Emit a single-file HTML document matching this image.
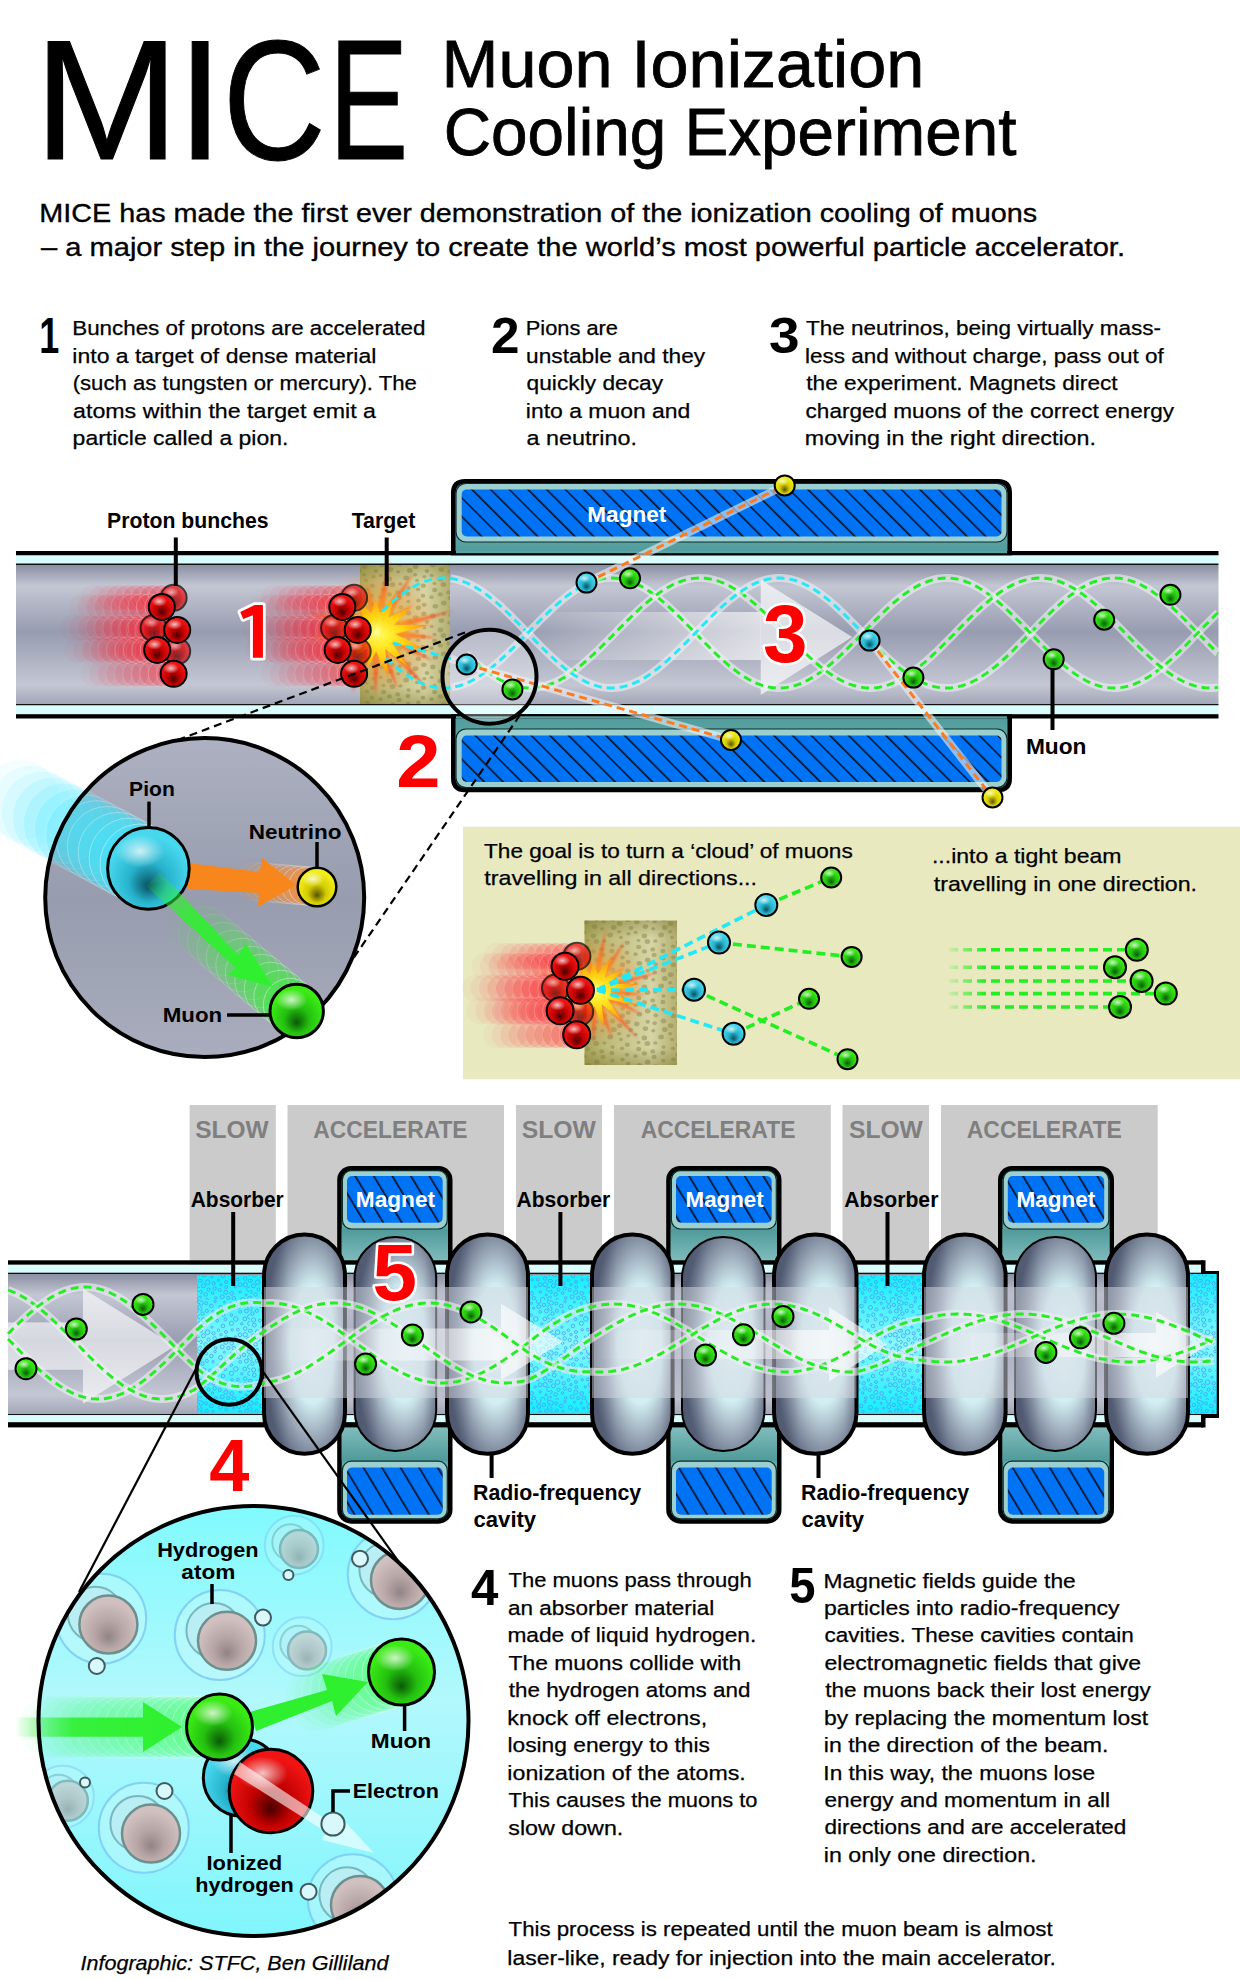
<!DOCTYPE html>
<html><head><meta charset="utf-8"><style>
html,body{margin:0;padding:0;background:#fff;width:1240px;height:1980px;overflow:hidden}
svg{display:block}
text{font-family:"Liberation Sans",sans-serif}
</style></head><body>
<svg width="1240" height="1980" viewBox="0 0 1240 1980">
<defs>
<radialGradient id="gGreen" cx="0.5" cy="0.6" r="0.6" fx="0.5" fy="0.72"><stop offset="0" stop-color="#0a5a06"/><stop offset="0.4" stop-color="#24c010"/><stop offset="0.85" stop-color="#3aec14"/><stop offset="1" stop-color="#3aec14"/></radialGradient>
<radialGradient id="gCyan" cx="0.5" cy="0.6" r="0.6" fx="0.5" fy="0.72"><stop offset="0" stop-color="#0a5060"/><stop offset="0.4" stop-color="#26b2cc"/><stop offset="0.85" stop-color="#48d8ee"/><stop offset="1" stop-color="#48d8ee"/></radialGradient>
<radialGradient id="gYellow" cx="0.5" cy="0.6" r="0.6" fx="0.5" fy="0.72"><stop offset="0" stop-color="#5a5200"/><stop offset="0.4" stop-color="#d4cc00"/><stop offset="0.85" stop-color="#f2ee18"/><stop offset="1" stop-color="#f2ee18"/></radialGradient>
<radialGradient id="gRed" cx="0.5" cy="0.6" r="0.6" fx="0.5" fy="0.72"><stop offset="0" stop-color="#4a0000"/><stop offset="0.4" stop-color="#c00000"/><stop offset="0.85" stop-color="#f01414"/><stop offset="1" stop-color="#f01414"/></radialGradient>
<radialGradient id="gPink" cx="0.5" cy="0.6" r="0.6" fx="0.5" fy="0.72"><stop offset="0" stop-color="#918486"/><stop offset="0.4" stop-color="#b8a6a6"/><stop offset="0.85" stop-color="#d0c0c0"/><stop offset="1" stop-color="#d0c0c0"/></radialGradient>
<radialGradient id="shine" cx="0.5" cy="0.5" r="0.5"><stop offset="0" stop-color="#fff" stop-opacity="0.75"/><stop offset="1" stop-color="#fff" stop-opacity="0"/></radialGradient>
<linearGradient id="tubeG" x1="0" y1="0" x2="0" y2="1"><stop offset="0" stop-color="#8a8fa2"/><stop offset="0.15" stop-color="#c4c7d3"/><stop offset="0.48" stop-color="#979cb0"/><stop offset="0.86" stop-color="#c4c7d3"/><stop offset="1" stop-color="#a2a7b8"/></linearGradient>
<linearGradient id="circ1G" x1="0" y1="0" x2="0" y2="1"><stop offset="0" stop-color="#adb1c1"/><stop offset="0.5" stop-color="#979cae"/><stop offset="1" stop-color="#a9adbd"/></linearGradient>
<linearGradient id="circ2G" x1="0" y1="0" x2="0" y2="1"><stop offset="0" stop-color="#80fafe"/><stop offset="0.45" stop-color="#b2f8fc"/><stop offset="1" stop-color="#80f6fc"/></linearGradient>
<linearGradient id="targetG" x1="0" y1="0" x2="1" y2="0"><stop offset="0" stop-color="#a8a45a"/><stop offset="0.2" stop-color="#bcb875"/><stop offset="0.72" stop-color="#d7d5a6"/><stop offset="1" stop-color="#b3af70"/></linearGradient>
<linearGradient id="tealG" x1="0" y1="0" x2="0" y2="1"><stop offset="0" stop-color="#4f9a9a"/><stop offset="1" stop-color="#8cc4c4"/></linearGradient>
<linearGradient id="tealG2" x1="0" y1="1" x2="0" y2="0"><stop offset="0" stop-color="#4f9a9a"/><stop offset="1" stop-color="#8cc4c4"/></linearGradient>
<radialGradient id="cavG" cx="0.6" cy="0.5" r="0.6"><stop offset="0" stop-color="#e6fbfd"/><stop offset="0.45" stop-color="#d2eef2"/><stop offset="0.72" stop-color="#98a6b6"/><stop offset="1" stop-color="#58627a"/></radialGradient>
<linearGradient id="cavV" x1="0" y1="0" x2="1" y2="0"><stop offset="0" stop-color="#3c4458" stop-opacity="0.35"/><stop offset="0.3" stop-color="#3c4458" stop-opacity="0"/><stop offset="0.85" stop-color="#3c4458" stop-opacity="0"/><stop offset="1" stop-color="#3c4458" stop-opacity="0.25"/></linearGradient>
<linearGradient id="arrowShaft" x1="0" y1="0" x2="1" y2="0"><stop offset="0" stop-color="#fff" stop-opacity="0"/><stop offset="1" stop-color="#fff" stop-opacity="0.65"/></linearGradient>
<linearGradient id="trailR" x1="0" y1="0" x2="1" y2="0"><stop offset="0" stop-color="#ff2020" stop-opacity="0"/><stop offset="1" stop-color="#ff2020" stop-opacity="0.55"/></linearGradient>
<pattern id="hatch" patternUnits="userSpaceOnUse" width="15.9" height="15.9" patternTransform="rotate(-31)"><rect width="15.9" height="15.9" fill="#0073f5"/><rect x="0" y="0" width="1.7" height="15.9" fill="#06122a"/></pattern>
<pattern id="hatchU" patternUnits="userSpaceOnUse" width="13.2" height="13.2" patternTransform="rotate(-45)"><rect width="13.2" height="13.2" fill="#0073f5"/><rect x="0" y="0" width="1.6" height="13.2" fill="#06122a"/></pattern>
<pattern id="bubbles" patternUnits="userSpaceOnUse" width="50" height="50"><g fill="none" stroke="#4898f0" stroke-width="0.75"><circle cx="11.9" cy="27.2" r="1.1"/><circle cx="18.5" cy="30.2" r="1.3"/><circle cx="31.3" cy="3.3" r="1.1"/><circle cx="0.7" cy="41.9" r="1.6"/><circle cx="13.0" cy="11.7" r="1.2"/><circle cx="49.8" cy="23.5" r="2.1"/><circle cx="41.8" cy="23.8" r="1.2"/><circle cx="31.7" cy="43.4" r="1.8"/><circle cx="26.2" cy="37.1" r="1.4"/><circle cx="37.9" cy="29.6" r="1.4"/><circle cx="15.1" cy="1.6" r="1.2"/><circle cx="19.7" cy="40.0" r="1.6"/><circle cx="22.2" cy="46.8" r="2.0"/><circle cx="43.9" cy="4.9" r="1.7"/><circle cx="6.8" cy="10.8" r="1.6"/><circle cx="31.3" cy="15.1" r="1.3"/><circle cx="25.4" cy="19.3" r="1.4"/><circle cx="42.8" cy="49.5" r="2.1"/><circle cx="33.6" cy="8.2" r="1.1"/><circle cx="45.2" cy="28.5" r="1.8"/><circle cx="20.5" cy="7.5" r="2.0"/><circle cx="14.7" cy="38.4" r="1.7"/><circle cx="9.9" cy="20.4" r="1.4"/><circle cx="15.7" cy="47.9" r="1.3"/><circle cx="44.8" cy="18.9" r="1.9"/><circle cx="23.0" cy="26.0" r="1.8"/><circle cx="32.2" cy="29.8" r="1.2"/><circle cx="1.0" cy="30.8" r="1.4"/><circle cx="31.4" cy="23.3" r="2.1"/><circle cx="35.3" cy="36.9" r="1.1"/><circle cx="1.1" cy="3.0" r="2.2"/><circle cx="33.8" cy="48.2" r="1.8"/><circle cx="18.2" cy="15.6" r="1.3"/><circle cx="38.6" cy="1.3" r="2.2"/><circle cx="40.2" cy="11.9" r="1.4"/><circle cx="11.3" cy="6.0" r="1.8"/><circle cx="26.5" cy="9.5" r="1.6"/><circle cx="40.3" cy="41.9" r="1.2"/><circle cx="17.3" cy="20.8" r="1.4"/><circle cx="0.2" cy="47.2" r="1.2"/><circle cx="46.4" cy="11.1" r="1.9"/><circle cx="45.2" cy="34.7" r="2.2"/><circle cx="46.2" cy="44.8" r="1.1"/><circle cx="12.6" cy="43.1" r="1.3"/><circle cx="8.6" cy="39.6" r="1.6"/><circle cx="2.5" cy="13.6" r="1.7"/><circle cx="6.2" cy="3.4" r="1.5"/><circle cx="4.3" cy="25.1" r="1.9"/><circle cx="35.8" cy="19.0" r="2.3"/><circle cx="21.0" cy="34.7" r="1.2"/><circle cx="7.2" cy="49.6" r="1.2"/><circle cx="13.7" cy="33.3" r="1.6"/><circle cx="5.6" cy="44.4" r="1.8"/><circle cx="3.4" cy="35.8" r="2.0"/><circle cx="28.3" cy="48.0" r="1.6"/><circle cx="3.6" cy="20.0" r="2.1"/><circle cx="7.6" cy="32.2" r="2.3"/><circle cx="49.8" cy="16.8" r="2.2"/><circle cx="26.0" cy="32.0" r="1.5"/><circle cx="49.0" cy="39.3" r="2.3"/><circle cx="49.0" cy="1.8" r="1.7"/><circle cx="25.8" cy="42.3" r="2.0"/><circle cx="0.0" cy="8.9" r="2.1"/><circle cx="24.4" cy="2.2" r="1.0"/><circle cx="49.9" cy="7.1" r="2.3"/><circle cx="49.6" cy="48.6" r="2.0"/><circle cx="38.8" cy="6.6" r="1.9"/><circle cx="40.1" cy="34.8" r="1.9"/><circle cx="49.7" cy="30.8" r="1.5"/><circle cx="23.3" cy="14.6" r="1.7"/></g></pattern>
<linearGradient id="absG" x1="0" y1="0" x2="0" y2="1"><stop offset="0" stop-color="#14eefe"/><stop offset="0.5" stop-color="#86f8fe"/><stop offset="1" stop-color="#14eefe"/></linearGradient>
<pattern id="dots" patternUnits="userSpaceOnUse" width="51" height="51"><g fill="#8a864a" fill-opacity="0.5"><ellipse cx="0.5" cy="1.0" rx="2.8" ry="2.4"/><ellipse cx="0.5" cy="52.0" rx="2.8" ry="2.4"/><ellipse cx="51.5" cy="1.0" rx="2.8" ry="2.4"/><ellipse cx="51.5" cy="52.0" rx="2.8" ry="2.4"/><ellipse cx="1.8" cy="9.5" rx="2.9" ry="2.5"/><ellipse cx="52.8" cy="9.5" rx="2.9" ry="2.5"/><ellipse cx="-1.9" cy="16.9" rx="2.9" ry="2.5"/><ellipse cx="49.1" cy="16.9" rx="2.9" ry="2.5"/><ellipse cx="0.6" cy="27.1" rx="2.1" ry="1.8"/><ellipse cx="51.6" cy="27.1" rx="2.1" ry="1.8"/><ellipse cx="-0.1" cy="33.0" rx="2.5" ry="2.2"/><ellipse cx="50.9" cy="33.0" rx="2.5" ry="2.2"/><ellipse cx="0.3" cy="40.6" rx="2.2" ry="1.9"/><ellipse cx="51.3" cy="40.6" rx="2.2" ry="1.9"/><ellipse cx="7.6" cy="5.7" rx="2.8" ry="2.4"/><ellipse cx="7.1" cy="13.7" rx="2.1" ry="1.8"/><ellipse cx="9.0" cy="19.5" rx="2.0" ry="1.7"/><ellipse cx="10.0" cy="28.3" rx="2.2" ry="1.9"/><ellipse cx="10.4" cy="39.5" rx="2.3" ry="1.9"/><ellipse cx="10.3" cy="46.7" rx="2.7" ry="2.3"/><ellipse cx="15.8" cy="1.8" rx="2.7" ry="2.3"/><ellipse cx="15.8" cy="52.8" rx="2.7" ry="2.3"/><ellipse cx="18.9" cy="10.1" rx="2.3" ry="2.0"/><ellipse cx="16.4" cy="15.7" rx="2.1" ry="1.8"/><ellipse cx="15.3" cy="24.7" rx="2.6" ry="2.2"/><ellipse cx="15.0" cy="34.7" rx="2.3" ry="2.0"/><ellipse cx="16.2" cy="43.8" rx="2.5" ry="2.1"/><ellipse cx="24.8" cy="3.9" rx="2.7" ry="2.3"/><ellipse cx="24.8" cy="54.9" rx="2.7" ry="2.3"/><ellipse cx="23.7" cy="14.4" rx="2.0" ry="1.7"/><ellipse cx="26.5" cy="22.4" rx="2.0" ry="1.7"/><ellipse cx="26.7" cy="29.0" rx="2.6" ry="2.2"/><ellipse cx="23.5" cy="36.2" rx="2.2" ry="1.9"/><ellipse cx="27.3" cy="45.3" rx="2.8" ry="2.3"/><ellipse cx="35.7" cy="1.8" rx="2.3" ry="2.0"/><ellipse cx="35.7" cy="52.8" rx="2.3" ry="2.0"/><ellipse cx="33.4" cy="8.6" rx="2.8" ry="2.4"/><ellipse cx="32.4" cy="18.0" rx="2.8" ry="2.4"/><ellipse cx="35.4" cy="23.6" rx="2.9" ry="2.5"/><ellipse cx="32.4" cy="33.4" rx="2.6" ry="2.2"/><ellipse cx="35.7" cy="41.9" rx="2.9" ry="2.5"/><ellipse cx="42.7" cy="3.2" rx="2.3" ry="2.0"/><ellipse cx="42.7" cy="54.2" rx="2.3" ry="2.0"/><ellipse cx="41.2" cy="10.8" rx="2.1" ry="1.8"/><ellipse cx="43.3" cy="23.0" rx="2.2" ry="1.8"/><ellipse cx="40.7" cy="31.4" rx="2.5" ry="2.2"/><ellipse cx="42.1" cy="36.9" rx="2.6" ry="2.2"/><ellipse cx="43.8" cy="46.3" rx="2.4" ry="2.1"/></g></pattern>
<linearGradient id="targetV" x1="0" y1="0" x2="0" y2="1"><stop offset="0" stop-color="#6a6620" stop-opacity="0.35"/><stop offset="0.12" stop-color="#6a6620" stop-opacity="0"/><stop offset="0.88" stop-color="#6a6620" stop-opacity="0"/><stop offset="1" stop-color="#6a6620" stop-opacity="0.35"/></linearGradient>
<radialGradient id="glowG"><stop offset="0" stop-color="#fff8a0" stop-opacity="0.9"/><stop offset="0.5" stop-color="#ffb040" stop-opacity="0.45"/><stop offset="1" stop-color="#ff8040" stop-opacity="0"/></radialGradient>
<radialGradient id="expG" cx="0.5" cy="0.5" r="0.5"><stop offset="0" stop-color="#ffc000"/><stop offset="0.4" stop-color="#ff7a18"/><stop offset="1" stop-color="#ff3a2a"/></radialGradient>
<radialGradient id="expG2" cx="0.5" cy="0.5" r="0.5"><stop offset="0" stop-color="#ffff40"/><stop offset="0.5" stop-color="#ffd010"/><stop offset="1" stop-color="#ff8a10"/></radialGradient>
<radialGradient id="expC" cx="0.5" cy="0.5" r="0.5"><stop offset="0" stop-color="#ffffa0"/><stop offset="1" stop-color="#ffe020" stop-opacity="0"/></radialGradient>
<linearGradient id="beamG" gradientUnits="userSpaceOnUse" x1="945" y1="0" x2="985" y2="0"><stop offset="0" stop-color="#22ee22" stop-opacity="0"/><stop offset="1" stop-color="#22ee22"/></linearGradient>
<filter id="blur2" x="-50%" y="-50%" width="200%" height="200%"><feGaussianBlur stdDeviation="2"/></filter>
<filter id="blur1" x="-50%" y="-50%" width="200%" height="200%"><feGaussianBlur stdDeviation="1"/></filter>
</defs>
<text x="33.81" y="159.00" font-size="171" font-weight="normal" fill="#000" textLength="145.71" lengthAdjust="spacingAndGlyphs" stroke="#000" stroke-width="1">M</text>
<text x="176.40" y="159.00" font-size="171" font-weight="normal" fill="#000" textLength="47.23" lengthAdjust="spacingAndGlyphs" stroke="#000" stroke-width="1">I</text>
<text x="222.87" y="159.00" font-size="171" font-weight="normal" fill="#000" textLength="102.94" lengthAdjust="spacingAndGlyphs" stroke="#000" stroke-width="1">C</text>
<text x="328.89" y="159.00" font-size="171" font-weight="normal" fill="#000" textLength="79.32" lengthAdjust="spacingAndGlyphs" stroke="#000" stroke-width="1">E</text>
<text x="441.53" y="86.60" font-size="66" font-weight="normal" fill="#000" textLength="482.83" lengthAdjust="spacingAndGlyphs" stroke="#000" stroke-width="0.8">Muon Ionization</text>
<text x="443.72" y="154.80" font-size="66" font-weight="normal" fill="#000" textLength="572.68" lengthAdjust="spacingAndGlyphs" stroke="#000" stroke-width="0.8">Cooling Experiment</text>
<text x="39.30" y="222.00" font-size="26.5" font-weight="normal" fill="#000" textLength="997.92" lengthAdjust="spacingAndGlyphs" stroke="#000" stroke-width="0.35">MICE has made the first ever demonstration of the ionization cooling of muons</text>
<text x="41.00" y="255.80" font-size="26.5" font-weight="normal" fill="#000" textLength="1083.98" lengthAdjust="spacingAndGlyphs" stroke="#000" stroke-width="0.35">– a major step in the journey to create the world’s most powerful particle accelerator.</text>
<text x="39.34" y="352.60" font-size="50" font-weight="bold" fill="#000" textLength="20.00" lengthAdjust="spacingAndGlyphs" >1</text>
<text x="72.21" y="335.40" font-size="20.5" font-weight="normal" fill="#000" textLength="353.28" lengthAdjust="spacingAndGlyphs" stroke="#000" stroke-width="0.25">Bunches of protons are accelerated</text>
<text x="72.39" y="362.80" font-size="20.5" font-weight="normal" fill="#000" textLength="303.96" lengthAdjust="spacingAndGlyphs" stroke="#000" stroke-width="0.25">into a target of dense material</text>
<text x="72.67" y="390.20" font-size="20.5" font-weight="normal" fill="#000" textLength="344.26" lengthAdjust="spacingAndGlyphs" stroke="#000" stroke-width="0.25">(such as tungsten or mercury). The</text>
<text x="73.07" y="417.60" font-size="20.5" font-weight="normal" fill="#000" textLength="302.94" lengthAdjust="spacingAndGlyphs" stroke="#000" stroke-width="0.25">atoms within the target emit a</text>
<text x="72.62" y="445.00" font-size="20.5" font-weight="normal" fill="#000" textLength="215.81" lengthAdjust="spacingAndGlyphs" stroke="#000" stroke-width="0.25">particle called a pion.</text>
<text x="491.06" y="353.00" font-size="50" font-weight="bold" fill="#000" textLength="28.49" lengthAdjust="spacingAndGlyphs" >2</text>
<text x="525.75" y="335.40" font-size="20.5" font-weight="normal" fill="#000" textLength="92.22" lengthAdjust="spacingAndGlyphs" stroke="#000" stroke-width="0.25">Pions are</text>
<text x="526.14" y="362.80" font-size="20.5" font-weight="normal" fill="#000" textLength="178.96" lengthAdjust="spacingAndGlyphs" stroke="#000" stroke-width="0.25">unstable and they</text>
<text x="526.59" y="390.20" font-size="20.5" font-weight="normal" fill="#000" textLength="136.47" lengthAdjust="spacingAndGlyphs" stroke="#000" stroke-width="0.25">quickly decay</text>
<text x="525.89" y="417.60" font-size="20.5" font-weight="normal" fill="#000" textLength="164.51" lengthAdjust="spacingAndGlyphs" stroke="#000" stroke-width="0.25">into a muon and</text>
<text x="526.57" y="445.00" font-size="20.5" font-weight="normal" fill="#000" textLength="110.42" lengthAdjust="spacingAndGlyphs" stroke="#000" stroke-width="0.25">a neutrino.</text>
<text x="768.90" y="352.60" font-size="50" font-weight="bold" fill="#000" textLength="30.59" lengthAdjust="spacingAndGlyphs" >3</text>
<text x="806.05" y="335.40" font-size="20.5" font-weight="normal" fill="#000" textLength="354.93" lengthAdjust="spacingAndGlyphs" stroke="#000" stroke-width="0.25">The neutrinos, being virtually mass-</text>
<text x="804.93" y="362.80" font-size="20.5" font-weight="normal" fill="#000" textLength="358.92" lengthAdjust="spacingAndGlyphs" stroke="#000" stroke-width="0.25">less and without charge, pass out of</text>
<text x="806.27" y="390.20" font-size="20.5" font-weight="normal" fill="#000" textLength="311.41" lengthAdjust="spacingAndGlyphs" stroke="#000" stroke-width="0.25">the experiment. Magnets direct</text>
<text x="805.60" y="417.60" font-size="20.5" font-weight="normal" fill="#000" textLength="368.42" lengthAdjust="spacingAndGlyphs" stroke="#000" stroke-width="0.25">charged muons of the correct energy</text>
<text x="804.87" y="445.00" font-size="20.5" font-weight="normal" fill="#000" textLength="291.12" lengthAdjust="spacingAndGlyphs" stroke="#000" stroke-width="0.25">moving in the right direction.</text>
<path d="M451,556 V493 Q451,479 465,479 H998 Q1012,479 1012,493 V556 Z" fill="#000"/>
<path d="M455.5,554.5 V493.5 Q455.5,483.5 465.5,483.5 H997.5 Q1007.5,483.5 1007.5,493.5 V554.5 Z" fill="url(#tealG2)"/>
<path d="M451,714 V778.3 Q451,792.3 465,792.3 H998 Q1012,792.3 1012,778.3 V714 Z" fill="#000"/>
<path d="M455.5,715.5 V777.8 Q455.5,787.8 465.5,787.8 H997.5 Q1007.5,787.8 1007.5,777.8 V715.5 Z" fill="url(#tealG)"/>
<rect x="456" y="483.5" width="551" height="58.5" rx="10" fill="#9ccfcf" stroke="#0d2a2a" stroke-width="1.2"/>
<rect x="461.7" y="489.4" width="539.8" height="47.1" rx="5" fill="url(#hatchU)"/>
<rect x="456" y="729" width="551" height="58.7" rx="10" fill="#9ccfcf" stroke="#0d2a2a" stroke-width="1.2"/>
<rect x="461.7" y="735.5" width="539.8" height="46.5" rx="5" fill="url(#hatchU)"/>
<rect x="16.00" y="551.00" width="1202.50" height="4.50" fill="#000" />
<rect x="451.00" y="551.00" width="561.00" height="4.50" fill="#000" />
<rect x="456.00" y="551.00" width="551.00" height="2.20" fill="#5aa3a3" />
<rect x="16.00" y="555.50" width="1202.50" height="8.00" fill="#d9fcfc" />
<rect x="16.00" y="563.50" width="1202.50" height="1.50" fill="#111" />
<rect x="16.00" y="565.00" width="1202.50" height="139.00" fill="url(#tubeG)" />
<rect x="16.00" y="704.00" width="1202.50" height="1.50" fill="#111" />
<rect x="16.00" y="705.50" width="1202.50" height="8.70" fill="#d9fcfc" />
<rect x="16.00" y="714.20" width="1202.50" height="4.30" fill="#000" />
<rect x="456.00" y="716.30" width="551.00" height="2.20" fill="#5aa3a3" />
<rect x="360.00" y="565.00" width="90.00" height="139.00" fill="url(#targetG)" />
<rect x="360.00" y="565.00" width="90.00" height="139.00" fill="url(#dots)" />
<rect x="360.00" y="565.00" width="90.00" height="139.00" fill="url(#targetV)" />
<circle cx="93.6" cy="597.8" r="13.0" fill="#ff2030" fill-opacity="0.030" stroke="#fff" stroke-opacity="0.00" stroke-width="0.9"/>
<circle cx="102.0" cy="597.8" r="13.0" fill="#ff2030" fill-opacity="0.056" stroke="#fff" stroke-opacity="0.03" stroke-width="0.9"/>
<circle cx="110.5" cy="597.8" r="13.0" fill="#ff2030" fill-opacity="0.081" stroke="#fff" stroke-opacity="0.07" stroke-width="0.9"/>
<circle cx="118.9" cy="597.8" r="13.0" fill="#ff2030" fill-opacity="0.107" stroke="#fff" stroke-opacity="0.10" stroke-width="0.9"/>
<circle cx="127.4" cy="597.8" r="13.0" fill="#ff2030" fill-opacity="0.132" stroke="#fff" stroke-opacity="0.13" stroke-width="0.9"/>
<circle cx="135.8" cy="597.8" r="13.0" fill="#ff2030" fill-opacity="0.158" stroke="#fff" stroke-opacity="0.17" stroke-width="0.9"/>
<circle cx="144.3" cy="597.8" r="13.0" fill="#ff2030" fill-opacity="0.183" stroke="#fff" stroke-opacity="0.20" stroke-width="0.9"/>
<circle cx="152.7" cy="597.8" r="13.0" fill="#ff2030" fill-opacity="0.209" stroke="#fff" stroke-opacity="0.23" stroke-width="0.9"/>
<circle cx="161.2" cy="597.8" r="13.0" fill="#ff2030" fill-opacity="0.234" stroke="#fff" stroke-opacity="0.27" stroke-width="0.9"/>
<circle cx="169.6" cy="597.8" r="13.0" fill="#ff2030" fill-opacity="0.260" stroke="#fff" stroke-opacity="0.30" stroke-width="0.9"/>
<circle cx="73.6" cy="628.0" r="13.0" fill="#ff2030" fill-opacity="0.030" stroke="#fff" stroke-opacity="0.00" stroke-width="0.9"/>
<circle cx="82.0" cy="628.0" r="13.0" fill="#ff2030" fill-opacity="0.056" stroke="#fff" stroke-opacity="0.03" stroke-width="0.9"/>
<circle cx="90.5" cy="628.0" r="13.0" fill="#ff2030" fill-opacity="0.081" stroke="#fff" stroke-opacity="0.07" stroke-width="0.9"/>
<circle cx="98.9" cy="628.0" r="13.0" fill="#ff2030" fill-opacity="0.107" stroke="#fff" stroke-opacity="0.10" stroke-width="0.9"/>
<circle cx="107.4" cy="628.0" r="13.0" fill="#ff2030" fill-opacity="0.132" stroke="#fff" stroke-opacity="0.13" stroke-width="0.9"/>
<circle cx="115.8" cy="628.0" r="13.0" fill="#ff2030" fill-opacity="0.158" stroke="#fff" stroke-opacity="0.17" stroke-width="0.9"/>
<circle cx="124.3" cy="628.0" r="13.0" fill="#ff2030" fill-opacity="0.183" stroke="#fff" stroke-opacity="0.20" stroke-width="0.9"/>
<circle cx="132.7" cy="628.0" r="13.0" fill="#ff2030" fill-opacity="0.209" stroke="#fff" stroke-opacity="0.23" stroke-width="0.9"/>
<circle cx="141.2" cy="628.0" r="13.0" fill="#ff2030" fill-opacity="0.234" stroke="#fff" stroke-opacity="0.27" stroke-width="0.9"/>
<circle cx="149.6" cy="628.0" r="13.0" fill="#ff2030" fill-opacity="0.260" stroke="#fff" stroke-opacity="0.30" stroke-width="0.9"/>
<circle cx="97.2" cy="651.3" r="13.0" fill="#ff2030" fill-opacity="0.030" stroke="#fff" stroke-opacity="0.00" stroke-width="0.9"/>
<circle cx="105.6" cy="651.3" r="13.0" fill="#ff2030" fill-opacity="0.056" stroke="#fff" stroke-opacity="0.03" stroke-width="0.9"/>
<circle cx="114.1" cy="651.3" r="13.0" fill="#ff2030" fill-opacity="0.081" stroke="#fff" stroke-opacity="0.07" stroke-width="0.9"/>
<circle cx="122.5" cy="651.3" r="13.0" fill="#ff2030" fill-opacity="0.107" stroke="#fff" stroke-opacity="0.10" stroke-width="0.9"/>
<circle cx="131.0" cy="651.3" r="13.0" fill="#ff2030" fill-opacity="0.132" stroke="#fff" stroke-opacity="0.13" stroke-width="0.9"/>
<circle cx="139.4" cy="651.3" r="13.0" fill="#ff2030" fill-opacity="0.158" stroke="#fff" stroke-opacity="0.17" stroke-width="0.9"/>
<circle cx="147.9" cy="651.3" r="13.0" fill="#ff2030" fill-opacity="0.183" stroke="#fff" stroke-opacity="0.20" stroke-width="0.9"/>
<circle cx="156.3" cy="651.3" r="13.0" fill="#ff2030" fill-opacity="0.209" stroke="#fff" stroke-opacity="0.23" stroke-width="0.9"/>
<circle cx="164.8" cy="651.3" r="13.0" fill="#ff2030" fill-opacity="0.234" stroke="#fff" stroke-opacity="0.27" stroke-width="0.9"/>
<circle cx="173.2" cy="651.3" r="13.0" fill="#ff2030" fill-opacity="0.260" stroke="#fff" stroke-opacity="0.30" stroke-width="0.9"/>
<circle cx="81.8" cy="606.9" r="13.0" fill="#ff2030" fill-opacity="0.030" stroke="#fff" stroke-opacity="0.00" stroke-width="0.9"/>
<circle cx="90.2" cy="606.9" r="13.0" fill="#ff2030" fill-opacity="0.056" stroke="#fff" stroke-opacity="0.03" stroke-width="0.9"/>
<circle cx="98.7" cy="606.9" r="13.0" fill="#ff2030" fill-opacity="0.081" stroke="#fff" stroke-opacity="0.07" stroke-width="0.9"/>
<circle cx="107.1" cy="606.9" r="13.0" fill="#ff2030" fill-opacity="0.107" stroke="#fff" stroke-opacity="0.10" stroke-width="0.9"/>
<circle cx="115.6" cy="606.9" r="13.0" fill="#ff2030" fill-opacity="0.132" stroke="#fff" stroke-opacity="0.13" stroke-width="0.9"/>
<circle cx="124.0" cy="606.9" r="13.0" fill="#ff2030" fill-opacity="0.158" stroke="#fff" stroke-opacity="0.17" stroke-width="0.9"/>
<circle cx="132.5" cy="606.9" r="13.0" fill="#ff2030" fill-opacity="0.183" stroke="#fff" stroke-opacity="0.20" stroke-width="0.9"/>
<circle cx="140.9" cy="606.9" r="13.0" fill="#ff2030" fill-opacity="0.209" stroke="#fff" stroke-opacity="0.23" stroke-width="0.9"/>
<circle cx="149.4" cy="606.9" r="13.0" fill="#ff2030" fill-opacity="0.234" stroke="#fff" stroke-opacity="0.27" stroke-width="0.9"/>
<circle cx="157.8" cy="606.9" r="13.0" fill="#ff2030" fill-opacity="0.260" stroke="#fff" stroke-opacity="0.30" stroke-width="0.9"/>
<circle cx="97.2" cy="629.9" r="13.0" fill="#ff2030" fill-opacity="0.030" stroke="#fff" stroke-opacity="0.00" stroke-width="0.9"/>
<circle cx="105.6" cy="629.9" r="13.0" fill="#ff2030" fill-opacity="0.056" stroke="#fff" stroke-opacity="0.03" stroke-width="0.9"/>
<circle cx="114.1" cy="629.9" r="13.0" fill="#ff2030" fill-opacity="0.081" stroke="#fff" stroke-opacity="0.07" stroke-width="0.9"/>
<circle cx="122.5" cy="629.9" r="13.0" fill="#ff2030" fill-opacity="0.107" stroke="#fff" stroke-opacity="0.10" stroke-width="0.9"/>
<circle cx="131.0" cy="629.9" r="13.0" fill="#ff2030" fill-opacity="0.132" stroke="#fff" stroke-opacity="0.13" stroke-width="0.9"/>
<circle cx="139.4" cy="629.9" r="13.0" fill="#ff2030" fill-opacity="0.158" stroke="#fff" stroke-opacity="0.17" stroke-width="0.9"/>
<circle cx="147.9" cy="629.9" r="13.0" fill="#ff2030" fill-opacity="0.183" stroke="#fff" stroke-opacity="0.20" stroke-width="0.9"/>
<circle cx="156.3" cy="629.9" r="13.0" fill="#ff2030" fill-opacity="0.209" stroke="#fff" stroke-opacity="0.23" stroke-width="0.9"/>
<circle cx="164.8" cy="629.9" r="13.0" fill="#ff2030" fill-opacity="0.234" stroke="#fff" stroke-opacity="0.27" stroke-width="0.9"/>
<circle cx="173.2" cy="629.9" r="13.0" fill="#ff2030" fill-opacity="0.260" stroke="#fff" stroke-opacity="0.30" stroke-width="0.9"/>
<circle cx="77.2" cy="649.9" r="13.0" fill="#ff2030" fill-opacity="0.030" stroke="#fff" stroke-opacity="0.00" stroke-width="0.9"/>
<circle cx="85.6" cy="649.9" r="13.0" fill="#ff2030" fill-opacity="0.056" stroke="#fff" stroke-opacity="0.03" stroke-width="0.9"/>
<circle cx="94.1" cy="649.9" r="13.0" fill="#ff2030" fill-opacity="0.081" stroke="#fff" stroke-opacity="0.07" stroke-width="0.9"/>
<circle cx="102.5" cy="649.9" r="13.0" fill="#ff2030" fill-opacity="0.107" stroke="#fff" stroke-opacity="0.10" stroke-width="0.9"/>
<circle cx="111.0" cy="649.9" r="13.0" fill="#ff2030" fill-opacity="0.132" stroke="#fff" stroke-opacity="0.13" stroke-width="0.9"/>
<circle cx="119.4" cy="649.9" r="13.0" fill="#ff2030" fill-opacity="0.158" stroke="#fff" stroke-opacity="0.17" stroke-width="0.9"/>
<circle cx="127.9" cy="649.9" r="13.0" fill="#ff2030" fill-opacity="0.183" stroke="#fff" stroke-opacity="0.20" stroke-width="0.9"/>
<circle cx="136.3" cy="649.9" r="13.0" fill="#ff2030" fill-opacity="0.209" stroke="#fff" stroke-opacity="0.23" stroke-width="0.9"/>
<circle cx="144.8" cy="649.9" r="13.0" fill="#ff2030" fill-opacity="0.234" stroke="#fff" stroke-opacity="0.27" stroke-width="0.9"/>
<circle cx="153.2" cy="649.9" r="13.0" fill="#ff2030" fill-opacity="0.260" stroke="#fff" stroke-opacity="0.30" stroke-width="0.9"/>
<circle cx="93.6" cy="673.8" r="13.0" fill="#ff2030" fill-opacity="0.030" stroke="#fff" stroke-opacity="0.00" stroke-width="0.9"/>
<circle cx="102.0" cy="673.8" r="13.0" fill="#ff2030" fill-opacity="0.056" stroke="#fff" stroke-opacity="0.03" stroke-width="0.9"/>
<circle cx="110.5" cy="673.8" r="13.0" fill="#ff2030" fill-opacity="0.081" stroke="#fff" stroke-opacity="0.07" stroke-width="0.9"/>
<circle cx="118.9" cy="673.8" r="13.0" fill="#ff2030" fill-opacity="0.107" stroke="#fff" stroke-opacity="0.10" stroke-width="0.9"/>
<circle cx="127.4" cy="673.8" r="13.0" fill="#ff2030" fill-opacity="0.132" stroke="#fff" stroke-opacity="0.13" stroke-width="0.9"/>
<circle cx="135.8" cy="673.8" r="13.0" fill="#ff2030" fill-opacity="0.158" stroke="#fff" stroke-opacity="0.17" stroke-width="0.9"/>
<circle cx="144.3" cy="673.8" r="13.0" fill="#ff2030" fill-opacity="0.183" stroke="#fff" stroke-opacity="0.20" stroke-width="0.9"/>
<circle cx="152.7" cy="673.8" r="13.0" fill="#ff2030" fill-opacity="0.209" stroke="#fff" stroke-opacity="0.23" stroke-width="0.9"/>
<circle cx="161.2" cy="673.8" r="13.0" fill="#ff2030" fill-opacity="0.234" stroke="#fff" stroke-opacity="0.27" stroke-width="0.9"/>
<circle cx="169.6" cy="673.8" r="13.0" fill="#ff2030" fill-opacity="0.260" stroke="#fff" stroke-opacity="0.30" stroke-width="0.9"/>
<g opacity="0.7"><circle cx="173.6" cy="597.8" r="13.0" fill="url(#gRed)"/><ellipse cx="171.0" cy="592.3" rx="7.8" ry="5.2" fill="url(#shine)"/><circle cx="173.6" cy="597.8" r="13.0" fill="none" stroke="#000" stroke-width="2"/></g>
<g opacity="0.7"><circle cx="153.6" cy="628.0" r="13.0" fill="url(#gRed)"/><ellipse cx="151.0" cy="622.5" rx="7.8" ry="5.2" fill="url(#shine)"/><circle cx="153.6" cy="628.0" r="13.0" fill="none" stroke="#000" stroke-width="2"/></g>
<g opacity="0.7"><circle cx="177.2" cy="651.3" r="13.0" fill="url(#gRed)"/><ellipse cx="174.6" cy="645.8" rx="7.8" ry="5.2" fill="url(#shine)"/><circle cx="177.2" cy="651.3" r="13.0" fill="none" stroke="#000" stroke-width="2"/></g>
<g><circle cx="161.8" cy="606.9" r="13.0" fill="url(#gRed)"/><ellipse cx="159.2" cy="601.4" rx="7.8" ry="5.2" fill="url(#shine)"/><circle cx="161.8" cy="606.9" r="13.0" fill="none" stroke="#000" stroke-width="2"/></g>
<g><circle cx="177.2" cy="629.9" r="13.0" fill="url(#gRed)"/><ellipse cx="174.6" cy="624.4" rx="7.8" ry="5.2" fill="url(#shine)"/><circle cx="177.2" cy="629.9" r="13.0" fill="none" stroke="#000" stroke-width="2"/></g>
<g><circle cx="157.2" cy="649.9" r="13.0" fill="url(#gRed)"/><ellipse cx="154.6" cy="644.4" rx="7.8" ry="5.2" fill="url(#shine)"/><circle cx="157.2" cy="649.9" r="13.0" fill="none" stroke="#000" stroke-width="2"/></g>
<g><circle cx="173.6" cy="673.8" r="13.0" fill="url(#gRed)"/><ellipse cx="171.0" cy="668.3" rx="7.8" ry="5.2" fill="url(#shine)"/><circle cx="173.6" cy="673.8" r="13.0" fill="none" stroke="#000" stroke-width="2"/></g>
<circle cx="274.1" cy="597.8" r="13.0" fill="#ff2030" fill-opacity="0.030" stroke="#fff" stroke-opacity="0.00" stroke-width="0.9"/>
<circle cx="282.5" cy="597.8" r="13.0" fill="#ff2030" fill-opacity="0.056" stroke="#fff" stroke-opacity="0.03" stroke-width="0.9"/>
<circle cx="291.0" cy="597.8" r="13.0" fill="#ff2030" fill-opacity="0.081" stroke="#fff" stroke-opacity="0.07" stroke-width="0.9"/>
<circle cx="299.4" cy="597.8" r="13.0" fill="#ff2030" fill-opacity="0.107" stroke="#fff" stroke-opacity="0.10" stroke-width="0.9"/>
<circle cx="307.9" cy="597.8" r="13.0" fill="#ff2030" fill-opacity="0.132" stroke="#fff" stroke-opacity="0.13" stroke-width="0.9"/>
<circle cx="316.3" cy="597.8" r="13.0" fill="#ff2030" fill-opacity="0.158" stroke="#fff" stroke-opacity="0.17" stroke-width="0.9"/>
<circle cx="324.8" cy="597.8" r="13.0" fill="#ff2030" fill-opacity="0.183" stroke="#fff" stroke-opacity="0.20" stroke-width="0.9"/>
<circle cx="333.2" cy="597.8" r="13.0" fill="#ff2030" fill-opacity="0.209" stroke="#fff" stroke-opacity="0.23" stroke-width="0.9"/>
<circle cx="341.7" cy="597.8" r="13.0" fill="#ff2030" fill-opacity="0.234" stroke="#fff" stroke-opacity="0.27" stroke-width="0.9"/>
<circle cx="350.1" cy="597.8" r="13.0" fill="#ff2030" fill-opacity="0.260" stroke="#fff" stroke-opacity="0.30" stroke-width="0.9"/>
<circle cx="254.1" cy="628.0" r="13.0" fill="#ff2030" fill-opacity="0.030" stroke="#fff" stroke-opacity="0.00" stroke-width="0.9"/>
<circle cx="262.5" cy="628.0" r="13.0" fill="#ff2030" fill-opacity="0.056" stroke="#fff" stroke-opacity="0.03" stroke-width="0.9"/>
<circle cx="271.0" cy="628.0" r="13.0" fill="#ff2030" fill-opacity="0.081" stroke="#fff" stroke-opacity="0.07" stroke-width="0.9"/>
<circle cx="279.4" cy="628.0" r="13.0" fill="#ff2030" fill-opacity="0.107" stroke="#fff" stroke-opacity="0.10" stroke-width="0.9"/>
<circle cx="287.9" cy="628.0" r="13.0" fill="#ff2030" fill-opacity="0.132" stroke="#fff" stroke-opacity="0.13" stroke-width="0.9"/>
<circle cx="296.3" cy="628.0" r="13.0" fill="#ff2030" fill-opacity="0.158" stroke="#fff" stroke-opacity="0.17" stroke-width="0.9"/>
<circle cx="304.8" cy="628.0" r="13.0" fill="#ff2030" fill-opacity="0.183" stroke="#fff" stroke-opacity="0.20" stroke-width="0.9"/>
<circle cx="313.2" cy="628.0" r="13.0" fill="#ff2030" fill-opacity="0.209" stroke="#fff" stroke-opacity="0.23" stroke-width="0.9"/>
<circle cx="321.7" cy="628.0" r="13.0" fill="#ff2030" fill-opacity="0.234" stroke="#fff" stroke-opacity="0.27" stroke-width="0.9"/>
<circle cx="330.1" cy="628.0" r="13.0" fill="#ff2030" fill-opacity="0.260" stroke="#fff" stroke-opacity="0.30" stroke-width="0.9"/>
<circle cx="277.7" cy="651.3" r="13.0" fill="#ff2030" fill-opacity="0.030" stroke="#fff" stroke-opacity="0.00" stroke-width="0.9"/>
<circle cx="286.1" cy="651.3" r="13.0" fill="#ff2030" fill-opacity="0.056" stroke="#fff" stroke-opacity="0.03" stroke-width="0.9"/>
<circle cx="294.6" cy="651.3" r="13.0" fill="#ff2030" fill-opacity="0.081" stroke="#fff" stroke-opacity="0.07" stroke-width="0.9"/>
<circle cx="303.0" cy="651.3" r="13.0" fill="#ff2030" fill-opacity="0.107" stroke="#fff" stroke-opacity="0.10" stroke-width="0.9"/>
<circle cx="311.5" cy="651.3" r="13.0" fill="#ff2030" fill-opacity="0.132" stroke="#fff" stroke-opacity="0.13" stroke-width="0.9"/>
<circle cx="319.9" cy="651.3" r="13.0" fill="#ff2030" fill-opacity="0.158" stroke="#fff" stroke-opacity="0.17" stroke-width="0.9"/>
<circle cx="328.4" cy="651.3" r="13.0" fill="#ff2030" fill-opacity="0.183" stroke="#fff" stroke-opacity="0.20" stroke-width="0.9"/>
<circle cx="336.8" cy="651.3" r="13.0" fill="#ff2030" fill-opacity="0.209" stroke="#fff" stroke-opacity="0.23" stroke-width="0.9"/>
<circle cx="345.3" cy="651.3" r="13.0" fill="#ff2030" fill-opacity="0.234" stroke="#fff" stroke-opacity="0.27" stroke-width="0.9"/>
<circle cx="353.7" cy="651.3" r="13.0" fill="#ff2030" fill-opacity="0.260" stroke="#fff" stroke-opacity="0.30" stroke-width="0.9"/>
<circle cx="262.3" cy="606.9" r="13.0" fill="#ff2030" fill-opacity="0.030" stroke="#fff" stroke-opacity="0.00" stroke-width="0.9"/>
<circle cx="270.7" cy="606.9" r="13.0" fill="#ff2030" fill-opacity="0.056" stroke="#fff" stroke-opacity="0.03" stroke-width="0.9"/>
<circle cx="279.2" cy="606.9" r="13.0" fill="#ff2030" fill-opacity="0.081" stroke="#fff" stroke-opacity="0.07" stroke-width="0.9"/>
<circle cx="287.6" cy="606.9" r="13.0" fill="#ff2030" fill-opacity="0.107" stroke="#fff" stroke-opacity="0.10" stroke-width="0.9"/>
<circle cx="296.1" cy="606.9" r="13.0" fill="#ff2030" fill-opacity="0.132" stroke="#fff" stroke-opacity="0.13" stroke-width="0.9"/>
<circle cx="304.5" cy="606.9" r="13.0" fill="#ff2030" fill-opacity="0.158" stroke="#fff" stroke-opacity="0.17" stroke-width="0.9"/>
<circle cx="313.0" cy="606.9" r="13.0" fill="#ff2030" fill-opacity="0.183" stroke="#fff" stroke-opacity="0.20" stroke-width="0.9"/>
<circle cx="321.4" cy="606.9" r="13.0" fill="#ff2030" fill-opacity="0.209" stroke="#fff" stroke-opacity="0.23" stroke-width="0.9"/>
<circle cx="329.9" cy="606.9" r="13.0" fill="#ff2030" fill-opacity="0.234" stroke="#fff" stroke-opacity="0.27" stroke-width="0.9"/>
<circle cx="338.3" cy="606.9" r="13.0" fill="#ff2030" fill-opacity="0.260" stroke="#fff" stroke-opacity="0.30" stroke-width="0.9"/>
<circle cx="277.7" cy="629.9" r="13.0" fill="#ff2030" fill-opacity="0.030" stroke="#fff" stroke-opacity="0.00" stroke-width="0.9"/>
<circle cx="286.1" cy="629.9" r="13.0" fill="#ff2030" fill-opacity="0.056" stroke="#fff" stroke-opacity="0.03" stroke-width="0.9"/>
<circle cx="294.6" cy="629.9" r="13.0" fill="#ff2030" fill-opacity="0.081" stroke="#fff" stroke-opacity="0.07" stroke-width="0.9"/>
<circle cx="303.0" cy="629.9" r="13.0" fill="#ff2030" fill-opacity="0.107" stroke="#fff" stroke-opacity="0.10" stroke-width="0.9"/>
<circle cx="311.5" cy="629.9" r="13.0" fill="#ff2030" fill-opacity="0.132" stroke="#fff" stroke-opacity="0.13" stroke-width="0.9"/>
<circle cx="319.9" cy="629.9" r="13.0" fill="#ff2030" fill-opacity="0.158" stroke="#fff" stroke-opacity="0.17" stroke-width="0.9"/>
<circle cx="328.4" cy="629.9" r="13.0" fill="#ff2030" fill-opacity="0.183" stroke="#fff" stroke-opacity="0.20" stroke-width="0.9"/>
<circle cx="336.8" cy="629.9" r="13.0" fill="#ff2030" fill-opacity="0.209" stroke="#fff" stroke-opacity="0.23" stroke-width="0.9"/>
<circle cx="345.3" cy="629.9" r="13.0" fill="#ff2030" fill-opacity="0.234" stroke="#fff" stroke-opacity="0.27" stroke-width="0.9"/>
<circle cx="353.7" cy="629.9" r="13.0" fill="#ff2030" fill-opacity="0.260" stroke="#fff" stroke-opacity="0.30" stroke-width="0.9"/>
<circle cx="257.7" cy="649.9" r="13.0" fill="#ff2030" fill-opacity="0.030" stroke="#fff" stroke-opacity="0.00" stroke-width="0.9"/>
<circle cx="266.1" cy="649.9" r="13.0" fill="#ff2030" fill-opacity="0.056" stroke="#fff" stroke-opacity="0.03" stroke-width="0.9"/>
<circle cx="274.6" cy="649.9" r="13.0" fill="#ff2030" fill-opacity="0.081" stroke="#fff" stroke-opacity="0.07" stroke-width="0.9"/>
<circle cx="283.0" cy="649.9" r="13.0" fill="#ff2030" fill-opacity="0.107" stroke="#fff" stroke-opacity="0.10" stroke-width="0.9"/>
<circle cx="291.5" cy="649.9" r="13.0" fill="#ff2030" fill-opacity="0.132" stroke="#fff" stroke-opacity="0.13" stroke-width="0.9"/>
<circle cx="299.9" cy="649.9" r="13.0" fill="#ff2030" fill-opacity="0.158" stroke="#fff" stroke-opacity="0.17" stroke-width="0.9"/>
<circle cx="308.4" cy="649.9" r="13.0" fill="#ff2030" fill-opacity="0.183" stroke="#fff" stroke-opacity="0.20" stroke-width="0.9"/>
<circle cx="316.8" cy="649.9" r="13.0" fill="#ff2030" fill-opacity="0.209" stroke="#fff" stroke-opacity="0.23" stroke-width="0.9"/>
<circle cx="325.3" cy="649.9" r="13.0" fill="#ff2030" fill-opacity="0.234" stroke="#fff" stroke-opacity="0.27" stroke-width="0.9"/>
<circle cx="333.7" cy="649.9" r="13.0" fill="#ff2030" fill-opacity="0.260" stroke="#fff" stroke-opacity="0.30" stroke-width="0.9"/>
<circle cx="274.1" cy="673.8" r="13.0" fill="#ff2030" fill-opacity="0.030" stroke="#fff" stroke-opacity="0.00" stroke-width="0.9"/>
<circle cx="282.5" cy="673.8" r="13.0" fill="#ff2030" fill-opacity="0.056" stroke="#fff" stroke-opacity="0.03" stroke-width="0.9"/>
<circle cx="291.0" cy="673.8" r="13.0" fill="#ff2030" fill-opacity="0.081" stroke="#fff" stroke-opacity="0.07" stroke-width="0.9"/>
<circle cx="299.4" cy="673.8" r="13.0" fill="#ff2030" fill-opacity="0.107" stroke="#fff" stroke-opacity="0.10" stroke-width="0.9"/>
<circle cx="307.9" cy="673.8" r="13.0" fill="#ff2030" fill-opacity="0.132" stroke="#fff" stroke-opacity="0.13" stroke-width="0.9"/>
<circle cx="316.3" cy="673.8" r="13.0" fill="#ff2030" fill-opacity="0.158" stroke="#fff" stroke-opacity="0.17" stroke-width="0.9"/>
<circle cx="324.8" cy="673.8" r="13.0" fill="#ff2030" fill-opacity="0.183" stroke="#fff" stroke-opacity="0.20" stroke-width="0.9"/>
<circle cx="333.2" cy="673.8" r="13.0" fill="#ff2030" fill-opacity="0.209" stroke="#fff" stroke-opacity="0.23" stroke-width="0.9"/>
<circle cx="341.7" cy="673.8" r="13.0" fill="#ff2030" fill-opacity="0.234" stroke="#fff" stroke-opacity="0.27" stroke-width="0.9"/>
<circle cx="350.1" cy="673.8" r="13.0" fill="#ff2030" fill-opacity="0.260" stroke="#fff" stroke-opacity="0.30" stroke-width="0.9"/>
<circle cx="376" cy="632" r="62.9" fill="url(#glowG)"/>
<polygon points="436.8,638.1 397.3,638.2 434.1,661.5 393.6,645.5 428.5,690.5 387.5,651.0 397.8,689.6 379.9,653.9 375.5,695.2 371.8,653.8 351.6,693.5 364.2,650.8 341.2,669.6 358.2,645.2 319.1,659.8 354.6,637.9 308.5,637.7 353.9,629.8 305.2,611.3 356.2,622.0 338.0,602.9 361.2,615.5 347.1,584.5 368.1,611.2 367.6,585.0 376.2,609.8 390.2,559.0 384.2,611.4 413.3,572.7 391.1,615.7 412.9,604.6 395.9,622.3 453.8,610.5 398.1,630.1" fill="url(#expG)" fill-opacity="0.75" filter="url(#blur1)"/>
<polygon points="430.2,651.8 392.0,642.7 409.2,668.6 385.2,648.9 388.2,678.8 376.2,651.2 367.8,667.2 367.3,649.1 354.8,656.5 360.3,643.1 333.2,648.9 356.9,634.6 342.6,628.4 357.9,625.4 345.3,611.3 363.1,617.8 357.7,598.2 371.2,613.4 375.6,599.2 380.4,613.3 396.1,592.5 388.6,617.4 411.7,606.7 393.9,625.0 429.9,624.8 395.1,634.1" fill="url(#expG2)"/>
<circle cx="376" cy="632" r="16.3" fill="url(#expC)"/>
<g opacity="0.7"><circle cx="354.1" cy="597.8" r="13.0" fill="url(#gRed)"/><ellipse cx="351.5" cy="592.3" rx="7.8" ry="5.2" fill="url(#shine)"/><circle cx="354.1" cy="597.8" r="13.0" fill="none" stroke="#000" stroke-width="2"/></g>
<g opacity="0.7"><circle cx="334.1" cy="628.0" r="13.0" fill="url(#gRed)"/><ellipse cx="331.5" cy="622.5" rx="7.8" ry="5.2" fill="url(#shine)"/><circle cx="334.1" cy="628.0" r="13.0" fill="none" stroke="#000" stroke-width="2"/></g>
<g opacity="0.7"><circle cx="357.7" cy="651.3" r="13.0" fill="url(#gRed)"/><ellipse cx="355.1" cy="645.8" rx="7.8" ry="5.2" fill="url(#shine)"/><circle cx="357.7" cy="651.3" r="13.0" fill="none" stroke="#000" stroke-width="2"/></g>
<g><circle cx="342.3" cy="606.9" r="13.0" fill="url(#gRed)"/><ellipse cx="339.7" cy="601.4" rx="7.8" ry="5.2" fill="url(#shine)"/><circle cx="342.3" cy="606.9" r="13.0" fill="none" stroke="#000" stroke-width="2"/></g>
<g><circle cx="357.7" cy="629.9" r="13.0" fill="url(#gRed)"/><ellipse cx="355.1" cy="624.4" rx="7.8" ry="5.2" fill="url(#shine)"/><circle cx="357.7" cy="629.9" r="13.0" fill="none" stroke="#000" stroke-width="2"/></g>
<g><circle cx="337.7" cy="649.9" r="13.0" fill="url(#gRed)"/><ellipse cx="335.1" cy="644.4" rx="7.8" ry="5.2" fill="url(#shine)"/><circle cx="337.7" cy="649.9" r="13.0" fill="none" stroke="#000" stroke-width="2"/></g>
<g><circle cx="354.1" cy="673.8" r="13.0" fill="url(#gRed)"/><ellipse cx="351.5" cy="668.3" rx="7.8" ry="5.2" fill="url(#shine)"/><circle cx="354.1" cy="673.8" r="13.0" fill="none" stroke="#000" stroke-width="2"/></g>
<rect x="521" y="612" width="240" height="48" fill="url(#arrowShaft)"/>
<polygon points="760.7,579.6 852.2,637 760.7,695" fill="#fff" fill-opacity="0.65"/>
<circle cx="489.5" cy="676.7" r="47" fill="#fff" fill-opacity="0.3"/>
<path d="M870.0,640.5 L873.0,643.5 L875.9,646.5 L878.9,649.4 L881.9,652.3 L884.9,655.2 L887.8,657.9 L890.8,660.6 L893.8,663.2 L896.8,665.8 L899.7,668.2 L902.7,670.5 L905.7,672.7 L908.7,674.7 L911.6,676.7 L914.6,678.5 L917.6,680.1 L920.6,681.6 L923.5,683.0 L926.5,684.2 L929.5,685.2 L932.5,686.1 L935.4,686.8 L938.4,687.4 L941.4,687.7 L944.4,688.0 L947.3,688.0 L950.3,687.9 L953.3,687.6 L956.3,687.1 L959.2,686.4 L962.2,685.6 L965.2,684.7 L968.2,683.5 L971.1,682.2 L974.1,680.8 L977.1,679.2 L980.1,677.5 L983.0,675.6 L986.0,673.6 L989.0,671.5 L991.9,669.2 L994.9,666.8 L997.9,664.4 L1000.9,661.8 L1003.8,659.1 L1006.8,656.4 L1009.8,653.6 L1012.8,650.7 L1015.7,647.8 L1018.7,644.8 L1021.7,641.8 L1024.7,638.7 L1027.6,635.7 L1030.6,632.6 L1033.6,629.6 L1036.6,626.5 L1039.5,623.5 L1042.5,620.5 L1045.5,617.5 L1048.5,614.6 L1051.4,611.7 L1054.4,608.9 L1057.4,606.2 L1060.4,603.6 L1063.3,601.0 L1066.3,598.6 L1069.3,596.2 L1072.3,594.0 L1075.2,591.9 L1078.2,589.9 L1081.2,588.1 L1084.2,586.4 L1087.1,584.8 L1090.1,583.4 L1093.1,582.2 L1096.1,581.1 L1099.0,580.2 L1102.0,579.4 L1105.0,578.8 L1107.9,578.4 L1110.9,578.1 L1113.9,578.0 L1116.9,578.1 L1119.8,578.3 L1122.8,578.8 L1125.8,579.3 L1128.8,580.1 L1131.7,581.0 L1134.7,582.1 L1137.7,583.3 L1140.7,584.7 L1143.6,586.3 L1146.6,588.0 L1149.6,589.8 L1152.6,591.8 L1155.5,593.9 L1158.5,596.1 L1161.5,598.4 L1164.5,600.8 L1167.4,603.4 L1170.4,606.0 L1173.4,608.7 L1176.4,611.5 L1179.3,614.4 L1182.3,617.3 L1185.3,620.3 L1188.3,623.3 L1191.2,626.3 L1194.2,629.3 L1197.2,632.4 L1200.2,635.5 L1203.1,638.5 L1206.1,641.6 L1209.1,644.6 L1212.1,647.6 L1215.0,650.5 L1218.0,653.4" fill="none" stroke="#eef0f4" stroke-opacity="0.6" stroke-width="7.9"/>
<path d="M870.0,640.5 L873.0,643.5 L875.9,646.5 L878.9,649.4 L881.9,652.3 L884.9,655.2 L887.8,657.9 L890.8,660.6 L893.8,663.2 L896.8,665.8 L899.7,668.2 L902.7,670.5 L905.7,672.7 L908.7,674.7 L911.6,676.7 L914.6,678.5 L917.6,680.1 L920.6,681.6 L923.5,683.0 L926.5,684.2 L929.5,685.2 L932.5,686.1 L935.4,686.8 L938.4,687.4 L941.4,687.7 L944.4,688.0 L947.3,688.0 L950.3,687.9 L953.3,687.6 L956.3,687.1 L959.2,686.4 L962.2,685.6 L965.2,684.7 L968.2,683.5 L971.1,682.2 L974.1,680.8 L977.1,679.2 L980.1,677.5 L983.0,675.6 L986.0,673.6 L989.0,671.5 L991.9,669.2 L994.9,666.8 L997.9,664.4 L1000.9,661.8 L1003.8,659.1 L1006.8,656.4 L1009.8,653.6 L1012.8,650.7 L1015.7,647.8 L1018.7,644.8 L1021.7,641.8 L1024.7,638.7 L1027.6,635.7 L1030.6,632.6 L1033.6,629.6 L1036.6,626.5 L1039.5,623.5 L1042.5,620.5 L1045.5,617.5 L1048.5,614.6 L1051.4,611.7 L1054.4,608.9 L1057.4,606.2 L1060.4,603.6 L1063.3,601.0 L1066.3,598.6 L1069.3,596.2 L1072.3,594.0 L1075.2,591.9 L1078.2,589.9 L1081.2,588.1 L1084.2,586.4 L1087.1,584.8 L1090.1,583.4 L1093.1,582.2 L1096.1,581.1 L1099.0,580.2 L1102.0,579.4 L1105.0,578.8 L1107.9,578.4 L1110.9,578.1 L1113.9,578.0 L1116.9,578.1 L1119.8,578.3 L1122.8,578.8 L1125.8,579.3 L1128.8,580.1 L1131.7,581.0 L1134.7,582.1 L1137.7,583.3 L1140.7,584.7 L1143.6,586.3 L1146.6,588.0 L1149.6,589.8 L1152.6,591.8 L1155.5,593.9 L1158.5,596.1 L1161.5,598.4 L1164.5,600.8 L1167.4,603.4 L1170.4,606.0 L1173.4,608.7 L1176.4,611.5 L1179.3,614.4 L1182.3,617.3 L1185.3,620.3 L1188.3,623.3 L1191.2,626.3 L1194.2,629.3 L1197.2,632.4 L1200.2,635.5 L1203.1,638.5 L1206.1,641.6 L1209.1,644.6 L1212.1,647.6 L1215.0,650.5 L1218.0,653.4" fill="none" stroke="#22ee22" stroke-width="2.9" stroke-dasharray="8 5"/>
<path d="M586.0,584.2 L589.0,582.8 L592.0,581.6 L595.0,580.6 L598.0,579.8 L601.0,579.1 L604.0,578.5 L607.0,578.2 L610.0,578.0 L613.0,578.0 L616.0,578.2 L618.9,578.5 L621.9,579.1 L624.9,579.7 L627.9,580.6 L630.9,581.6 L633.9,582.8 L636.9,584.1 L639.9,585.6 L642.9,587.3 L645.9,589.1 L648.9,591.0 L651.9,593.0 L654.9,595.2 L657.9,597.5 L660.9,600.0 L663.9,602.5 L666.9,605.1 L669.9,607.8 L672.9,610.6 L675.9,613.4 L678.9,616.4 L681.8,619.3 L684.8,622.3 L687.8,625.4 L690.8,628.4 L693.8,631.5 L696.8,634.6 L699.8,637.7 L702.8,640.8 L705.8,643.8 L708.8,646.8 L711.8,649.8 L714.8,652.7 L717.8,655.6 L720.8,658.3 L723.8,661.0 L726.8,663.7 L729.8,666.2 L732.8,668.6 L735.8,670.9 L738.8,673.1 L741.8,675.1 L744.7,677.0 L747.7,678.8 L750.7,680.5 L753.7,681.9 L756.7,683.3 L759.7,684.4 L762.7,685.5 L765.7,686.3 L768.7,687.0 L771.7,687.5 L774.7,687.8 L777.7,688.0 L780.7,688.0 L783.7,687.8 L786.7,687.4 L789.7,686.9 L792.7,686.2 L795.7,685.3 L798.7,684.3 L801.7,683.1 L804.7,681.8 L807.6,680.2 L810.6,678.6 L813.6,676.8 L816.6,674.9 L819.6,672.8 L822.6,670.6 L825.6,668.3 L828.6,665.9 L831.6,663.3 L834.6,660.7 L837.6,658.0 L840.6,655.2 L843.6,652.3 L846.6,649.4 L849.6,646.4 L852.6,643.4 L855.6,640.4 L858.6,637.3 L861.6,634.2 L864.6,631.1 L867.6,628.1 L870.5,625.0 L873.5,621.9 L876.5,618.9 L879.5,616.0 L882.5,613.1 L885.5,610.2 L888.5,607.4 L891.5,604.7 L894.5,602.1 L897.5,599.6 L900.5,597.2 L903.5,594.9 L906.5,592.8 L909.5,590.7 L912.5,588.8 L915.5,587.0 L918.5,585.4 L921.5,584.0 L924.5,582.6 L927.5,581.5 L930.5,580.5 L933.5,579.6 L936.4,579.0 L939.4,578.5 L942.4,578.2 L945.4,578.0 L948.4,578.0 L951.4,578.2 L954.4,578.6 L957.4,579.1 L960.4,579.9 L963.4,580.7 L966.4,581.8 L969.4,583.0 L972.4,584.4 L975.4,585.9 L978.4,587.5 L981.4,589.4 L984.4,591.3 L987.4,593.4 L990.4,595.6 L993.4,597.9 L996.4,600.3 L999.3,602.9 L1002.3,605.5 L1005.3,608.2 L1008.3,611.0 L1011.3,613.9 L1014.3,616.8 L1017.3,619.8 L1020.3,622.8 L1023.3,625.9 L1026.3,628.9 L1029.3,632.0 L1032.3,635.1 L1035.3,638.2 L1038.3,641.3 L1041.3,644.3 L1044.3,647.3 L1047.3,650.3 L1050.3,653.2 L1053.3,656.0 L1056.3,658.8 L1059.3,661.5 L1062.2,664.1 L1065.2,666.6 L1068.2,669.0 L1071.2,671.2 L1074.2,673.4 L1077.2,675.4 L1080.2,677.3 L1083.2,679.1 L1086.2,680.7 L1089.2,682.2 L1092.2,683.5 L1095.2,684.6 L1098.2,685.6 L1101.2,686.4 L1104.2,687.1 L1107.2,687.6 L1110.2,687.9 L1113.2,688.0 L1116.2,688.0 L1119.2,687.7 L1122.2,687.4 L1125.1,686.8 L1128.1,686.1 L1131.1,685.2 L1134.1,684.1 L1137.1,682.9 L1140.1,681.5 L1143.1,680.0 L1146.1,678.3 L1149.1,676.5 L1152.1,674.5 L1155.1,672.5 L1158.1,670.2 L1161.1,667.9 L1164.1,665.5 L1167.1,662.9 L1170.1,660.3 L1173.1,657.6 L1176.1,654.8 L1179.1,651.9 L1182.1,649.0 L1185.1,646.0 L1188.0,643.0 L1191.0,639.9 L1194.0,636.8 L1197.0,633.7 L1200.0,630.7 L1203.0,627.6 L1206.0,624.5 L1209.0,621.5 L1212.0,618.5 L1215.0,615.5 L1218.0,612.6" fill="none" stroke="#eef0f4" stroke-opacity="0.6" stroke-width="7.9"/>
<path d="M586.0,584.2 L589.0,582.8 L592.0,581.6 L595.0,580.6 L598.0,579.8 L601.0,579.1 L604.0,578.5 L607.0,578.2 L610.0,578.0 L613.0,578.0 L616.0,578.2 L618.9,578.5 L621.9,579.1 L624.9,579.7 L627.9,580.6 L630.9,581.6 L633.9,582.8 L636.9,584.1 L639.9,585.6 L642.9,587.3 L645.9,589.1 L648.9,591.0 L651.9,593.0 L654.9,595.2 L657.9,597.5 L660.9,600.0 L663.9,602.5 L666.9,605.1 L669.9,607.8 L672.9,610.6 L675.9,613.4 L678.9,616.4 L681.8,619.3 L684.8,622.3 L687.8,625.4 L690.8,628.4 L693.8,631.5 L696.8,634.6 L699.8,637.7 L702.8,640.8 L705.8,643.8 L708.8,646.8 L711.8,649.8 L714.8,652.7 L717.8,655.6 L720.8,658.3 L723.8,661.0 L726.8,663.7 L729.8,666.2 L732.8,668.6 L735.8,670.9 L738.8,673.1 L741.8,675.1 L744.7,677.0 L747.7,678.8 L750.7,680.5 L753.7,681.9 L756.7,683.3 L759.7,684.4 L762.7,685.5 L765.7,686.3 L768.7,687.0 L771.7,687.5 L774.7,687.8 L777.7,688.0 L780.7,688.0 L783.7,687.8 L786.7,687.4 L789.7,686.9 L792.7,686.2 L795.7,685.3 L798.7,684.3 L801.7,683.1 L804.7,681.8 L807.6,680.2 L810.6,678.6 L813.6,676.8 L816.6,674.9 L819.6,672.8 L822.6,670.6 L825.6,668.3 L828.6,665.9 L831.6,663.3 L834.6,660.7 L837.6,658.0 L840.6,655.2 L843.6,652.3 L846.6,649.4 L849.6,646.4 L852.6,643.4 L855.6,640.4 L858.6,637.3 L861.6,634.2 L864.6,631.1 L867.6,628.1 L870.5,625.0 L873.5,621.9 L876.5,618.9 L879.5,616.0 L882.5,613.1 L885.5,610.2 L888.5,607.4 L891.5,604.7 L894.5,602.1 L897.5,599.6 L900.5,597.2 L903.5,594.9 L906.5,592.8 L909.5,590.7 L912.5,588.8 L915.5,587.0 L918.5,585.4 L921.5,584.0 L924.5,582.6 L927.5,581.5 L930.5,580.5 L933.5,579.6 L936.4,579.0 L939.4,578.5 L942.4,578.2 L945.4,578.0 L948.4,578.0 L951.4,578.2 L954.4,578.6 L957.4,579.1 L960.4,579.9 L963.4,580.7 L966.4,581.8 L969.4,583.0 L972.4,584.4 L975.4,585.9 L978.4,587.5 L981.4,589.4 L984.4,591.3 L987.4,593.4 L990.4,595.6 L993.4,597.9 L996.4,600.3 L999.3,602.9 L1002.3,605.5 L1005.3,608.2 L1008.3,611.0 L1011.3,613.9 L1014.3,616.8 L1017.3,619.8 L1020.3,622.8 L1023.3,625.9 L1026.3,628.9 L1029.3,632.0 L1032.3,635.1 L1035.3,638.2 L1038.3,641.3 L1041.3,644.3 L1044.3,647.3 L1047.3,650.3 L1050.3,653.2 L1053.3,656.0 L1056.3,658.8 L1059.3,661.5 L1062.2,664.1 L1065.2,666.6 L1068.2,669.0 L1071.2,671.2 L1074.2,673.4 L1077.2,675.4 L1080.2,677.3 L1083.2,679.1 L1086.2,680.7 L1089.2,682.2 L1092.2,683.5 L1095.2,684.6 L1098.2,685.6 L1101.2,686.4 L1104.2,687.1 L1107.2,687.6 L1110.2,687.9 L1113.2,688.0 L1116.2,688.0 L1119.2,687.7 L1122.2,687.4 L1125.1,686.8 L1128.1,686.1 L1131.1,685.2 L1134.1,684.1 L1137.1,682.9 L1140.1,681.5 L1143.1,680.0 L1146.1,678.3 L1149.1,676.5 L1152.1,674.5 L1155.1,672.5 L1158.1,670.2 L1161.1,667.9 L1164.1,665.5 L1167.1,662.9 L1170.1,660.3 L1173.1,657.6 L1176.1,654.8 L1179.1,651.9 L1182.1,649.0 L1185.1,646.0 L1188.0,643.0 L1191.0,639.9 L1194.0,636.8 L1197.0,633.7 L1200.0,630.7 L1203.0,627.6 L1206.0,624.5 L1209.0,621.5 L1212.0,618.5 L1215.0,615.5 L1218.0,612.6" fill="none" stroke="#22ee22" stroke-width="2.9" stroke-dasharray="8 5"/>
<path d="M466.0,653.8 L469.0,656.6 L472.0,659.3 L475.0,661.9 L478.0,664.5 L481.0,666.9 L484.0,669.3 L487.0,671.5 L490.0,673.6 L493.0,675.6 L496.0,677.5 L499.0,679.2 L502.0,680.8 L504.9,682.2 L507.9,683.5 L510.9,684.6 L513.9,685.6 L516.9,686.4 L519.9,687.1 L522.9,687.5 L525.9,687.8 L528.9,688.0 L531.9,688.0 L534.9,687.8 L537.9,687.4 L540.9,686.9 L543.9,686.2 L546.9,685.3 L549.9,684.3 L552.9,683.2 L555.9,681.8 L558.9,680.4 L561.9,678.7 L564.9,677.0 L567.9,675.1 L570.9,673.1 L573.9,670.9 L576.9,668.6 L579.8,666.3 L582.8,663.8 L585.8,661.2 L588.8,658.6 L591.8,655.8 L594.8,653.0 L597.8,650.2 L600.8,647.2 L603.8,644.3 L606.8,641.3 L609.8,638.3 L612.8,635.2 L615.8,632.2 L618.8,629.1 L621.8,626.1 L624.8,623.1 L627.8,620.1 L630.8,617.2 L633.8,614.3 L636.8,611.5 L639.8,608.7 L642.8,606.0 L645.8,603.4 L648.8,600.9 L651.8,598.5 L654.7,596.1 L657.7,593.9 L660.7,591.9 L663.7,589.9 L666.7,588.1 L669.7,586.4 L672.7,584.8 L675.7,583.4 L678.7,582.2 L681.7,581.1 L684.7,580.2 L687.7,579.4 L690.7,578.8 L693.7,578.4 L696.7,578.1 L699.7,578.0 L702.7,578.1 L705.7,578.3 L708.7,578.7 L711.7,579.3 L714.7,580.0 L717.7,580.9 L720.7,582.0 L723.7,583.2 L726.7,584.5 L729.6,586.1 L732.6,587.7 L735.6,589.5 L738.6,591.4 L741.6,593.5 L744.6,595.7 L747.6,598.0 L750.6,600.4 L753.6,602.9 L756.6,605.5 L759.6,608.1 L762.6,610.9 L765.6,613.7 L768.6,616.6 L771.6,619.5 L774.6,622.5 L777.6,625.5 L780.6,628.5 L783.6,631.6 L786.6,634.6 L789.6,637.6 L792.6,640.7 L795.6,643.7 L798.6,646.6 L801.6,649.6 L804.5,652.4 L807.5,655.3 L810.5,658.0 L813.5,660.7 L816.5,663.3 L819.5,665.8 L822.5,668.2 L825.5,670.4 L828.5,672.6 L831.5,674.7 L834.5,676.6 L837.5,678.4 L840.5,680.0 L843.5,681.5 L846.5,682.9 L849.5,684.1 L852.5,685.1 L855.5,686.0 L858.5,686.8 L861.5,687.3 L864.5,687.7 L867.5,687.9 L870.5,688.0 L873.5,687.9 L876.5,687.6 L879.5,687.2 L882.4,686.6 L885.4,685.8 L888.4,684.8 L891.4,683.7 L894.4,682.5 L897.4,681.1 L900.4,679.5 L903.4,677.8 L906.4,676.0 L909.4,674.0 L912.4,672.0 L915.4,669.7 L918.4,667.4 L921.4,665.0 L924.4,662.5 L927.4,659.9 L930.4,657.2 L933.4,654.4 L936.4,651.6 L939.4,648.7 L942.4,645.7 L945.4,642.7 L948.4,639.7 L951.4,636.7 L954.4,633.7 L957.3,630.6 L960.3,627.6 L963.3,624.6 L966.3,621.6 L969.3,618.6 L972.3,615.7 L975.3,612.8 L978.3,610.0 L981.3,607.3 L984.3,604.6 L987.3,602.1 L990.3,599.6 L993.3,597.2 L996.3,595.0 L999.3,592.8 L1002.3,590.8 L1005.3,588.9 L1008.3,587.2 L1011.3,585.6 L1014.3,584.1 L1017.3,582.8 L1020.3,581.6 L1023.3,580.6 L1026.3,579.8 L1029.3,579.1 L1032.2,578.6 L1035.2,578.2 L1038.2,578.0 L1041.2,578.0 L1044.2,578.2 L1047.2,578.5 L1050.2,579.0 L1053.2,579.6 L1056.2,580.5 L1059.2,581.4 L1062.2,582.6 L1065.2,583.9 L1068.2,585.3 L1071.2,586.9 L1074.2,588.6 L1077.2,590.5 L1080.2,592.5 L1083.2,594.6 L1086.2,596.8 L1089.2,599.2 L1092.2,601.6 L1095.2,604.2 L1098.2,606.8 L1101.2,609.5 L1104.2,612.3 L1107.1,615.2 L1110.1,618.1 L1113.1,621.0 L1116.1,624.0 L1119.1,627.0 L1122.1,630.1 L1125.1,633.1 L1128.1,636.2 L1131.1,639.2 L1134.1,642.2 L1137.1,645.2 L1140.1,648.2 L1143.1,651.1 L1146.1,653.9 L1149.1,656.7 L1152.1,659.4 L1155.1,662.0 L1158.1,664.6 L1161.1,667.0 L1164.1,669.4 L1167.1,671.6 L1170.1,673.7 L1173.1,675.7 L1176.1,677.5 L1179.1,679.2 L1182.0,680.8 L1185.0,682.3 L1188.0,683.5 L1191.0,684.7 L1194.0,685.6 L1197.0,686.4 L1200.0,687.1 L1203.0,687.5 L1206.0,687.9 L1209.0,688.0 L1212.0,688.0 L1215.0,687.8 L1218.0,687.4" fill="none" stroke="#eef0f4" stroke-opacity="0.6" stroke-width="7.9"/>
<path d="M466.0,653.8 L469.0,656.6 L472.0,659.3 L475.0,661.9 L478.0,664.5 L481.0,666.9 L484.0,669.3 L487.0,671.5 L490.0,673.6 L493.0,675.6 L496.0,677.5 L499.0,679.2 L502.0,680.8 L504.9,682.2 L507.9,683.5 L510.9,684.6 L513.9,685.6 L516.9,686.4 L519.9,687.1 L522.9,687.5 L525.9,687.8 L528.9,688.0 L531.9,688.0 L534.9,687.8 L537.9,687.4 L540.9,686.9 L543.9,686.2 L546.9,685.3 L549.9,684.3 L552.9,683.2 L555.9,681.8 L558.9,680.4 L561.9,678.7 L564.9,677.0 L567.9,675.1 L570.9,673.1 L573.9,670.9 L576.9,668.6 L579.8,666.3 L582.8,663.8 L585.8,661.2 L588.8,658.6 L591.8,655.8 L594.8,653.0 L597.8,650.2 L600.8,647.2 L603.8,644.3 L606.8,641.3 L609.8,638.3 L612.8,635.2 L615.8,632.2 L618.8,629.1 L621.8,626.1 L624.8,623.1 L627.8,620.1 L630.8,617.2 L633.8,614.3 L636.8,611.5 L639.8,608.7 L642.8,606.0 L645.8,603.4 L648.8,600.9 L651.8,598.5 L654.7,596.1 L657.7,593.9 L660.7,591.9 L663.7,589.9 L666.7,588.1 L669.7,586.4 L672.7,584.8 L675.7,583.4 L678.7,582.2 L681.7,581.1 L684.7,580.2 L687.7,579.4 L690.7,578.8 L693.7,578.4 L696.7,578.1 L699.7,578.0 L702.7,578.1 L705.7,578.3 L708.7,578.7 L711.7,579.3 L714.7,580.0 L717.7,580.9 L720.7,582.0 L723.7,583.2 L726.7,584.5 L729.6,586.1 L732.6,587.7 L735.6,589.5 L738.6,591.4 L741.6,593.5 L744.6,595.7 L747.6,598.0 L750.6,600.4 L753.6,602.9 L756.6,605.5 L759.6,608.1 L762.6,610.9 L765.6,613.7 L768.6,616.6 L771.6,619.5 L774.6,622.5 L777.6,625.5 L780.6,628.5 L783.6,631.6 L786.6,634.6 L789.6,637.6 L792.6,640.7 L795.6,643.7 L798.6,646.6 L801.6,649.6 L804.5,652.4 L807.5,655.3 L810.5,658.0 L813.5,660.7 L816.5,663.3 L819.5,665.8 L822.5,668.2 L825.5,670.4 L828.5,672.6 L831.5,674.7 L834.5,676.6 L837.5,678.4 L840.5,680.0 L843.5,681.5 L846.5,682.9 L849.5,684.1 L852.5,685.1 L855.5,686.0 L858.5,686.8 L861.5,687.3 L864.5,687.7 L867.5,687.9 L870.5,688.0 L873.5,687.9 L876.5,687.6 L879.5,687.2 L882.4,686.6 L885.4,685.8 L888.4,684.8 L891.4,683.7 L894.4,682.5 L897.4,681.1 L900.4,679.5 L903.4,677.8 L906.4,676.0 L909.4,674.0 L912.4,672.0 L915.4,669.7 L918.4,667.4 L921.4,665.0 L924.4,662.5 L927.4,659.9 L930.4,657.2 L933.4,654.4 L936.4,651.6 L939.4,648.7 L942.4,645.7 L945.4,642.7 L948.4,639.7 L951.4,636.7 L954.4,633.7 L957.3,630.6 L960.3,627.6 L963.3,624.6 L966.3,621.6 L969.3,618.6 L972.3,615.7 L975.3,612.8 L978.3,610.0 L981.3,607.3 L984.3,604.6 L987.3,602.1 L990.3,599.6 L993.3,597.2 L996.3,595.0 L999.3,592.8 L1002.3,590.8 L1005.3,588.9 L1008.3,587.2 L1011.3,585.6 L1014.3,584.1 L1017.3,582.8 L1020.3,581.6 L1023.3,580.6 L1026.3,579.8 L1029.3,579.1 L1032.2,578.6 L1035.2,578.2 L1038.2,578.0 L1041.2,578.0 L1044.2,578.2 L1047.2,578.5 L1050.2,579.0 L1053.2,579.6 L1056.2,580.5 L1059.2,581.4 L1062.2,582.6 L1065.2,583.9 L1068.2,585.3 L1071.2,586.9 L1074.2,588.6 L1077.2,590.5 L1080.2,592.5 L1083.2,594.6 L1086.2,596.8 L1089.2,599.2 L1092.2,601.6 L1095.2,604.2 L1098.2,606.8 L1101.2,609.5 L1104.2,612.3 L1107.1,615.2 L1110.1,618.1 L1113.1,621.0 L1116.1,624.0 L1119.1,627.0 L1122.1,630.1 L1125.1,633.1 L1128.1,636.2 L1131.1,639.2 L1134.1,642.2 L1137.1,645.2 L1140.1,648.2 L1143.1,651.1 L1146.1,653.9 L1149.1,656.7 L1152.1,659.4 L1155.1,662.0 L1158.1,664.6 L1161.1,667.0 L1164.1,669.4 L1167.1,671.6 L1170.1,673.7 L1173.1,675.7 L1176.1,677.5 L1179.1,679.2 L1182.0,680.8 L1185.0,682.3 L1188.0,683.5 L1191.0,684.7 L1194.0,685.6 L1197.0,686.4 L1200.0,687.1 L1203.0,687.5 L1206.0,687.9 L1209.0,688.0 L1212.0,688.0 L1215.0,687.8 L1218.0,687.4" fill="none" stroke="#22ee22" stroke-width="2.9" stroke-dasharray="8 5"/>
<path d="M450.9,578.5 L453.9,578.9 L456.8,579.6 L459.8,580.4 L462.8,581.4 L465.8,582.5 L468.8,583.9 L471.8,585.3 L474.8,586.9 L477.8,588.7 L480.8,590.6 L483.8,592.6 L486.8,594.8 L489.8,597.1 L492.8,599.5 L495.8,602.0 L498.8,604.5 L501.8,607.2 L504.7,610.0 L507.7,612.8 L510.7,615.7 L513.7,618.7 L516.7,621.7 L519.7,624.7 L522.7,627.8 L525.7,630.9 L528.7,634.0 L531.7,637.1 L534.7,640.1 L537.7,643.2 L540.7,646.2 L543.7,649.2 L546.7,652.1 L549.7,655.0 L552.7,657.8 L555.6,660.5 L558.6,663.1 L561.6,665.6 L564.6,668.1 L567.6,670.4 L570.6,672.6 L573.6,674.7 L576.6,676.6 L579.6,678.4 L582.6,680.1 L585.6,681.6 L588.6,683.0 L591.6,684.2 L594.6,685.2 L597.6,686.1 L600.6,686.8 L603.5,687.4 L606.5,687.8 L609.5,688.0 L612.5,688.0 L615.5,687.8 L618.5,687.5 L621.5,687.0 L624.5,686.4 L627.5,685.5 L630.5,684.5 L633.5,683.4 L636.5,682.1 L639.5,680.6 L642.5,679.0 L645.5,677.2 L648.5,675.3 L651.4,673.3 L654.4,671.1 L657.4,668.8 L660.4,666.4 L663.4,663.9 L666.4,661.3 L669.4,658.6 L672.4,655.9 L675.4,653.0 L678.4,650.1 L681.4,647.1 L684.4,644.1 L687.4,641.1 L690.4,638.0 L693.4,634.9 L696.4,631.9 L699.3,628.8 L702.3,625.7 L705.3,622.7 L708.3,619.6 L711.3,616.7 L714.3,613.7 L717.3,610.9 L720.3,608.1 L723.3,605.4 L726.3,602.8 L729.3,600.2 L732.3,597.8 L735.3,595.5 L738.3,593.3 L741.3,591.2 L744.3,589.3 L747.3,587.5 L750.2,585.8 L753.2,584.3 L756.2,582.9 L759.2,581.7 L762.2,580.7 L765.2,579.8 L768.2,579.1 L771.2,578.6 L774.2,578.2 L777.2,578.0 L780.2,578.0 L783.2,578.2 L786.2,578.5 L789.2,579.0 L792.2,579.7 L795.2,580.5 L798.1,581.5 L801.1,582.7 L804.1,584.0 L807.1,585.5 L810.1,587.1 L813.1,588.9 L816.1,590.8 L819.1,592.8 L822.1,595.0 L825.1,597.3 L828.1,599.7 L831.1,602.2 L834.1,604.8 L837.1,607.5 L840.1,610.3 L843.1,613.1 L846.0,616.1 L849.0,619.0 L852.0,622.0 L855.0,625.1 L858.0,628.1 L861.0,631.2 L864.0,634.3 L867.0,637.4 L870.0,640.5" fill="none" stroke="#eef0f4" stroke-opacity="0.6" stroke-width="7.9"/>
<path d="M382.0,611.2 L385.0,608.4 L388.0,605.7 L391.0,603.0 L394.0,600.5 L397.0,598.0 L400.0,595.7 L403.0,593.5 L406.0,591.4 L408.9,589.5 L411.9,587.6 L414.9,586.0 L417.9,584.4 L420.9,583.1 L423.9,581.9 L426.9,580.8 L429.9,579.9 L432.9,579.2 L435.9,578.6 L438.9,578.3 L441.9,578.0 L444.9,578.0 L447.9,578.1 L450.9,578.5 L453.9,578.9 L456.8,579.6 L459.8,580.4 L462.8,581.4 L465.8,582.5 L468.8,583.9 L471.8,585.3 L474.8,586.9 L477.8,588.7 L480.8,590.6 L483.8,592.6 L486.8,594.8 L489.8,597.1 L492.8,599.5 L495.8,602.0 L498.8,604.5 L501.8,607.2 L504.7,610.0 L507.7,612.8 L510.7,615.7 L513.7,618.7 L516.7,621.7 L519.7,624.7 L522.7,627.8 L525.7,630.9 L528.7,634.0 L531.7,637.1 L534.7,640.1 L537.7,643.2 L540.7,646.2 L543.7,649.2 L546.7,652.1 L549.7,655.0 L552.7,657.8 L555.6,660.5 L558.6,663.1 L561.6,665.6 L564.6,668.1 L567.6,670.4 L570.6,672.6 L573.6,674.7 L576.6,676.6 L579.6,678.4 L582.6,680.1 L585.6,681.6 L588.6,683.0 L591.6,684.2 L594.6,685.2 L597.6,686.1 L600.6,686.8 L603.5,687.4 L606.5,687.8 L609.5,688.0 L612.5,688.0 L615.5,687.8 L618.5,687.5 L621.5,687.0 L624.5,686.4 L627.5,685.5 L630.5,684.5 L633.5,683.4 L636.5,682.1 L639.5,680.6 L642.5,679.0 L645.5,677.2 L648.5,675.3 L651.4,673.3 L654.4,671.1 L657.4,668.8 L660.4,666.4 L663.4,663.9 L666.4,661.3 L669.4,658.6 L672.4,655.9 L675.4,653.0 L678.4,650.1 L681.4,647.1 L684.4,644.1 L687.4,641.1 L690.4,638.0 L693.4,634.9 L696.4,631.9 L699.3,628.8 L702.3,625.7 L705.3,622.7 L708.3,619.6 L711.3,616.7 L714.3,613.7 L717.3,610.9 L720.3,608.1 L723.3,605.4 L726.3,602.8 L729.3,600.2 L732.3,597.8 L735.3,595.5 L738.3,593.3 L741.3,591.2 L744.3,589.3 L747.3,587.5 L750.2,585.8 L753.2,584.3 L756.2,582.9 L759.2,581.7 L762.2,580.7 L765.2,579.8 L768.2,579.1 L771.2,578.6 L774.2,578.2 L777.2,578.0 L780.2,578.0 L783.2,578.2 L786.2,578.5 L789.2,579.0 L792.2,579.7 L795.2,580.5 L798.1,581.5 L801.1,582.7 L804.1,584.0 L807.1,585.5 L810.1,587.1 L813.1,588.9 L816.1,590.8 L819.1,592.8 L822.1,595.0 L825.1,597.3 L828.1,599.7 L831.1,602.2 L834.1,604.8 L837.1,607.5 L840.1,610.3 L843.1,613.1 L846.0,616.1 L849.0,619.0 L852.0,622.0 L855.0,625.1 L858.0,628.1 L861.0,631.2 L864.0,634.3 L867.0,637.4 L870.0,640.5" fill="none" stroke="#22e8f8" stroke-width="2.9" stroke-dasharray="8 5"/>
<path d="M451.7,687.4 L454.7,686.9 L457.6,686.2 L460.6,685.3 L463.6,684.3 L466.6,683.1 L469.6,681.8 L472.6,680.3 L475.6,678.6 L478.5,676.9 L481.5,674.9 L484.5,672.9 L487.5,670.7 L490.5,668.4 L493.5,666.0 L496.4,663.5 L499.4,660.9 L502.4,658.2 L505.4,655.4 L508.4,652.5 L511.4,649.6 L514.4,646.7 L517.3,643.7 L520.3,640.6 L523.3,637.6 L526.3,634.5 L529.3,631.4 L532.3,628.3 L535.3,625.3 L538.2,622.2 L541.2,619.2 L544.2,616.3 L547.2,613.4 L550.2,610.5 L553.2,607.8 L556.1,605.1 L559.1,602.5 L562.1,600.0 L565.1,597.5 L568.1,595.2 L571.1,593.1 L574.1,591.0 L577.0,589.1 L580.0,587.3 L583.0,585.7 L586.0,584.2" fill="none" stroke="#eef0f4" stroke-opacity="0.6" stroke-width="7.9"/>
<path d="M386.0,658.5 L389.0,661.2 L392.0,663.8 L395.0,666.3 L397.9,668.7 L400.9,671.0 L403.9,673.2 L406.9,675.2 L409.9,677.1 L412.9,678.9 L415.9,680.5 L418.8,682.0 L421.8,683.3 L424.8,684.5 L427.8,685.5 L430.8,686.3 L433.8,687.0 L436.7,687.5 L439.7,687.8 L442.7,688.0 L445.7,688.0 L448.7,687.8 L451.7,687.4 L454.7,686.9 L457.6,686.2 L460.6,685.3 L463.6,684.3 L466.6,683.1 L469.6,681.8 L472.6,680.3 L475.6,678.6 L478.5,676.9 L481.5,674.9 L484.5,672.9 L487.5,670.7 L490.5,668.4 L493.5,666.0 L496.4,663.5 L499.4,660.9 L502.4,658.2 L505.4,655.4 L508.4,652.5 L511.4,649.6 L514.4,646.7 L517.3,643.7 L520.3,640.6 L523.3,637.6 L526.3,634.5 L529.3,631.4 L532.3,628.3 L535.3,625.3 L538.2,622.2 L541.2,619.2 L544.2,616.3 L547.2,613.4 L550.2,610.5 L553.2,607.8 L556.1,605.1 L559.1,602.5 L562.1,600.0 L565.1,597.5 L568.1,595.2 L571.1,593.1 L574.1,591.0 L577.0,589.1 L580.0,587.3 L583.0,585.7 L586.0,584.2" fill="none" stroke="#22e8f8" stroke-width="2.9" stroke-dasharray="8 5"/>
<path d="M450.0,658.5 L466.7,664.5" fill="none" stroke="#eef0f4" stroke-opacity="0.6" stroke-width="7.9"/>
<path d="M393.0,643.0 L420.0,650.0 L445.0,657.0 L450.0,658.5 L466.7,664.5" fill="none" stroke="#22e8f8" stroke-width="2.9" stroke-dasharray="8 5"/>
<path d="M586.5,582.6 L784.7,485.4" fill="none" stroke="#eef0f4" stroke-opacity="0.6" stroke-width="7.9"/>
<path d="M586.5,582.6 L784.7,485.4" fill="none" stroke="#ff7a1a" stroke-width="2.9" stroke-dasharray="8 5"/>
<path d="M466.7,664.5 L731.0,740.0" fill="none" stroke="#eef0f4" stroke-opacity="0.6" stroke-width="7.9"/>
<path d="M466.7,664.5 L731.0,740.0" fill="none" stroke="#ff7a1a" stroke-width="2.9" stroke-dasharray="8 5"/>
<path d="M869.6,640.6 L992.5,797.5" fill="none" stroke="#eef0f4" stroke-opacity="0.6" stroke-width="7.9"/>
<path d="M869.6,640.6 L992.5,797.5" fill="none" stroke="#ff7a1a" stroke-width="2.9" stroke-dasharray="8 5"/>
<g><circle cx="586.5" cy="582.6" r="10.0" fill="url(#gCyan)"/><ellipse cx="584.5" cy="578.4" rx="6.0" ry="4.0" fill="url(#shine)"/><circle cx="586.5" cy="582.6" r="10.0" fill="none" stroke="#000" stroke-width="2"/></g>
<g><circle cx="630.0" cy="578.3" r="10.0" fill="url(#gGreen)"/><ellipse cx="628.0" cy="574.1" rx="6.0" ry="4.0" fill="url(#shine)"/><circle cx="630.0" cy="578.3" r="10.0" fill="none" stroke="#000" stroke-width="2"/></g>
<g><circle cx="466.7" cy="664.5" r="10.0" fill="url(#gCyan)"/><ellipse cx="464.7" cy="660.3" rx="6.0" ry="4.0" fill="url(#shine)"/><circle cx="466.7" cy="664.5" r="10.0" fill="none" stroke="#000" stroke-width="2"/></g>
<g><circle cx="512.4" cy="689.4" r="10.0" fill="url(#gGreen)"/><ellipse cx="510.4" cy="685.2" rx="6.0" ry="4.0" fill="url(#shine)"/><circle cx="512.4" cy="689.4" r="10.0" fill="none" stroke="#000" stroke-width="2"/></g>
<g><circle cx="869.6" cy="640.6" r="10.0" fill="url(#gCyan)"/><ellipse cx="867.6" cy="636.4" rx="6.0" ry="4.0" fill="url(#shine)"/><circle cx="869.6" cy="640.6" r="10.0" fill="none" stroke="#000" stroke-width="2"/></g>
<g><circle cx="913.4" cy="677.6" r="10.0" fill="url(#gGreen)"/><ellipse cx="911.4" cy="673.4" rx="6.0" ry="4.0" fill="url(#shine)"/><circle cx="913.4" cy="677.6" r="10.0" fill="none" stroke="#000" stroke-width="2"/></g>
<g><circle cx="1053.7" cy="659.3" r="10.0" fill="url(#gGreen)"/><ellipse cx="1051.7" cy="655.1" rx="6.0" ry="4.0" fill="url(#shine)"/><circle cx="1053.7" cy="659.3" r="10.0" fill="none" stroke="#000" stroke-width="2"/></g>
<g><circle cx="1104.2" cy="619.7" r="10.0" fill="url(#gGreen)"/><ellipse cx="1102.2" cy="615.5" rx="6.0" ry="4.0" fill="url(#shine)"/><circle cx="1104.2" cy="619.7" r="10.0" fill="none" stroke="#000" stroke-width="2"/></g>
<g><circle cx="1170.4" cy="594.8" r="10.0" fill="url(#gGreen)"/><ellipse cx="1168.4" cy="590.6" rx="6.0" ry="4.0" fill="url(#shine)"/><circle cx="1170.4" cy="594.8" r="10.0" fill="none" stroke="#000" stroke-width="2"/></g>
<g><circle cx="784.7" cy="485.4" r="10.0" fill="url(#gYellow)"/><ellipse cx="782.7" cy="481.2" rx="6.0" ry="4.0" fill="url(#shine)"/><circle cx="784.7" cy="485.4" r="10.0" fill="none" stroke="#000" stroke-width="2"/></g>
<g><circle cx="731.0" cy="740.0" r="10.0" fill="url(#gYellow)"/><ellipse cx="729.0" cy="735.8" rx="6.0" ry="4.0" fill="url(#shine)"/><circle cx="731.0" cy="740.0" r="10.0" fill="none" stroke="#000" stroke-width="2"/></g>
<g><circle cx="992.5" cy="797.5" r="10.0" fill="url(#gYellow)"/><ellipse cx="990.5" cy="793.3" rx="6.0" ry="4.0" fill="url(#shine)"/><circle cx="992.5" cy="797.5" r="10.0" fill="none" stroke="#000" stroke-width="2"/></g>
<circle cx="489.5" cy="676.7" r="47" fill="none" stroke="#000" stroke-width="4"/>
<text x="107.12" y="528.00" font-size="22" font-weight="bold" fill="#000" textLength="161.45" lengthAdjust="spacingAndGlyphs" >Proton bunches</text>
<text x="351.69" y="528.00" font-size="22" font-weight="bold" fill="#000" textLength="63.56" lengthAdjust="spacingAndGlyphs" >Target</text>
<line x1="175.8" y1="537.5" x2="175.8" y2="586.0" stroke="#000" stroke-width="4" />
<line x1="386.7" y1="537.5" x2="386.7" y2="586.0" stroke="#000" stroke-width="4" />
<text x="587.32" y="521.50" font-size="22" font-weight="bold" fill="#fff" textLength="78.90" lengthAdjust="spacingAndGlyphs" >Magnet</text>
<text x="1025.91" y="754.00" font-size="22" font-weight="bold" fill="#000" textLength="60.58" lengthAdjust="spacingAndGlyphs" >Muon</text>
<line x1="1052.5" y1="668.0" x2="1052.5" y2="730.0" stroke="#000" stroke-width="4" />
<polygon points="240.3,612 254.7,605 262.9,605 262.9,657.7 252.9,657.7 252.9,615.2 243.2,618.9" fill="#ff0000" stroke="#fff" stroke-width="5.5" stroke-linejoin="round" paint-order="stroke"/>
<text x="396.31" y="786.80" font-size="75" font-weight="bold" fill="#ff0000" textLength="44.26" lengthAdjust="spacingAndGlyphs" stroke="#fff" stroke-width="5" paint-order="stroke" stroke-linejoin="round">2</text>
<text x="762.90" y="662.40" font-size="81" font-weight="bold" fill="#ff0000" textLength="44.49" lengthAdjust="spacingAndGlyphs" stroke="#fff" stroke-width="5" paint-order="stroke" stroke-linejoin="round">3</text>
<line x1="465.0" y1="632.5" x2="177.5" y2="740.0" stroke="#000" stroke-width="2.2" stroke-dasharray="8 5"/>
<line x1="520.0" y1="715.0" x2="354.0" y2="957.4" stroke="#000" stroke-width="2.2" stroke-dasharray="8 5"/>
<circle cx="204.7" cy="897.6" r="159.5" fill="url(#circ1G)"/>
<circle cx="20.0" cy="800.0" r="40.0" fill="#40e8ff" fill-opacity="0.050" stroke="#fff" stroke-opacity="0.00" stroke-width="0.9"/>
<circle cx="30.9" cy="805.8" r="40.0" fill="#40e8ff" fill-opacity="0.076" stroke="#fff" stroke-opacity="0.04" stroke-width="0.9"/>
<circle cx="41.8" cy="811.6" r="40.0" fill="#40e8ff" fill-opacity="0.103" stroke="#fff" stroke-opacity="0.08" stroke-width="0.9"/>
<circle cx="52.7" cy="817.5" r="40.0" fill="#40e8ff" fill-opacity="0.129" stroke="#fff" stroke-opacity="0.12" stroke-width="0.9"/>
<circle cx="63.6" cy="823.3" r="40.0" fill="#40e8ff" fill-opacity="0.155" stroke="#fff" stroke-opacity="0.16" stroke-width="0.9"/>
<circle cx="74.5" cy="829.1" r="40.0" fill="#40e8ff" fill-opacity="0.182" stroke="#fff" stroke-opacity="0.20" stroke-width="0.9"/>
<circle cx="85.5" cy="834.9" r="40.0" fill="#40e8ff" fill-opacity="0.208" stroke="#fff" stroke-opacity="0.25" stroke-width="0.9"/>
<circle cx="96.4" cy="840.7" r="40.0" fill="#40e8ff" fill-opacity="0.235" stroke="#fff" stroke-opacity="0.29" stroke-width="0.9"/>
<circle cx="107.3" cy="846.5" r="40.0" fill="#40e8ff" fill-opacity="0.261" stroke="#fff" stroke-opacity="0.33" stroke-width="0.9"/>
<circle cx="118.2" cy="852.4" r="40.0" fill="#40e8ff" fill-opacity="0.287" stroke="#fff" stroke-opacity="0.37" stroke-width="0.9"/>
<circle cx="129.1" cy="858.2" r="40.0" fill="#40e8ff" fill-opacity="0.314" stroke="#fff" stroke-opacity="0.41" stroke-width="0.9"/>
<circle cx="140.0" cy="864.0" r="40.0" fill="#40e8ff" fill-opacity="0.340" stroke="#fff" stroke-opacity="0.45" stroke-width="0.9"/>
<circle cx="248.0" cy="881.0" r="19.3" fill="#ff9030" fill-opacity="0.040" stroke="#fff" stroke-opacity="0.00" stroke-width="0.9"/>
<circle cx="255.5" cy="881.6" r="19.3" fill="#ff9030" fill-opacity="0.075" stroke="#fff" stroke-opacity="0.06" stroke-width="0.9"/>
<circle cx="263.0" cy="882.2" r="19.3" fill="#ff9030" fill-opacity="0.110" stroke="#fff" stroke-opacity="0.11" stroke-width="0.9"/>
<circle cx="270.5" cy="882.9" r="19.3" fill="#ff9030" fill-opacity="0.145" stroke="#fff" stroke-opacity="0.17" stroke-width="0.9"/>
<circle cx="278.0" cy="883.5" r="19.3" fill="#ff9030" fill-opacity="0.180" stroke="#fff" stroke-opacity="0.23" stroke-width="0.9"/>
<circle cx="285.5" cy="884.1" r="19.3" fill="#ff9030" fill-opacity="0.215" stroke="#fff" stroke-opacity="0.28" stroke-width="0.9"/>
<circle cx="293.0" cy="884.8" r="19.3" fill="#ff9030" fill-opacity="0.250" stroke="#fff" stroke-opacity="0.34" stroke-width="0.9"/>
<circle cx="300.5" cy="885.4" r="19.3" fill="#ff9030" fill-opacity="0.285" stroke="#fff" stroke-opacity="0.39" stroke-width="0.9"/>
<circle cx="308.0" cy="886.0" r="19.3" fill="#ff9030" fill-opacity="0.320" stroke="#fff" stroke-opacity="0.45" stroke-width="0.9"/>
<circle cx="195.0" cy="925.0" r="26.7" fill="#40ee40" fill-opacity="0.040" stroke="#fff" stroke-opacity="0.00" stroke-width="0.9"/>
<circle cx="204.5" cy="933.0" r="26.7" fill="#40ee40" fill-opacity="0.072" stroke="#fff" stroke-opacity="0.05" stroke-width="0.9"/>
<circle cx="214.0" cy="941.0" r="26.7" fill="#40ee40" fill-opacity="0.104" stroke="#fff" stroke-opacity="0.09" stroke-width="0.9"/>
<circle cx="223.5" cy="949.0" r="26.7" fill="#40ee40" fill-opacity="0.136" stroke="#fff" stroke-opacity="0.14" stroke-width="0.9"/>
<circle cx="233.0" cy="957.0" r="26.7" fill="#40ee40" fill-opacity="0.168" stroke="#fff" stroke-opacity="0.18" stroke-width="0.9"/>
<circle cx="242.5" cy="965.0" r="26.7" fill="#40ee40" fill-opacity="0.200" stroke="#fff" stroke-opacity="0.23" stroke-width="0.9"/>
<circle cx="252.0" cy="973.0" r="26.7" fill="#40ee40" fill-opacity="0.232" stroke="#fff" stroke-opacity="0.27" stroke-width="0.9"/>
<circle cx="261.5" cy="981.0" r="26.7" fill="#40ee40" fill-opacity="0.264" stroke="#fff" stroke-opacity="0.32" stroke-width="0.9"/>
<circle cx="271.0" cy="989.0" r="26.7" fill="#40ee40" fill-opacity="0.296" stroke="#fff" stroke-opacity="0.36" stroke-width="0.9"/>
<circle cx="280.5" cy="997.0" r="26.7" fill="#40ee40" fill-opacity="0.328" stroke="#fff" stroke-opacity="0.41" stroke-width="0.9"/>
<circle cx="290.0" cy="1005.0" r="26.7" fill="#40ee40" fill-opacity="0.360" stroke="#fff" stroke-opacity="0.45" stroke-width="0.9"/>
<polygon points="188,863 260,872 262,858 296,885 258,907 259,893 187,889" fill="#f7861c"/>
<g><circle cx="148.4" cy="868.4" r="40.8" fill="url(#gCyan)"/><ellipse cx="140.2" cy="851.3" rx="24.5" ry="16.3" fill="url(#shine)"/><circle cx="148.4" cy="868.4" r="40.8" fill="none" stroke="#000" stroke-width="3"/></g>
<defs><linearGradient id="gArr1" gradientUnits="userSpaceOnUse" x1="150" y1="870" x2="272" y2="985"><stop offset="0" stop-color="#2ef02e" stop-opacity="0"/><stop offset="0.35" stop-color="#2ef02e" stop-opacity="0.85"/><stop offset="1" stop-color="#2ef02e"/></linearGradient></defs>
<polygon points="160,872 238,955 246,944 273,987 228,975 236,968 146,886" fill="url(#gArr1)"/>
<g><circle cx="317.0" cy="887.0" r="19.3" fill="url(#gYellow)"/><ellipse cx="313.1" cy="878.9" rx="11.6" ry="7.7" fill="url(#shine)"/><circle cx="317.0" cy="887.0" r="19.3" fill="none" stroke="#000" stroke-width="2.5"/></g>
<circle cx="204.7" cy="897.6" r="159.5" fill="none" stroke="#000" stroke-width="4"/>
<g><circle cx="296.7" cy="1011.0" r="26.7" fill="url(#gGreen)"/><ellipse cx="291.4" cy="999.8" rx="16.0" ry="10.7" fill="url(#shine)"/><circle cx="296.7" cy="1011.0" r="26.7" fill="none" stroke="#000" stroke-width="3"/></g>
<text x="129.12" y="796.00" font-size="21" font-weight="bold" fill="#000" textLength="45.66" lengthAdjust="spacingAndGlyphs" >Pion</text>
<line x1="149.0" y1="801.6" x2="149.0" y2="828.0" stroke="#000" stroke-width="3.5" />
<text x="248.82" y="838.70" font-size="21" font-weight="bold" fill="#000" textLength="92.59" lengthAdjust="spacingAndGlyphs" >Neutrino</text>
<line x1="317.0" y1="842.0" x2="317.0" y2="868.5" stroke="#000" stroke-width="3.5" />
<text x="162.74" y="1022.30" font-size="21" font-weight="bold" fill="#000" textLength="59.42" lengthAdjust="spacingAndGlyphs" >Muon</text>
<line x1="227.0" y1="1015.0" x2="271.0" y2="1015.0" stroke="#000" stroke-width="3.5" />
<rect x="463.00" y="826.70" width="777.00" height="252.60" fill="#e8e9bf" />
<text x="484.05" y="858.20" font-size="21" font-weight="normal" fill="#000" textLength="368.65" lengthAdjust="spacingAndGlyphs" stroke="#000" stroke-width="0.25">The goal is to turn a ‘cloud’ of muons</text>
<text x="484.27" y="884.60" font-size="21" font-weight="normal" fill="#000" textLength="272.75" lengthAdjust="spacingAndGlyphs" stroke="#000" stroke-width="0.25">travelling in all directions...</text>
<text x="931.93" y="863.40" font-size="21" font-weight="normal" fill="#000" textLength="189.60" lengthAdjust="spacingAndGlyphs" stroke="#000" stroke-width="0.25">...into a tight beam</text>
<text x="933.77" y="890.50" font-size="21" font-weight="normal" fill="#000" textLength="263.30" lengthAdjust="spacingAndGlyphs" stroke="#000" stroke-width="0.25">travelling in one direction.</text>
<rect x="584.50" y="920.60" width="92.50" height="144.40" fill="url(#targetG)" />
<rect x="584.50" y="920.60" width="92.50" height="144.40" fill="url(#dots)" />
<rect x="584.50" y="920.60" width="92.50" height="144.40" fill="url(#targetV)" />
<circle cx="496.9" cy="956.3" r="13.5" fill="#ff2030" fill-opacity="0.030" stroke="#fff" stroke-opacity="0.00" stroke-width="0.9"/>
<circle cx="505.3" cy="956.3" r="13.5" fill="#ff2030" fill-opacity="0.056" stroke="#fff" stroke-opacity="0.03" stroke-width="0.9"/>
<circle cx="513.8" cy="956.3" r="13.5" fill="#ff2030" fill-opacity="0.081" stroke="#fff" stroke-opacity="0.07" stroke-width="0.9"/>
<circle cx="522.2" cy="956.3" r="13.5" fill="#ff2030" fill-opacity="0.107" stroke="#fff" stroke-opacity="0.10" stroke-width="0.9"/>
<circle cx="530.7" cy="956.3" r="13.5" fill="#ff2030" fill-opacity="0.132" stroke="#fff" stroke-opacity="0.13" stroke-width="0.9"/>
<circle cx="539.1" cy="956.3" r="13.5" fill="#ff2030" fill-opacity="0.158" stroke="#fff" stroke-opacity="0.17" stroke-width="0.9"/>
<circle cx="547.6" cy="956.3" r="13.5" fill="#ff2030" fill-opacity="0.183" stroke="#fff" stroke-opacity="0.20" stroke-width="0.9"/>
<circle cx="556.0" cy="956.3" r="13.5" fill="#ff2030" fill-opacity="0.209" stroke="#fff" stroke-opacity="0.23" stroke-width="0.9"/>
<circle cx="564.5" cy="956.3" r="13.5" fill="#ff2030" fill-opacity="0.234" stroke="#fff" stroke-opacity="0.27" stroke-width="0.9"/>
<circle cx="572.9" cy="956.3" r="13.5" fill="#ff2030" fill-opacity="0.260" stroke="#fff" stroke-opacity="0.30" stroke-width="0.9"/>
<circle cx="475.5" cy="988.1" r="13.5" fill="#ff2030" fill-opacity="0.030" stroke="#fff" stroke-opacity="0.00" stroke-width="0.9"/>
<circle cx="483.9" cy="988.1" r="13.5" fill="#ff2030" fill-opacity="0.056" stroke="#fff" stroke-opacity="0.03" stroke-width="0.9"/>
<circle cx="492.4" cy="988.1" r="13.5" fill="#ff2030" fill-opacity="0.081" stroke="#fff" stroke-opacity="0.07" stroke-width="0.9"/>
<circle cx="500.8" cy="988.1" r="13.5" fill="#ff2030" fill-opacity="0.107" stroke="#fff" stroke-opacity="0.10" stroke-width="0.9"/>
<circle cx="509.3" cy="988.1" r="13.5" fill="#ff2030" fill-opacity="0.132" stroke="#fff" stroke-opacity="0.13" stroke-width="0.9"/>
<circle cx="517.7" cy="988.1" r="13.5" fill="#ff2030" fill-opacity="0.158" stroke="#fff" stroke-opacity="0.17" stroke-width="0.9"/>
<circle cx="526.2" cy="988.1" r="13.5" fill="#ff2030" fill-opacity="0.183" stroke="#fff" stroke-opacity="0.20" stroke-width="0.9"/>
<circle cx="534.6" cy="988.1" r="13.5" fill="#ff2030" fill-opacity="0.209" stroke="#fff" stroke-opacity="0.23" stroke-width="0.9"/>
<circle cx="543.1" cy="988.1" r="13.5" fill="#ff2030" fill-opacity="0.234" stroke="#fff" stroke-opacity="0.27" stroke-width="0.9"/>
<circle cx="551.5" cy="988.1" r="13.5" fill="#ff2030" fill-opacity="0.260" stroke="#fff" stroke-opacity="0.30" stroke-width="0.9"/>
<circle cx="499.7" cy="1011.8" r="13.5" fill="#ff2030" fill-opacity="0.030" stroke="#fff" stroke-opacity="0.00" stroke-width="0.9"/>
<circle cx="508.1" cy="1011.8" r="13.5" fill="#ff2030" fill-opacity="0.056" stroke="#fff" stroke-opacity="0.03" stroke-width="0.9"/>
<circle cx="516.6" cy="1011.8" r="13.5" fill="#ff2030" fill-opacity="0.081" stroke="#fff" stroke-opacity="0.07" stroke-width="0.9"/>
<circle cx="525.0" cy="1011.8" r="13.5" fill="#ff2030" fill-opacity="0.107" stroke="#fff" stroke-opacity="0.10" stroke-width="0.9"/>
<circle cx="533.5" cy="1011.8" r="13.5" fill="#ff2030" fill-opacity="0.132" stroke="#fff" stroke-opacity="0.13" stroke-width="0.9"/>
<circle cx="541.9" cy="1011.8" r="13.5" fill="#ff2030" fill-opacity="0.158" stroke="#fff" stroke-opacity="0.17" stroke-width="0.9"/>
<circle cx="550.4" cy="1011.8" r="13.5" fill="#ff2030" fill-opacity="0.183" stroke="#fff" stroke-opacity="0.20" stroke-width="0.9"/>
<circle cx="558.8" cy="1011.8" r="13.5" fill="#ff2030" fill-opacity="0.209" stroke="#fff" stroke-opacity="0.23" stroke-width="0.9"/>
<circle cx="567.3" cy="1011.8" r="13.5" fill="#ff2030" fill-opacity="0.234" stroke="#fff" stroke-opacity="0.27" stroke-width="0.9"/>
<circle cx="575.7" cy="1011.8" r="13.5" fill="#ff2030" fill-opacity="0.260" stroke="#fff" stroke-opacity="0.30" stroke-width="0.9"/>
<circle cx="485.0" cy="966.3" r="13.5" fill="#ff2030" fill-opacity="0.030" stroke="#fff" stroke-opacity="0.00" stroke-width="0.9"/>
<circle cx="493.4" cy="966.3" r="13.5" fill="#ff2030" fill-opacity="0.056" stroke="#fff" stroke-opacity="0.03" stroke-width="0.9"/>
<circle cx="501.9" cy="966.3" r="13.5" fill="#ff2030" fill-opacity="0.081" stroke="#fff" stroke-opacity="0.07" stroke-width="0.9"/>
<circle cx="510.3" cy="966.3" r="13.5" fill="#ff2030" fill-opacity="0.107" stroke="#fff" stroke-opacity="0.10" stroke-width="0.9"/>
<circle cx="518.8" cy="966.3" r="13.5" fill="#ff2030" fill-opacity="0.132" stroke="#fff" stroke-opacity="0.13" stroke-width="0.9"/>
<circle cx="527.2" cy="966.3" r="13.5" fill="#ff2030" fill-opacity="0.158" stroke="#fff" stroke-opacity="0.17" stroke-width="0.9"/>
<circle cx="535.7" cy="966.3" r="13.5" fill="#ff2030" fill-opacity="0.183" stroke="#fff" stroke-opacity="0.20" stroke-width="0.9"/>
<circle cx="544.1" cy="966.3" r="13.5" fill="#ff2030" fill-opacity="0.209" stroke="#fff" stroke-opacity="0.23" stroke-width="0.9"/>
<circle cx="552.6" cy="966.3" r="13.5" fill="#ff2030" fill-opacity="0.234" stroke="#fff" stroke-opacity="0.27" stroke-width="0.9"/>
<circle cx="561.0" cy="966.3" r="13.5" fill="#ff2030" fill-opacity="0.260" stroke="#fff" stroke-opacity="0.30" stroke-width="0.9"/>
<circle cx="500.5" cy="990.3" r="13.5" fill="#ff2030" fill-opacity="0.030" stroke="#fff" stroke-opacity="0.00" stroke-width="0.9"/>
<circle cx="508.9" cy="990.3" r="13.5" fill="#ff2030" fill-opacity="0.056" stroke="#fff" stroke-opacity="0.03" stroke-width="0.9"/>
<circle cx="517.4" cy="990.3" r="13.5" fill="#ff2030" fill-opacity="0.081" stroke="#fff" stroke-opacity="0.07" stroke-width="0.9"/>
<circle cx="525.8" cy="990.3" r="13.5" fill="#ff2030" fill-opacity="0.107" stroke="#fff" stroke-opacity="0.10" stroke-width="0.9"/>
<circle cx="534.3" cy="990.3" r="13.5" fill="#ff2030" fill-opacity="0.132" stroke="#fff" stroke-opacity="0.13" stroke-width="0.9"/>
<circle cx="542.7" cy="990.3" r="13.5" fill="#ff2030" fill-opacity="0.158" stroke="#fff" stroke-opacity="0.17" stroke-width="0.9"/>
<circle cx="551.2" cy="990.3" r="13.5" fill="#ff2030" fill-opacity="0.183" stroke="#fff" stroke-opacity="0.20" stroke-width="0.9"/>
<circle cx="559.6" cy="990.3" r="13.5" fill="#ff2030" fill-opacity="0.209" stroke="#fff" stroke-opacity="0.23" stroke-width="0.9"/>
<circle cx="568.1" cy="990.3" r="13.5" fill="#ff2030" fill-opacity="0.234" stroke="#fff" stroke-opacity="0.27" stroke-width="0.9"/>
<circle cx="576.5" cy="990.3" r="13.5" fill="#ff2030" fill-opacity="0.260" stroke="#fff" stroke-opacity="0.30" stroke-width="0.9"/>
<circle cx="480.1" cy="1010.8" r="13.5" fill="#ff2030" fill-opacity="0.030" stroke="#fff" stroke-opacity="0.00" stroke-width="0.9"/>
<circle cx="488.5" cy="1010.8" r="13.5" fill="#ff2030" fill-opacity="0.056" stroke="#fff" stroke-opacity="0.03" stroke-width="0.9"/>
<circle cx="497.0" cy="1010.8" r="13.5" fill="#ff2030" fill-opacity="0.081" stroke="#fff" stroke-opacity="0.07" stroke-width="0.9"/>
<circle cx="505.4" cy="1010.8" r="13.5" fill="#ff2030" fill-opacity="0.107" stroke="#fff" stroke-opacity="0.10" stroke-width="0.9"/>
<circle cx="513.9" cy="1010.8" r="13.5" fill="#ff2030" fill-opacity="0.132" stroke="#fff" stroke-opacity="0.13" stroke-width="0.9"/>
<circle cx="522.3" cy="1010.8" r="13.5" fill="#ff2030" fill-opacity="0.158" stroke="#fff" stroke-opacity="0.17" stroke-width="0.9"/>
<circle cx="530.8" cy="1010.8" r="13.5" fill="#ff2030" fill-opacity="0.183" stroke="#fff" stroke-opacity="0.20" stroke-width="0.9"/>
<circle cx="539.2" cy="1010.8" r="13.5" fill="#ff2030" fill-opacity="0.209" stroke="#fff" stroke-opacity="0.23" stroke-width="0.9"/>
<circle cx="547.7" cy="1010.8" r="13.5" fill="#ff2030" fill-opacity="0.234" stroke="#fff" stroke-opacity="0.27" stroke-width="0.9"/>
<circle cx="556.1" cy="1010.8" r="13.5" fill="#ff2030" fill-opacity="0.260" stroke="#fff" stroke-opacity="0.30" stroke-width="0.9"/>
<circle cx="496.7" cy="1034.8" r="13.5" fill="#ff2030" fill-opacity="0.030" stroke="#fff" stroke-opacity="0.00" stroke-width="0.9"/>
<circle cx="505.1" cy="1034.8" r="13.5" fill="#ff2030" fill-opacity="0.056" stroke="#fff" stroke-opacity="0.03" stroke-width="0.9"/>
<circle cx="513.6" cy="1034.8" r="13.5" fill="#ff2030" fill-opacity="0.081" stroke="#fff" stroke-opacity="0.07" stroke-width="0.9"/>
<circle cx="522.0" cy="1034.8" r="13.5" fill="#ff2030" fill-opacity="0.107" stroke="#fff" stroke-opacity="0.10" stroke-width="0.9"/>
<circle cx="530.5" cy="1034.8" r="13.5" fill="#ff2030" fill-opacity="0.132" stroke="#fff" stroke-opacity="0.13" stroke-width="0.9"/>
<circle cx="538.9" cy="1034.8" r="13.5" fill="#ff2030" fill-opacity="0.158" stroke="#fff" stroke-opacity="0.17" stroke-width="0.9"/>
<circle cx="547.4" cy="1034.8" r="13.5" fill="#ff2030" fill-opacity="0.183" stroke="#fff" stroke-opacity="0.20" stroke-width="0.9"/>
<circle cx="555.8" cy="1034.8" r="13.5" fill="#ff2030" fill-opacity="0.209" stroke="#fff" stroke-opacity="0.23" stroke-width="0.9"/>
<circle cx="564.3" cy="1034.8" r="13.5" fill="#ff2030" fill-opacity="0.234" stroke="#fff" stroke-opacity="0.27" stroke-width="0.9"/>
<circle cx="572.7" cy="1034.8" r="13.5" fill="#ff2030" fill-opacity="0.260" stroke="#fff" stroke-opacity="0.30" stroke-width="0.9"/>
<circle cx="594" cy="990" r="52.7" fill="url(#glowG)"/>
<polygon points="645.0,995.1 611.9,995.2 642.6,1014.7 608.8,1001.3 638.0,1039.0 603.7,1005.9 612.3,1038.3 597.3,1008.3 593.6,1042.9 590.4,1008.3 573.6,1041.5 584.1,1005.7 564.8,1021.5 579.1,1001.1 546.3,1013.3 576.1,995.0 537.5,994.8 575.5,988.1 534.7,972.6 577.4,981.6 562.2,965.6 581.6,976.2 569.8,950.2 587.4,972.6 586.9,950.6 594.1,971.4 605.9,928.9 600.9,972.7 625.3,940.3 606.6,976.4 624.9,967.0 610.7,981.8 659.2,972.0 612.5,988.4" fill="url(#expG)" fill-opacity="0.75" filter="url(#blur1)"/>
<polygon points="639.4,1006.6 607.4,999.0 621.8,1020.6 601.7,1004.2 604.2,1029.2 594.2,1006.1 587.1,1019.5 586.7,1004.4 576.3,1010.5 580.8,999.3 558.1,1004.1 578.0,992.1 566.1,987.0 578.9,984.5 568.2,972.7 583.2,978.1 578.7,961.7 589.9,974.4 593.7,962.5 597.7,974.3 610.8,956.9 604.5,977.8 623.9,968.8 609.0,984.1 639.2,983.9 610.0,991.7" fill="url(#expG2)"/>
<circle cx="594" cy="990" r="13.6" fill="url(#expC)"/>
<g opacity="0.7"><circle cx="576.9" cy="956.3" r="13.5" fill="url(#gRed)"/><ellipse cx="574.2" cy="950.6" rx="8.1" ry="5.4" fill="url(#shine)"/><circle cx="576.9" cy="956.3" r="13.5" fill="none" stroke="#000" stroke-width="2"/></g>
<g opacity="0.7"><circle cx="555.5" cy="988.1" r="13.5" fill="url(#gRed)"/><ellipse cx="552.8" cy="982.4" rx="8.1" ry="5.4" fill="url(#shine)"/><circle cx="555.5" cy="988.1" r="13.5" fill="none" stroke="#000" stroke-width="2"/></g>
<g opacity="0.7"><circle cx="579.7" cy="1011.8" r="13.5" fill="url(#gRed)"/><ellipse cx="577.0" cy="1006.1" rx="8.1" ry="5.4" fill="url(#shine)"/><circle cx="579.7" cy="1011.8" r="13.5" fill="none" stroke="#000" stroke-width="2"/></g>
<g><circle cx="565.0" cy="966.3" r="13.5" fill="url(#gRed)"/><ellipse cx="562.3" cy="960.6" rx="8.1" ry="5.4" fill="url(#shine)"/><circle cx="565.0" cy="966.3" r="13.5" fill="none" stroke="#000" stroke-width="2"/></g>
<g><circle cx="580.5" cy="990.3" r="13.5" fill="url(#gRed)"/><ellipse cx="577.8" cy="984.6" rx="8.1" ry="5.4" fill="url(#shine)"/><circle cx="580.5" cy="990.3" r="13.5" fill="none" stroke="#000" stroke-width="2"/></g>
<g><circle cx="560.1" cy="1010.8" r="13.5" fill="url(#gRed)"/><ellipse cx="557.4" cy="1005.1" rx="8.1" ry="5.4" fill="url(#shine)"/><circle cx="560.1" cy="1010.8" r="13.5" fill="none" stroke="#000" stroke-width="2"/></g>
<g><circle cx="576.7" cy="1034.8" r="13.5" fill="url(#gRed)"/><ellipse cx="574.0" cy="1029.1" rx="8.1" ry="5.4" fill="url(#shine)"/><circle cx="576.7" cy="1034.8" r="13.5" fill="none" stroke="#000" stroke-width="2"/></g>
<path d="M597.0,990.0 L766.3,904.9" fill="none" stroke="#22e8f8" stroke-width="3.6" stroke-dasharray="9 5"/>
<path d="M597.0,990.0 L719.0,942.6" fill="none" stroke="#22e8f8" stroke-width="3.6" stroke-dasharray="9 5"/>
<path d="M597.0,990.0 L694.0,989.8" fill="none" stroke="#22e8f8" stroke-width="3.6" stroke-dasharray="9 5"/>
<path d="M597.0,990.0 L733.6,1033.8" fill="none" stroke="#22e8f8" stroke-width="3.6" stroke-dasharray="9 5"/>
<path d="M766.3,904.9 L831.2,877.5" fill="none" stroke="#22ee22" stroke-width="3.6" stroke-dasharray="9 5"/>
<path d="M719.0,942.6 L851.6,956.9" fill="none" stroke="#22ee22" stroke-width="3.6" stroke-dasharray="9 5"/>
<path d="M694.0,989.8 L847.5,1059.2" fill="none" stroke="#22ee22" stroke-width="3.6" stroke-dasharray="9 5"/>
<path d="M733.6,1033.8 L809.0,998.8" fill="none" stroke="#22ee22" stroke-width="3.6" stroke-dasharray="9 5"/>
<g><circle cx="766.3" cy="904.9" r="11.0" fill="url(#gCyan)"/><ellipse cx="764.1" cy="900.3" rx="6.6" ry="4.4" fill="url(#shine)"/><circle cx="766.3" cy="904.9" r="11.0" fill="none" stroke="#000" stroke-width="2"/></g>
<g><circle cx="719.0" cy="942.6" r="11.0" fill="url(#gCyan)"/><ellipse cx="716.8" cy="938.0" rx="6.6" ry="4.4" fill="url(#shine)"/><circle cx="719.0" cy="942.6" r="11.0" fill="none" stroke="#000" stroke-width="2"/></g>
<g><circle cx="694.0" cy="989.8" r="11.0" fill="url(#gCyan)"/><ellipse cx="691.8" cy="985.2" rx="6.6" ry="4.4" fill="url(#shine)"/><circle cx="694.0" cy="989.8" r="11.0" fill="none" stroke="#000" stroke-width="2"/></g>
<g><circle cx="733.6" cy="1033.8" r="11.0" fill="url(#gCyan)"/><ellipse cx="731.4" cy="1029.2" rx="6.6" ry="4.4" fill="url(#shine)"/><circle cx="733.6" cy="1033.8" r="11.0" fill="none" stroke="#000" stroke-width="2"/></g>
<g><circle cx="831.2" cy="877.5" r="10.0" fill="url(#gGreen)"/><ellipse cx="829.2" cy="873.3" rx="6.0" ry="4.0" fill="url(#shine)"/><circle cx="831.2" cy="877.5" r="10.0" fill="none" stroke="#000" stroke-width="2"/></g>
<g><circle cx="851.6" cy="956.9" r="10.0" fill="url(#gGreen)"/><ellipse cx="849.6" cy="952.7" rx="6.0" ry="4.0" fill="url(#shine)"/><circle cx="851.6" cy="956.9" r="10.0" fill="none" stroke="#000" stroke-width="2"/></g>
<g><circle cx="847.5" cy="1059.2" r="10.0" fill="url(#gGreen)"/><ellipse cx="845.5" cy="1055.0" rx="6.0" ry="4.0" fill="url(#shine)"/><circle cx="847.5" cy="1059.2" r="10.0" fill="none" stroke="#000" stroke-width="2"/></g>
<g><circle cx="809.0" cy="998.8" r="10.0" fill="url(#gGreen)"/><ellipse cx="807.0" cy="994.6" rx="6.0" ry="4.0" fill="url(#shine)"/><circle cx="809.0" cy="998.8" r="10.0" fill="none" stroke="#000" stroke-width="2"/></g>
<line x1="949" y1="949.8" x2="1136.8" y2="949.8" stroke="url(#beamG)" stroke-width="3.6" stroke-dasharray="9 5"/>
<line x1="949" y1="967.2" x2="1115" y2="967.2" stroke="url(#beamG)" stroke-width="3.6" stroke-dasharray="9 5"/>
<line x1="949" y1="981" x2="1141.6" y2="981" stroke="url(#beamG)" stroke-width="3.6" stroke-dasharray="9 5"/>
<line x1="949" y1="993.6" x2="1165.8" y2="993.6" stroke="url(#beamG)" stroke-width="3.6" stroke-dasharray="9 5"/>
<line x1="949" y1="1007" x2="1120" y2="1007" stroke="url(#beamG)" stroke-width="3.6" stroke-dasharray="9 5"/>
<g><circle cx="1136.8" cy="949.8" r="11.0" fill="url(#gGreen)"/><ellipse cx="1134.6" cy="945.2" rx="6.6" ry="4.4" fill="url(#shine)"/><circle cx="1136.8" cy="949.8" r="11.0" fill="none" stroke="#000" stroke-width="2"/></g>
<g><circle cx="1115.0" cy="967.2" r="11.0" fill="url(#gGreen)"/><ellipse cx="1112.8" cy="962.6" rx="6.6" ry="4.4" fill="url(#shine)"/><circle cx="1115.0" cy="967.2" r="11.0" fill="none" stroke="#000" stroke-width="2"/></g>
<g><circle cx="1141.6" cy="981.0" r="11.0" fill="url(#gGreen)"/><ellipse cx="1139.4" cy="976.4" rx="6.6" ry="4.4" fill="url(#shine)"/><circle cx="1141.6" cy="981.0" r="11.0" fill="none" stroke="#000" stroke-width="2"/></g>
<g><circle cx="1165.8" cy="993.6" r="11.0" fill="url(#gGreen)"/><ellipse cx="1163.6" cy="989.0" rx="6.6" ry="4.4" fill="url(#shine)"/><circle cx="1165.8" cy="993.6" r="11.0" fill="none" stroke="#000" stroke-width="2"/></g>
<g><circle cx="1120.0" cy="1007.0" r="11.0" fill="url(#gGreen)"/><ellipse cx="1117.8" cy="1002.4" rx="6.6" ry="4.4" fill="url(#shine)"/><circle cx="1120.0" cy="1007.0" r="11.0" fill="none" stroke="#000" stroke-width="2"/></g>
<rect x="189.60" y="1105.00" width="86.20" height="160.00" fill="#cbcbcb" />
<rect x="287.50" y="1105.00" width="216.50" height="160.00" fill="#cbcbcb" />
<rect x="516.00" y="1105.00" width="86.00" height="160.00" fill="#cbcbcb" />
<rect x="614.00" y="1105.00" width="216.80" height="160.00" fill="#cbcbcb" />
<rect x="842.50" y="1105.00" width="86.50" height="160.00" fill="#cbcbcb" />
<rect x="941.00" y="1105.00" width="216.70" height="160.00" fill="#cbcbcb" />
<text x="195.27" y="1138.30" font-size="24.5" font-weight="bold" fill="#7f7f7f" textLength="73.42" lengthAdjust="spacingAndGlyphs" >SLOW</text>
<text x="521.66" y="1138.30" font-size="24.5" font-weight="bold" fill="#7f7f7f" textLength="74.23" lengthAdjust="spacingAndGlyphs" >SLOW</text>
<text x="848.96" y="1138.30" font-size="24.5" font-weight="bold" fill="#7f7f7f" textLength="73.93" lengthAdjust="spacingAndGlyphs" >SLOW</text>
<text x="313.32" y="1138.30" font-size="24.5" font-weight="bold" fill="#7f7f7f" textLength="154.28" lengthAdjust="spacingAndGlyphs" >ACCELERATE</text>
<text x="640.81" y="1138.30" font-size="24.5" font-weight="bold" fill="#7f7f7f" textLength="154.59" lengthAdjust="spacingAndGlyphs" >ACCELERATE</text>
<text x="966.81" y="1138.30" font-size="24.5" font-weight="bold" fill="#7f7f7f" textLength="155.09" lengthAdjust="spacingAndGlyphs" >ACCELERATE</text>
<rect x="337.2" y="1166" width="115.30000000000001" height="357.70000000000005" rx="14" fill="#000"/>
<rect x="341.7" y="1170.5" width="106.30000000000001" height="348.70000000000005" rx="10" fill="#5ea6a6"/>
<rect x="341.7" y="1229" width="106.30000000000001" height="40" fill="url(#tealG)"/>
<rect x="341.7" y="1420" width="106.30000000000001" height="41" fill="url(#tealG2)"/>
<rect x="342.4" y="1170.6" width="104.9" height="58.4" rx="9" fill="#9ccfcf" stroke="#0d2a2a" stroke-width="1.2"/>
<rect x="347.0" y="1176" width="95.70000000000002" height="46.7" rx="5" fill="url(#hatch)"/>
<rect x="342.4" y="1461.2" width="104.9" height="57.6" rx="9" fill="#9ccfcf" stroke="#0d2a2a" stroke-width="1.2"/>
<rect x="347.0" y="1467.5" width="95.70000000000002" height="47.2" rx="5" fill="url(#hatch)"/>
<rect x="666.2" y="1166" width="115.29999999999995" height="357.70000000000005" rx="14" fill="#000"/>
<rect x="670.7" y="1170.5" width="106.29999999999995" height="348.70000000000005" rx="10" fill="#5ea6a6"/>
<rect x="670.7" y="1229" width="106.29999999999995" height="40" fill="url(#tealG)"/>
<rect x="670.7" y="1420" width="106.29999999999995" height="41" fill="url(#tealG2)"/>
<rect x="671.4000000000001" y="1170.6" width="104.89999999999995" height="58.4" rx="9" fill="#9ccfcf" stroke="#0d2a2a" stroke-width="1.2"/>
<rect x="676.0" y="1176" width="95.69999999999996" height="46.7" rx="5" fill="url(#hatch)"/>
<rect x="671.4000000000001" y="1461.2" width="104.89999999999995" height="57.6" rx="9" fill="#9ccfcf" stroke="#0d2a2a" stroke-width="1.2"/>
<rect x="676.0" y="1467.5" width="95.69999999999996" height="47.2" rx="5" fill="url(#hatch)"/>
<rect x="998" y="1166" width="116" height="357.70000000000005" rx="14" fill="#000"/>
<rect x="1002.5" y="1170.5" width="107" height="348.70000000000005" rx="10" fill="#5ea6a6"/>
<rect x="1002.5" y="1229" width="107" height="40" fill="url(#tealG)"/>
<rect x="1002.5" y="1420" width="107" height="41" fill="url(#tealG2)"/>
<rect x="1003.2" y="1170.6" width="105.6" height="58.4" rx="9" fill="#9ccfcf" stroke="#0d2a2a" stroke-width="1.2"/>
<rect x="1007.8" y="1176" width="96.4" height="46.7" rx="5" fill="url(#hatch)"/>
<rect x="1003.2" y="1461.2" width="105.6" height="57.6" rx="9" fill="#9ccfcf" stroke="#0d2a2a" stroke-width="1.2"/>
<rect x="1007.8" y="1467.5" width="96.4" height="47.2" rx="5" fill="url(#hatch)"/>
<rect x="8.00" y="1260.30" width="1195.00" height="4.50" fill="#000" />
<rect x="8.00" y="1264.80" width="1195.00" height="8.00" fill="#d9fcfc" />
<rect x="8.00" y="1272.70" width="1195.00" height="1.40" fill="#111" />
<rect x="8.00" y="1274.00" width="1195.00" height="140.00" fill="url(#tubeG)" />
<rect x="8.00" y="1414.00" width="1195.00" height="1.20" fill="#111" />
<rect x="8.00" y="1415.20" width="1195.00" height="7.00" fill="#d9fcfc" />
<rect x="8.00" y="1422.20" width="1195.00" height="5.20" fill="#000" />
<path d="M1201,1260.3 H1205.5 V1271 H1219 V1418 H1205.5 V1427.4 H1201 Z" fill="#000"/>
<rect x="1188.00" y="1274.00" width="28.70" height="140.00" fill="url(#absG)" />
<rect x="1188.00" y="1274.00" width="28.70" height="140.00" fill="url(#bubbles)" />
<rect x="197.00" y="1275.00" width="67.00" height="137.70" fill="url(#absG)" />
<rect x="197.00" y="1275.00" width="67.00" height="137.70" fill="url(#bubbles)" />
<rect x="528.00" y="1275.00" width="64.00" height="137.70" fill="url(#absG)" />
<rect x="528.00" y="1275.00" width="64.00" height="137.70" fill="url(#bubbles)" />
<rect x="856.50" y="1275.00" width="67.50" height="137.70" fill="url(#absG)" />
<rect x="856.50" y="1275.00" width="67.50" height="137.70" fill="url(#bubbles)" />
<path d="M264,1275.0 A40.5,40.5 0 0 1 345,1275.0 V1413.3 A40.5,40.5 0 0 1 264,1413.3 Z" fill="url(#cavG)"/>
<path d="M264,1275.0 A40.5,40.5 0 0 1 345,1275.0 V1413.3 A40.5,40.5 0 0 1 264,1413.3 Z" fill="url(#cavV)"/>
<path d="M264,1275.0 A40.5,40.5 0 0 1 345,1275.0 V1413.3 A40.5,40.5 0 0 1 264,1413.3 Z" fill="none" stroke="#000" stroke-width="4"/>
<path d="M447,1275.0 A40.5,40.5 0 0 1 528,1275.0 V1413.3 A40.5,40.5 0 0 1 447,1413.3 Z" fill="url(#cavG)"/>
<path d="M447,1275.0 A40.5,40.5 0 0 1 528,1275.0 V1413.3 A40.5,40.5 0 0 1 447,1413.3 Z" fill="url(#cavV)"/>
<path d="M447,1275.0 A40.5,40.5 0 0 1 528,1275.0 V1413.3 A40.5,40.5 0 0 1 447,1413.3 Z" fill="none" stroke="#000" stroke-width="4"/>
<path d="M354.6,1277.8 A40.79999999999998,40.79999999999998 0 0 1 436.2,1277.8 V1410.2 A40.79999999999998,40.79999999999998 0 0 1 354.6,1410.2 Z" fill="url(#cavG)"/>
<path d="M354.6,1277.8 A40.79999999999998,40.79999999999998 0 0 1 436.2,1277.8 V1410.2 A40.79999999999998,40.79999999999998 0 0 1 354.6,1410.2 Z" fill="url(#cavV)"/>
<path d="M354.6,1277.8 A40.79999999999998,40.79999999999998 0 0 1 436.2,1277.8 V1410.2 A40.79999999999998,40.79999999999998 0 0 1 354.6,1410.2 Z" fill="none" stroke="#000" stroke-width="2"/>
<rect x="264.00" y="1287.00" width="264.00" height="111.00" fill="#d4d8e2" fill-opacity="0.5"/>
<rect x="346.00" y="1287.00" width="8.60" height="111.00" fill="#8a8fa8" fill-opacity="0.25"/>
<rect x="437.20" y="1287.00" width="9.80" height="111.00" fill="#8a8fa8" fill-opacity="0.25"/>
<path d="M592,1274.8 A40.30000000000001,40.30000000000001 0 0 1 672.6,1274.8 V1413.5 A40.30000000000001,40.30000000000001 0 0 1 592,1413.5 Z" fill="url(#cavG)"/>
<path d="M592,1274.8 A40.30000000000001,40.30000000000001 0 0 1 672.6,1274.8 V1413.5 A40.30000000000001,40.30000000000001 0 0 1 592,1413.5 Z" fill="url(#cavV)"/>
<path d="M592,1274.8 A40.30000000000001,40.30000000000001 0 0 1 672.6,1274.8 V1413.5 A40.30000000000001,40.30000000000001 0 0 1 592,1413.5 Z" fill="none" stroke="#000" stroke-width="4"/>
<path d="M774,1275.75 A41.25,41.25 0 0 1 856.5,1275.75 V1412.55 A41.25,41.25 0 0 1 774,1412.55 Z" fill="url(#cavG)"/>
<path d="M774,1275.75 A41.25,41.25 0 0 1 856.5,1275.75 V1412.55 A41.25,41.25 0 0 1 774,1412.55 Z" fill="url(#cavV)"/>
<path d="M774,1275.75 A41.25,41.25 0 0 1 856.5,1275.75 V1412.55 A41.25,41.25 0 0 1 774,1412.55 Z" fill="none" stroke="#000" stroke-width="4"/>
<path d="M682,1278.25 A41.25,41.25 0 0 1 764.5,1278.25 V1409.75 A41.25,41.25 0 0 1 682,1409.75 Z" fill="url(#cavG)"/>
<path d="M682,1278.25 A41.25,41.25 0 0 1 764.5,1278.25 V1409.75 A41.25,41.25 0 0 1 682,1409.75 Z" fill="url(#cavV)"/>
<path d="M682,1278.25 A41.25,41.25 0 0 1 764.5,1278.25 V1409.75 A41.25,41.25 0 0 1 682,1409.75 Z" fill="none" stroke="#000" stroke-width="2"/>
<rect x="592.00" y="1287.00" width="264.50" height="111.00" fill="#d4d8e2" fill-opacity="0.5"/>
<rect x="673.60" y="1287.00" width="8.40" height="111.00" fill="#8a8fa8" fill-opacity="0.25"/>
<rect x="765.50" y="1287.00" width="8.50" height="111.00" fill="#8a8fa8" fill-opacity="0.25"/>
<path d="M924,1275.3 A40.80000000000001,40.80000000000001 0 0 1 1005.6,1275.3 V1413.0 A40.80000000000001,40.80000000000001 0 0 1 924,1413.0 Z" fill="url(#cavG)"/>
<path d="M924,1275.3 A40.80000000000001,40.80000000000001 0 0 1 1005.6,1275.3 V1413.0 A40.80000000000001,40.80000000000001 0 0 1 924,1413.0 Z" fill="url(#cavV)"/>
<path d="M924,1275.3 A40.80000000000001,40.80000000000001 0 0 1 1005.6,1275.3 V1413.0 A40.80000000000001,40.80000000000001 0 0 1 924,1413.0 Z" fill="none" stroke="#000" stroke-width="4"/>
<path d="M1106,1275.5 A41.0,41.0 0 0 1 1188,1275.5 V1412.8 A41.0,41.0 0 0 1 1106,1412.8 Z" fill="url(#cavG)"/>
<path d="M1106,1275.5 A41.0,41.0 0 0 1 1188,1275.5 V1412.8 A41.0,41.0 0 0 1 1106,1412.8 Z" fill="url(#cavV)"/>
<path d="M1106,1275.5 A41.0,41.0 0 0 1 1188,1275.5 V1412.8 A41.0,41.0 0 0 1 1106,1412.8 Z" fill="none" stroke="#000" stroke-width="4"/>
<path d="M1015,1277.5 A40.5,40.5 0 0 1 1096,1277.5 V1410.5 A40.5,40.5 0 0 1 1015,1410.5 Z" fill="url(#cavG)"/>
<path d="M1015,1277.5 A40.5,40.5 0 0 1 1096,1277.5 V1410.5 A40.5,40.5 0 0 1 1015,1410.5 Z" fill="url(#cavV)"/>
<path d="M1015,1277.5 A40.5,40.5 0 0 1 1096,1277.5 V1410.5 A40.5,40.5 0 0 1 1015,1410.5 Z" fill="none" stroke="#000" stroke-width="2"/>
<rect x="924.00" y="1287.00" width="264.00" height="111.00" fill="#d4d8e2" fill-opacity="0.5"/>
<rect x="1006.60" y="1287.00" width="8.40" height="111.00" fill="#8a8fa8" fill-opacity="0.25"/>
<rect x="1097.00" y="1287.00" width="9.00" height="111.00" fill="#8a8fa8" fill-opacity="0.25"/>
<rect x="8" y="1322.4" width="75" height="47.399999999999864" fill="#fff" fill-opacity="0.6"/>
<polygon points="83,1288.5 175,1346.1 83,1403.7" fill="#fff" fill-opacity="0.62"/>
<rect x="264" y="1328.5" width="237" height="32.0" fill="url(#arrowShaft)"/>
<polygon points="501,1303.7 563,1341.85 501,1380" fill="#fff" fill-opacity="0.62"/>
<rect x="592" y="1330" width="237" height="29" fill="url(#arrowShaft)"/>
<polygon points="829,1307 887,1344.3 829,1381.6" fill="#fff" fill-opacity="0.62"/>
<rect x="924" y="1333" width="232" height="24" fill="url(#arrowShaft)"/>
<polygon points="1156,1311.8 1208.5,1344.6999999999998 1156,1377.6" fill="#fff" fill-opacity="0.62"/>
<path d="M8.0,1338.9 L11.0,1342.0 L14.0,1345.0 L17.0,1348.1 L20.0,1351.2 L23.0,1354.2 L26.0,1357.2 L29.0,1360.1 L32.0,1363.0 L35.0,1365.8 L38.0,1368.6 L41.0,1371.3 L44.0,1373.9 L47.0,1376.4 L50.0,1378.8 L53.0,1381.1 L56.0,1383.3 L59.0,1385.4 L62.0,1387.3 L65.0,1389.1 L68.0,1390.8 L71.0,1392.3 L74.0,1393.7 L77.0,1394.9 L80.0,1396.0 L83.0,1396.9 L86.0,1397.7 L89.0,1398.2 L92.0,1398.7 L95.0,1398.9 L98.0,1399.0 L101.0,1398.9 L104.0,1398.7 L107.0,1398.2 L110.0,1397.7 L113.0,1396.9 L116.0,1396.0 L119.0,1394.9 L122.0,1393.7 L125.0,1392.3 L128.0,1390.8 L131.0,1389.1 L134.0,1387.3 L137.0,1385.4 L140.0,1383.3 L143.0,1381.1 L146.0,1378.8 L149.0,1376.4 L152.0,1373.9 L155.0,1371.3 L158.0,1368.6 L161.0,1365.8 L164.0,1363.0 L167.0,1360.1 L170.0,1357.2 L173.0,1354.2 L176.0,1351.2 L179.0,1348.1 L182.0,1345.0 L185.0,1342.0 L188.0,1338.9 L191.0,1335.9 L194.0,1332.8 L197.0,1329.8 L200.0,1327.1 L203.0,1324.4 L206.0,1321.9 L209.0,1319.6 L212.0,1317.3 L215.0,1315.3 L218.0,1313.3 L221.0,1311.6 L224.0,1309.9 L227.0,1308.5 L230.0,1307.2 L233.0,1306.0 L236.0,1305.0 L239.0,1304.2 L242.0,1303.5 L245.0,1303.0 L248.0,1302.7 L251.0,1302.5 L254.0,1302.4 L257.0,1302.5 L260.0,1302.7 L263.0,1303.1 L266.0,1303.1 L269.0,1303.0 L272.0,1303.0 L275.0,1303.2 L278.0,1303.4 L281.0,1303.8 L284.0,1304.3 L287.0,1304.9 L290.0,1305.6 L293.0,1306.5 L296.0,1307.4 L299.0,1308.5 L302.0,1309.6 L305.0,1310.9 L308.0,1312.3 L311.0,1313.7 L314.0,1315.2 L317.0,1316.9 L320.0,1318.6 L323.0,1320.3 L326.0,1322.2 L329.0,1324.1 L332.0,1326.0 L335.0,1328.0 L338.0,1330.1 L341.0,1332.2 L344.0,1334.3 L347.0,1336.5 L350.0,1338.6 L353.0,1340.8 L356.0,1343.0 L359.0,1345.2 L362.0,1347.4 L365.0,1349.5 L368.0,1351.7 L371.0,1353.8 L374.0,1355.9 L377.0,1358.0 L380.0,1360.0 L383.0,1361.9 L386.0,1363.8 L389.0,1365.7 L392.0,1367.4 L395.0,1369.1 L398.0,1370.8 L401.0,1372.3 L404.0,1373.7 L407.0,1375.1 L410.0,1376.4 L413.0,1377.5 L416.0,1378.6 L419.0,1379.5 L422.0,1380.4 L425.0,1381.1 L428.0,1381.7 L431.0,1382.2 L434.0,1382.6 L437.0,1382.8 L440.0,1383.0 L443.0,1383.0 L446.0,1382.9 L449.0,1382.7 L452.0,1382.3 L455.0,1381.9 L458.0,1381.3 L461.0,1380.6 L464.0,1379.8 L467.0,1378.9 L470.0,1377.9 L473.0,1376.8 L476.0,1375.5 L479.0,1374.2 L482.0,1372.8 L485.0,1371.3 L488.0,1369.7 L491.0,1368.0 L494.0,1366.3 L497.0,1364.5 L500.0,1362.6 L503.0,1360.6 L506.0,1358.6 L509.0,1356.6 L512.0,1354.5 L515.0,1352.4 L518.0,1350.3 L521.0,1348.1 L524.0,1345.9 L527.0,1343.7 L530.0,1341.4 L533.0,1339.0 L536.0,1336.7 L539.0,1334.4 L542.0,1332.1 L545.0,1329.9 L548.0,1327.8 L551.0,1325.8 L554.0,1323.8 L557.0,1321.9 L560.0,1320.1 L563.0,1318.4 L566.0,1316.7 L569.0,1315.2 L572.0,1313.7 L575.0,1312.4 L578.0,1311.1 L581.0,1310.0 L584.0,1309.0 L587.0,1308.0 L590.0,1307.2 L593.0,1306.5 L596.0,1305.8 L599.0,1305.3 L602.0,1304.8 L605.0,1304.5 L608.0,1304.2 L611.0,1304.1 L614.0,1304.0 L617.0,1304.1 L620.0,1304.2 L623.0,1304.5 L626.0,1304.8 L629.0,1305.3 L632.0,1305.8 L635.0,1306.5 L638.0,1307.2 L641.0,1308.1 L644.0,1309.0 L647.0,1310.0 L650.0,1311.1 L653.0,1312.3 L656.0,1313.5 L659.0,1314.9 L662.0,1316.3 L665.0,1317.7 L668.0,1319.2 L671.0,1320.8 L674.0,1322.5 L677.0,1324.1 L680.0,1325.9 L683.0,1327.6 L686.0,1329.4 L689.0,1331.2 L692.0,1333.0 L695.0,1334.9 L698.0,1336.8 L701.0,1338.6 L704.0,1340.5 L707.0,1342.3 L710.0,1344.2 L713.0,1346.0 L716.0,1347.8 L719.0,1349.6 L722.0,1351.3 L725.0,1353.0 L728.0,1354.6 L731.0,1356.2 L734.0,1357.8 L737.0,1359.3 L740.0,1360.7 L743.0,1362.0 L746.0,1363.3 L749.0,1364.5 L752.0,1365.7 L755.0,1366.7 L758.0,1367.6 L761.0,1368.5 L764.0,1369.3 L767.0,1370.0 L770.0,1370.6 L773.0,1371.0 L776.0,1371.4 L779.0,1371.7 L782.0,1371.9 L785.0,1372.0 L788.0,1372.0 L791.0,1371.9 L794.0,1371.6 L797.0,1371.3 L800.0,1370.9 L803.0,1370.4 L806.0,1369.8 L809.0,1369.0 L812.0,1368.2 L815.0,1367.3 L818.0,1366.4 L821.0,1365.3 L824.0,1364.1 L827.0,1362.9 L830.0,1361.6 L833.0,1360.2 L836.0,1358.8 L839.0,1357.3 L842.0,1355.7 L845.0,1354.1 L848.0,1352.4 L851.0,1350.7 L854.0,1349.0 L857.0,1347.2 L860.0,1345.3 L863.0,1343.4 L866.0,1341.6 L869.0,1339.8 L872.0,1338.0 L875.0,1336.3 L878.0,1334.6 L881.0,1333.0 L884.0,1331.5 L887.0,1330.0 L890.0,1328.6 L893.0,1327.3 L896.0,1326.1 L899.0,1324.9 L902.0,1323.8 L905.0,1322.8 L908.0,1321.9 L911.0,1321.1 L914.0,1320.3 L917.0,1319.7 L920.0,1319.1 L923.0,1318.6 L926.0,1318.0 L929.0,1317.3 L932.0,1316.7 L935.0,1316.1 L938.0,1315.6 L941.0,1315.1 L944.0,1314.8 L947.0,1314.5 L950.0,1314.3 L953.0,1314.1 L956.0,1314.0 L959.0,1314.0 L962.0,1314.1 L965.0,1314.2 L968.0,1314.4 L971.0,1314.7 L974.0,1315.0 L977.0,1315.4 L980.0,1315.9 L983.0,1316.5 L986.0,1317.1 L989.0,1317.7 L992.0,1318.5 L995.0,1319.3 L998.0,1320.1 L1001.0,1321.0 L1004.0,1322.0 L1007.0,1323.0 L1010.0,1324.0 L1013.0,1325.1 L1016.0,1326.3 L1019.0,1327.4 L1022.0,1328.6 L1025.0,1329.8 L1028.0,1331.1 L1031.0,1332.4 L1034.0,1333.6 L1037.0,1334.9 L1040.0,1336.2 L1043.0,1337.6 L1046.0,1338.9 L1049.0,1340.2 L1052.0,1341.5 L1055.0,1342.8 L1058.0,1344.1 L1061.0,1345.3 L1064.0,1346.6 L1067.0,1347.8 L1070.0,1349.0 L1073.0,1350.1 L1076.0,1351.2 L1079.0,1352.3 L1082.0,1353.4 L1085.0,1354.3 L1088.0,1355.3 L1091.0,1356.2 L1094.0,1357.0 L1097.0,1357.8 L1100.0,1358.5 L1103.0,1359.1 L1106.0,1359.7 L1109.0,1360.3 L1112.0,1360.7 L1115.0,1361.1 L1118.0,1361.4 L1121.0,1361.7 L1124.0,1361.9 L1127.0,1362.0 L1130.0,1362.0 L1133.0,1362.0 L1136.0,1361.9 L1139.0,1361.7 L1142.0,1361.4 L1145.0,1361.1 L1148.0,1360.7 L1151.0,1360.3 L1154.0,1359.7 L1157.0,1359.1 L1160.0,1358.5 L1163.0,1357.8 L1166.0,1357.0 L1169.0,1356.2 L1172.0,1355.3 L1175.0,1354.3 L1178.0,1353.4 L1181.0,1352.3 L1184.0,1351.2 L1187.0,1350.1 L1190.0,1349.0 L1193.0,1347.8 L1196.0,1346.6 L1199.0,1345.3 L1202.0,1344.1 L1205.0,1342.8 L1208.0,1341.5 L1211.0,1340.2 L1214.0,1338.9" fill="none" stroke="#eef0f4" stroke-opacity="0.6" stroke-width="7.9"/>
<path d="M8.0,1338.9 L11.0,1342.0 L14.0,1345.0 L17.0,1348.1 L20.0,1351.2 L23.0,1354.2 L26.0,1357.2 L29.0,1360.1 L32.0,1363.0 L35.0,1365.8 L38.0,1368.6 L41.0,1371.3 L44.0,1373.9 L47.0,1376.4 L50.0,1378.8 L53.0,1381.1 L56.0,1383.3 L59.0,1385.4 L62.0,1387.3 L65.0,1389.1 L68.0,1390.8 L71.0,1392.3 L74.0,1393.7 L77.0,1394.9 L80.0,1396.0 L83.0,1396.9 L86.0,1397.7 L89.0,1398.2 L92.0,1398.7 L95.0,1398.9 L98.0,1399.0 L101.0,1398.9 L104.0,1398.7 L107.0,1398.2 L110.0,1397.7 L113.0,1396.9 L116.0,1396.0 L119.0,1394.9 L122.0,1393.7 L125.0,1392.3 L128.0,1390.8 L131.0,1389.1 L134.0,1387.3 L137.0,1385.4 L140.0,1383.3 L143.0,1381.1 L146.0,1378.8 L149.0,1376.4 L152.0,1373.9 L155.0,1371.3 L158.0,1368.6 L161.0,1365.8 L164.0,1363.0 L167.0,1360.1 L170.0,1357.2 L173.0,1354.2 L176.0,1351.2 L179.0,1348.1 L182.0,1345.0 L185.0,1342.0 L188.0,1338.9 L191.0,1335.9 L194.0,1332.8 L197.0,1329.8 L200.0,1327.1 L203.0,1324.4 L206.0,1321.9 L209.0,1319.6 L212.0,1317.3 L215.0,1315.3 L218.0,1313.3 L221.0,1311.6 L224.0,1309.9 L227.0,1308.5 L230.0,1307.2 L233.0,1306.0 L236.0,1305.0 L239.0,1304.2 L242.0,1303.5 L245.0,1303.0 L248.0,1302.7 L251.0,1302.5 L254.0,1302.4 L257.0,1302.5 L260.0,1302.7 L263.0,1303.1 L266.0,1303.1 L269.0,1303.0 L272.0,1303.0 L275.0,1303.2 L278.0,1303.4 L281.0,1303.8 L284.0,1304.3 L287.0,1304.9 L290.0,1305.6 L293.0,1306.5 L296.0,1307.4 L299.0,1308.5 L302.0,1309.6 L305.0,1310.9 L308.0,1312.3 L311.0,1313.7 L314.0,1315.2 L317.0,1316.9 L320.0,1318.6 L323.0,1320.3 L326.0,1322.2 L329.0,1324.1 L332.0,1326.0 L335.0,1328.0 L338.0,1330.1 L341.0,1332.2 L344.0,1334.3 L347.0,1336.5 L350.0,1338.6 L353.0,1340.8 L356.0,1343.0 L359.0,1345.2 L362.0,1347.4 L365.0,1349.5 L368.0,1351.7 L371.0,1353.8 L374.0,1355.9 L377.0,1358.0 L380.0,1360.0 L383.0,1361.9 L386.0,1363.8 L389.0,1365.7 L392.0,1367.4 L395.0,1369.1 L398.0,1370.8 L401.0,1372.3 L404.0,1373.7 L407.0,1375.1 L410.0,1376.4 L413.0,1377.5 L416.0,1378.6 L419.0,1379.5 L422.0,1380.4 L425.0,1381.1 L428.0,1381.7 L431.0,1382.2 L434.0,1382.6 L437.0,1382.8 L440.0,1383.0 L443.0,1383.0 L446.0,1382.9 L449.0,1382.7 L452.0,1382.3 L455.0,1381.9 L458.0,1381.3 L461.0,1380.6 L464.0,1379.8 L467.0,1378.9 L470.0,1377.9 L473.0,1376.8 L476.0,1375.5 L479.0,1374.2 L482.0,1372.8 L485.0,1371.3 L488.0,1369.7 L491.0,1368.0 L494.0,1366.3 L497.0,1364.5 L500.0,1362.6 L503.0,1360.6 L506.0,1358.6 L509.0,1356.6 L512.0,1354.5 L515.0,1352.4 L518.0,1350.3 L521.0,1348.1 L524.0,1345.9 L527.0,1343.7 L530.0,1341.4 L533.0,1339.0 L536.0,1336.7 L539.0,1334.4 L542.0,1332.1 L545.0,1329.9 L548.0,1327.8 L551.0,1325.8 L554.0,1323.8 L557.0,1321.9 L560.0,1320.1 L563.0,1318.4 L566.0,1316.7 L569.0,1315.2 L572.0,1313.7 L575.0,1312.4 L578.0,1311.1 L581.0,1310.0 L584.0,1309.0 L587.0,1308.0 L590.0,1307.2 L593.0,1306.5 L596.0,1305.8 L599.0,1305.3 L602.0,1304.8 L605.0,1304.5 L608.0,1304.2 L611.0,1304.1 L614.0,1304.0 L617.0,1304.1 L620.0,1304.2 L623.0,1304.5 L626.0,1304.8 L629.0,1305.3 L632.0,1305.8 L635.0,1306.5 L638.0,1307.2 L641.0,1308.1 L644.0,1309.0 L647.0,1310.0 L650.0,1311.1 L653.0,1312.3 L656.0,1313.5 L659.0,1314.9 L662.0,1316.3 L665.0,1317.7 L668.0,1319.2 L671.0,1320.8 L674.0,1322.5 L677.0,1324.1 L680.0,1325.9 L683.0,1327.6 L686.0,1329.4 L689.0,1331.2 L692.0,1333.0 L695.0,1334.9 L698.0,1336.8 L701.0,1338.6 L704.0,1340.5 L707.0,1342.3 L710.0,1344.2 L713.0,1346.0 L716.0,1347.8 L719.0,1349.6 L722.0,1351.3 L725.0,1353.0 L728.0,1354.6 L731.0,1356.2 L734.0,1357.8 L737.0,1359.3 L740.0,1360.7 L743.0,1362.0 L746.0,1363.3 L749.0,1364.5 L752.0,1365.7 L755.0,1366.7 L758.0,1367.6 L761.0,1368.5 L764.0,1369.3 L767.0,1370.0 L770.0,1370.6 L773.0,1371.0 L776.0,1371.4 L779.0,1371.7 L782.0,1371.9 L785.0,1372.0 L788.0,1372.0 L791.0,1371.9 L794.0,1371.6 L797.0,1371.3 L800.0,1370.9 L803.0,1370.4 L806.0,1369.8 L809.0,1369.0 L812.0,1368.2 L815.0,1367.3 L818.0,1366.4 L821.0,1365.3 L824.0,1364.1 L827.0,1362.9 L830.0,1361.6 L833.0,1360.2 L836.0,1358.8 L839.0,1357.3 L842.0,1355.7 L845.0,1354.1 L848.0,1352.4 L851.0,1350.7 L854.0,1349.0 L857.0,1347.2 L860.0,1345.3 L863.0,1343.4 L866.0,1341.6 L869.0,1339.8 L872.0,1338.0 L875.0,1336.3 L878.0,1334.6 L881.0,1333.0 L884.0,1331.5 L887.0,1330.0 L890.0,1328.6 L893.0,1327.3 L896.0,1326.1 L899.0,1324.9 L902.0,1323.8 L905.0,1322.8 L908.0,1321.9 L911.0,1321.1 L914.0,1320.3 L917.0,1319.7 L920.0,1319.1 L923.0,1318.6 L926.0,1318.0 L929.0,1317.3 L932.0,1316.7 L935.0,1316.1 L938.0,1315.6 L941.0,1315.1 L944.0,1314.8 L947.0,1314.5 L950.0,1314.3 L953.0,1314.1 L956.0,1314.0 L959.0,1314.0 L962.0,1314.1 L965.0,1314.2 L968.0,1314.4 L971.0,1314.7 L974.0,1315.0 L977.0,1315.4 L980.0,1315.9 L983.0,1316.5 L986.0,1317.1 L989.0,1317.7 L992.0,1318.5 L995.0,1319.3 L998.0,1320.1 L1001.0,1321.0 L1004.0,1322.0 L1007.0,1323.0 L1010.0,1324.0 L1013.0,1325.1 L1016.0,1326.3 L1019.0,1327.4 L1022.0,1328.6 L1025.0,1329.8 L1028.0,1331.1 L1031.0,1332.4 L1034.0,1333.6 L1037.0,1334.9 L1040.0,1336.2 L1043.0,1337.6 L1046.0,1338.9 L1049.0,1340.2 L1052.0,1341.5 L1055.0,1342.8 L1058.0,1344.1 L1061.0,1345.3 L1064.0,1346.6 L1067.0,1347.8 L1070.0,1349.0 L1073.0,1350.1 L1076.0,1351.2 L1079.0,1352.3 L1082.0,1353.4 L1085.0,1354.3 L1088.0,1355.3 L1091.0,1356.2 L1094.0,1357.0 L1097.0,1357.8 L1100.0,1358.5 L1103.0,1359.1 L1106.0,1359.7 L1109.0,1360.3 L1112.0,1360.7 L1115.0,1361.1 L1118.0,1361.4 L1121.0,1361.7 L1124.0,1361.9 L1127.0,1362.0 L1130.0,1362.0 L1133.0,1362.0 L1136.0,1361.9 L1139.0,1361.7 L1142.0,1361.4 L1145.0,1361.1 L1148.0,1360.7 L1151.0,1360.3 L1154.0,1359.7 L1157.0,1359.1 L1160.0,1358.5 L1163.0,1357.8 L1166.0,1357.0 L1169.0,1356.2 L1172.0,1355.3 L1175.0,1354.3 L1178.0,1353.4 L1181.0,1352.3 L1184.0,1351.2 L1187.0,1350.1 L1190.0,1349.0 L1193.0,1347.8 L1196.0,1346.6 L1199.0,1345.3 L1202.0,1344.1 L1205.0,1342.8 L1208.0,1341.5 L1211.0,1340.2 L1214.0,1338.9" fill="none" stroke="#22ee22" stroke-width="2.9" stroke-dasharray="8 5"/>
<path d="M8.0,1290.0 L11.0,1291.1 L14.0,1292.3 L17.0,1293.7 L20.0,1295.2 L23.0,1296.9 L26.0,1298.7 L29.0,1300.6 L32.0,1302.7 L35.0,1304.9 L38.0,1307.2 L41.0,1309.6 L44.0,1312.1 L47.0,1314.7 L50.0,1317.4 L53.0,1320.2 L56.0,1323.0 L59.0,1325.9 L62.0,1328.8 L65.0,1331.8 L68.0,1334.8 L71.0,1337.9 L74.0,1341.0 L77.0,1344.0 L80.0,1347.1 L83.0,1350.1 L86.0,1353.2 L89.0,1356.2 L92.0,1359.1 L95.0,1362.0 L98.0,1364.9 L101.0,1367.7 L104.0,1370.4 L107.0,1373.0 L110.0,1375.6 L113.0,1378.0 L116.0,1380.4 L119.0,1382.6 L122.0,1384.7 L125.0,1386.7 L128.0,1388.5 L131.0,1390.3 L134.0,1391.8 L137.0,1393.3 L140.0,1394.5 L143.0,1395.7 L146.0,1396.6 L149.0,1397.4 L152.0,1398.1 L155.0,1398.5 L158.0,1398.9 L161.0,1399.0 L164.0,1399.0 L167.0,1398.8 L170.0,1398.4 L173.0,1397.9 L176.0,1397.2 L179.0,1396.3 L182.0,1395.3 L185.0,1394.1 L188.0,1392.8 L191.0,1391.3 L194.0,1389.7 L197.0,1387.9 L200.0,1385.5 L203.0,1383.0 L206.0,1380.4 L209.0,1377.7 L212.0,1375.0 L215.0,1372.3 L218.0,1369.6 L221.0,1366.8 L224.0,1364.0 L227.0,1361.3 L230.0,1358.5 L233.0,1355.8 L236.0,1353.2 L239.0,1350.5 L242.0,1347.9 L245.0,1345.4 L248.0,1343.0 L251.0,1340.6 L254.0,1338.4 L257.0,1336.2 L260.0,1334.1 L263.0,1332.1 L266.0,1330.1 L269.0,1328.0 L272.0,1326.0 L275.0,1324.1 L278.0,1322.2 L281.0,1320.3 L284.0,1318.6 L287.0,1316.9 L290.0,1315.2 L293.0,1313.7 L296.0,1312.3 L299.0,1310.9 L302.0,1309.6 L305.0,1308.5 L308.0,1307.4 L311.0,1306.5 L314.0,1305.6 L317.0,1304.9 L320.0,1304.3 L323.0,1303.8 L326.0,1303.4 L329.0,1303.2 L332.0,1303.0 L335.0,1303.0 L338.0,1303.1 L341.0,1303.3 L344.0,1303.7 L347.0,1304.1 L350.0,1304.7 L353.0,1305.4 L356.0,1306.2 L359.0,1307.1 L362.0,1308.1 L365.0,1309.2 L368.0,1310.5 L371.0,1311.8 L374.0,1313.2 L377.0,1314.7 L380.0,1316.3 L383.0,1318.0 L386.0,1319.7 L389.0,1321.5 L392.0,1323.4 L395.0,1325.4 L398.0,1327.4 L401.0,1329.4 L404.0,1331.5 L407.0,1333.6 L410.0,1335.7 L413.0,1337.9 L416.0,1340.1 L419.0,1342.3 L422.0,1344.5 L425.0,1346.6 L428.0,1348.8 L431.0,1351.0 L434.0,1353.1 L437.0,1355.2 L440.0,1357.3 L443.0,1359.3 L446.0,1361.3 L449.0,1363.2 L452.0,1365.1 L455.0,1366.9 L458.0,1368.6 L461.0,1370.2 L464.0,1371.8 L467.0,1373.3 L470.0,1374.7 L473.0,1376.0 L476.0,1377.1 L479.0,1378.2 L482.0,1379.2 L485.0,1380.1 L488.0,1380.9 L491.0,1381.5 L494.0,1382.0 L497.0,1382.5 L500.0,1382.8 L503.0,1382.9 L506.0,1383.0 L509.0,1382.9 L512.0,1382.8 L515.0,1382.5 L518.0,1382.0 L521.0,1381.5 L524.0,1380.9 L527.0,1380.1 L530.0,1378.9 L533.0,1377.4 L536.0,1375.9 L539.0,1374.2 L542.0,1372.5 L545.0,1370.7 L548.0,1368.9 L551.0,1367.0 L554.0,1365.0 L557.0,1363.0 L560.0,1360.9 L563.0,1358.8 L566.0,1356.7 L569.0,1354.5 L572.0,1352.4 L575.0,1350.2 L578.0,1348.0 L581.0,1345.9 L584.0,1343.7 L587.0,1341.5 L590.0,1339.4 L593.0,1337.4 L596.0,1335.5 L599.0,1333.7 L602.0,1331.8 L605.0,1330.0 L608.0,1328.2 L611.0,1326.4 L614.0,1324.7 L617.0,1323.0 L620.0,1321.4 L623.0,1319.8 L626.0,1318.2 L629.0,1316.7 L632.0,1315.3 L635.0,1314.0 L638.0,1312.7 L641.0,1311.5 L644.0,1310.3 L647.0,1309.3 L650.0,1308.4 L653.0,1307.5 L656.0,1306.7 L659.0,1306.0 L662.0,1305.4 L665.0,1305.0 L668.0,1304.6 L671.0,1304.3 L674.0,1304.1 L677.0,1304.0 L680.0,1304.0 L683.0,1304.1 L686.0,1304.4 L689.0,1304.7 L692.0,1305.1 L695.0,1305.6 L698.0,1306.2 L701.0,1307.0 L704.0,1307.8 L707.0,1308.7 L710.0,1309.6 L713.0,1310.7 L716.0,1311.9 L719.0,1313.1 L722.0,1314.4 L725.0,1315.8 L728.0,1317.2 L731.0,1318.7 L734.0,1320.3 L737.0,1321.9 L740.0,1323.6 L743.0,1325.3 L746.0,1327.0 L749.0,1328.8 L752.0,1330.6 L755.0,1332.4 L758.0,1334.3 L761.0,1336.1 L764.0,1338.0 L767.0,1339.9 L770.0,1341.7 L773.0,1343.6 L776.0,1345.4 L779.0,1347.2 L782.0,1349.0 L785.0,1350.7 L788.0,1352.4 L791.0,1354.1 L794.0,1355.7 L797.0,1357.3 L800.0,1358.8 L803.0,1360.2 L806.0,1361.6 L809.0,1362.9 L812.0,1364.1 L815.0,1365.3 L818.0,1366.4 L821.0,1367.3 L824.0,1368.2 L827.0,1369.0 L830.0,1369.8 L833.0,1370.4 L836.0,1370.9 L839.0,1371.3 L842.0,1371.6 L845.0,1371.9 L848.0,1372.0 L851.0,1372.0 L854.0,1371.9 L857.0,1371.6 L860.0,1370.9 L863.0,1370.1 L866.0,1369.2 L869.0,1368.2 L872.0,1367.2 L875.0,1366.1 L878.0,1364.9 L881.0,1363.6 L884.0,1362.3 L887.0,1361.0 L890.0,1359.6 L893.0,1358.2 L896.0,1356.8 L899.0,1355.3 L902.0,1353.9 L905.0,1352.4 L908.0,1350.9 L911.0,1349.4 L914.0,1348.0 L917.0,1346.5 L920.0,1345.1 L923.0,1343.7 L926.0,1342.4 L929.0,1341.1 L932.0,1339.8 L935.0,1338.4 L938.0,1337.1 L941.0,1335.8 L944.0,1334.5 L947.0,1333.2 L950.0,1331.9 L953.0,1330.7 L956.0,1329.4 L959.0,1328.2 L962.0,1327.0 L965.0,1325.9 L968.0,1324.8 L971.0,1323.7 L974.0,1322.6 L977.0,1321.7 L980.0,1320.7 L983.0,1319.8 L986.0,1319.0 L989.0,1318.2 L992.0,1317.5 L995.0,1316.9 L998.0,1316.3 L1001.0,1315.7 L1004.0,1315.3 L1007.0,1314.9 L1010.0,1314.6 L1013.0,1314.3 L1016.0,1314.1 L1019.0,1314.0 L1022.0,1314.0 L1025.0,1314.0 L1028.0,1314.1 L1031.0,1314.3 L1034.0,1314.6 L1037.0,1314.9 L1040.0,1315.3 L1043.0,1315.7 L1046.0,1316.3 L1049.0,1316.9 L1052.0,1317.5 L1055.0,1318.2 L1058.0,1319.0 L1061.0,1319.8 L1064.0,1320.7 L1067.0,1321.7 L1070.0,1322.6 L1073.0,1323.7 L1076.0,1324.8 L1079.0,1325.9 L1082.0,1327.0 L1085.0,1328.2 L1088.0,1329.4 L1091.0,1330.7 L1094.0,1331.9 L1097.0,1333.2 L1100.0,1334.5 L1103.0,1335.8 L1106.0,1337.1 L1109.0,1338.4 L1112.0,1339.8 L1115.0,1341.1 L1118.0,1342.4 L1121.0,1343.6 L1124.0,1344.9 L1127.0,1346.2 L1130.0,1347.4 L1133.0,1348.6 L1136.0,1349.7 L1139.0,1350.9 L1142.0,1352.0 L1145.0,1353.0 L1148.0,1354.0 L1151.0,1355.0 L1154.0,1355.9 L1157.0,1356.7 L1160.0,1357.5 L1163.0,1358.3 L1166.0,1358.9 L1169.0,1359.5 L1172.0,1360.1 L1175.0,1360.6 L1178.0,1361.0 L1181.0,1361.3 L1184.0,1361.6 L1187.0,1361.8 L1190.0,1361.9 L1193.0,1362.0 L1196.0,1362.0 L1199.0,1361.9 L1202.0,1361.7 L1205.0,1361.5 L1208.0,1361.2 L1211.0,1360.9 L1214.0,1360.4" fill="none" stroke="#eef0f4" stroke-opacity="0.6" stroke-width="7.9"/>
<path d="M8.0,1290.0 L11.0,1291.1 L14.0,1292.3 L17.0,1293.7 L20.0,1295.2 L23.0,1296.9 L26.0,1298.7 L29.0,1300.6 L32.0,1302.7 L35.0,1304.9 L38.0,1307.2 L41.0,1309.6 L44.0,1312.1 L47.0,1314.7 L50.0,1317.4 L53.0,1320.2 L56.0,1323.0 L59.0,1325.9 L62.0,1328.8 L65.0,1331.8 L68.0,1334.8 L71.0,1337.9 L74.0,1341.0 L77.0,1344.0 L80.0,1347.1 L83.0,1350.1 L86.0,1353.2 L89.0,1356.2 L92.0,1359.1 L95.0,1362.0 L98.0,1364.9 L101.0,1367.7 L104.0,1370.4 L107.0,1373.0 L110.0,1375.6 L113.0,1378.0 L116.0,1380.4 L119.0,1382.6 L122.0,1384.7 L125.0,1386.7 L128.0,1388.5 L131.0,1390.3 L134.0,1391.8 L137.0,1393.3 L140.0,1394.5 L143.0,1395.7 L146.0,1396.6 L149.0,1397.4 L152.0,1398.1 L155.0,1398.5 L158.0,1398.9 L161.0,1399.0 L164.0,1399.0 L167.0,1398.8 L170.0,1398.4 L173.0,1397.9 L176.0,1397.2 L179.0,1396.3 L182.0,1395.3 L185.0,1394.1 L188.0,1392.8 L191.0,1391.3 L194.0,1389.7 L197.0,1387.9 L200.0,1385.5 L203.0,1383.0 L206.0,1380.4 L209.0,1377.7 L212.0,1375.0 L215.0,1372.3 L218.0,1369.6 L221.0,1366.8 L224.0,1364.0 L227.0,1361.3 L230.0,1358.5 L233.0,1355.8 L236.0,1353.2 L239.0,1350.5 L242.0,1347.9 L245.0,1345.4 L248.0,1343.0 L251.0,1340.6 L254.0,1338.4 L257.0,1336.2 L260.0,1334.1 L263.0,1332.1 L266.0,1330.1 L269.0,1328.0 L272.0,1326.0 L275.0,1324.1 L278.0,1322.2 L281.0,1320.3 L284.0,1318.6 L287.0,1316.9 L290.0,1315.2 L293.0,1313.7 L296.0,1312.3 L299.0,1310.9 L302.0,1309.6 L305.0,1308.5 L308.0,1307.4 L311.0,1306.5 L314.0,1305.6 L317.0,1304.9 L320.0,1304.3 L323.0,1303.8 L326.0,1303.4 L329.0,1303.2 L332.0,1303.0 L335.0,1303.0 L338.0,1303.1 L341.0,1303.3 L344.0,1303.7 L347.0,1304.1 L350.0,1304.7 L353.0,1305.4 L356.0,1306.2 L359.0,1307.1 L362.0,1308.1 L365.0,1309.2 L368.0,1310.5 L371.0,1311.8 L374.0,1313.2 L377.0,1314.7 L380.0,1316.3 L383.0,1318.0 L386.0,1319.7 L389.0,1321.5 L392.0,1323.4 L395.0,1325.4 L398.0,1327.4 L401.0,1329.4 L404.0,1331.5 L407.0,1333.6 L410.0,1335.7 L413.0,1337.9 L416.0,1340.1 L419.0,1342.3 L422.0,1344.5 L425.0,1346.6 L428.0,1348.8 L431.0,1351.0 L434.0,1353.1 L437.0,1355.2 L440.0,1357.3 L443.0,1359.3 L446.0,1361.3 L449.0,1363.2 L452.0,1365.1 L455.0,1366.9 L458.0,1368.6 L461.0,1370.2 L464.0,1371.8 L467.0,1373.3 L470.0,1374.7 L473.0,1376.0 L476.0,1377.1 L479.0,1378.2 L482.0,1379.2 L485.0,1380.1 L488.0,1380.9 L491.0,1381.5 L494.0,1382.0 L497.0,1382.5 L500.0,1382.8 L503.0,1382.9 L506.0,1383.0 L509.0,1382.9 L512.0,1382.8 L515.0,1382.5 L518.0,1382.0 L521.0,1381.5 L524.0,1380.9 L527.0,1380.1 L530.0,1378.9 L533.0,1377.4 L536.0,1375.9 L539.0,1374.2 L542.0,1372.5 L545.0,1370.7 L548.0,1368.9 L551.0,1367.0 L554.0,1365.0 L557.0,1363.0 L560.0,1360.9 L563.0,1358.8 L566.0,1356.7 L569.0,1354.5 L572.0,1352.4 L575.0,1350.2 L578.0,1348.0 L581.0,1345.9 L584.0,1343.7 L587.0,1341.5 L590.0,1339.4 L593.0,1337.4 L596.0,1335.5 L599.0,1333.7 L602.0,1331.8 L605.0,1330.0 L608.0,1328.2 L611.0,1326.4 L614.0,1324.7 L617.0,1323.0 L620.0,1321.4 L623.0,1319.8 L626.0,1318.2 L629.0,1316.7 L632.0,1315.3 L635.0,1314.0 L638.0,1312.7 L641.0,1311.5 L644.0,1310.3 L647.0,1309.3 L650.0,1308.4 L653.0,1307.5 L656.0,1306.7 L659.0,1306.0 L662.0,1305.4 L665.0,1305.0 L668.0,1304.6 L671.0,1304.3 L674.0,1304.1 L677.0,1304.0 L680.0,1304.0 L683.0,1304.1 L686.0,1304.4 L689.0,1304.7 L692.0,1305.1 L695.0,1305.6 L698.0,1306.2 L701.0,1307.0 L704.0,1307.8 L707.0,1308.7 L710.0,1309.6 L713.0,1310.7 L716.0,1311.9 L719.0,1313.1 L722.0,1314.4 L725.0,1315.8 L728.0,1317.2 L731.0,1318.7 L734.0,1320.3 L737.0,1321.9 L740.0,1323.6 L743.0,1325.3 L746.0,1327.0 L749.0,1328.8 L752.0,1330.6 L755.0,1332.4 L758.0,1334.3 L761.0,1336.1 L764.0,1338.0 L767.0,1339.9 L770.0,1341.7 L773.0,1343.6 L776.0,1345.4 L779.0,1347.2 L782.0,1349.0 L785.0,1350.7 L788.0,1352.4 L791.0,1354.1 L794.0,1355.7 L797.0,1357.3 L800.0,1358.8 L803.0,1360.2 L806.0,1361.6 L809.0,1362.9 L812.0,1364.1 L815.0,1365.3 L818.0,1366.4 L821.0,1367.3 L824.0,1368.2 L827.0,1369.0 L830.0,1369.8 L833.0,1370.4 L836.0,1370.9 L839.0,1371.3 L842.0,1371.6 L845.0,1371.9 L848.0,1372.0 L851.0,1372.0 L854.0,1371.9 L857.0,1371.6 L860.0,1370.9 L863.0,1370.1 L866.0,1369.2 L869.0,1368.2 L872.0,1367.2 L875.0,1366.1 L878.0,1364.9 L881.0,1363.6 L884.0,1362.3 L887.0,1361.0 L890.0,1359.6 L893.0,1358.2 L896.0,1356.8 L899.0,1355.3 L902.0,1353.9 L905.0,1352.4 L908.0,1350.9 L911.0,1349.4 L914.0,1348.0 L917.0,1346.5 L920.0,1345.1 L923.0,1343.7 L926.0,1342.4 L929.0,1341.1 L932.0,1339.8 L935.0,1338.4 L938.0,1337.1 L941.0,1335.8 L944.0,1334.5 L947.0,1333.2 L950.0,1331.9 L953.0,1330.7 L956.0,1329.4 L959.0,1328.2 L962.0,1327.0 L965.0,1325.9 L968.0,1324.8 L971.0,1323.7 L974.0,1322.6 L977.0,1321.7 L980.0,1320.7 L983.0,1319.8 L986.0,1319.0 L989.0,1318.2 L992.0,1317.5 L995.0,1316.9 L998.0,1316.3 L1001.0,1315.7 L1004.0,1315.3 L1007.0,1314.9 L1010.0,1314.6 L1013.0,1314.3 L1016.0,1314.1 L1019.0,1314.0 L1022.0,1314.0 L1025.0,1314.0 L1028.0,1314.1 L1031.0,1314.3 L1034.0,1314.6 L1037.0,1314.9 L1040.0,1315.3 L1043.0,1315.7 L1046.0,1316.3 L1049.0,1316.9 L1052.0,1317.5 L1055.0,1318.2 L1058.0,1319.0 L1061.0,1319.8 L1064.0,1320.7 L1067.0,1321.7 L1070.0,1322.6 L1073.0,1323.7 L1076.0,1324.8 L1079.0,1325.9 L1082.0,1327.0 L1085.0,1328.2 L1088.0,1329.4 L1091.0,1330.7 L1094.0,1331.9 L1097.0,1333.2 L1100.0,1334.5 L1103.0,1335.8 L1106.0,1337.1 L1109.0,1338.4 L1112.0,1339.8 L1115.0,1341.1 L1118.0,1342.4 L1121.0,1343.6 L1124.0,1344.9 L1127.0,1346.2 L1130.0,1347.4 L1133.0,1348.6 L1136.0,1349.7 L1139.0,1350.9 L1142.0,1352.0 L1145.0,1353.0 L1148.0,1354.0 L1151.0,1355.0 L1154.0,1355.9 L1157.0,1356.7 L1160.0,1357.5 L1163.0,1358.3 L1166.0,1358.9 L1169.0,1359.5 L1172.0,1360.1 L1175.0,1360.6 L1178.0,1361.0 L1181.0,1361.3 L1184.0,1361.6 L1187.0,1361.8 L1190.0,1361.9 L1193.0,1362.0 L1196.0,1362.0 L1199.0,1361.9 L1202.0,1361.7 L1205.0,1361.5 L1208.0,1361.2 L1211.0,1360.9 L1214.0,1360.4" fill="none" stroke="#22ee22" stroke-width="2.9" stroke-dasharray="8 5"/>
<path d="M8.0,1333.8 L11.0,1330.8 L14.0,1327.8 L17.0,1324.9 L20.0,1322.0 L23.0,1319.2 L26.0,1316.5 L29.0,1313.8 L32.0,1311.3 L35.0,1308.8 L38.0,1306.4 L41.0,1304.1 L44.0,1302.0 L47.0,1300.0 L50.0,1298.1 L53.0,1296.3 L56.0,1294.7 L59.0,1293.2 L62.0,1291.9 L65.0,1290.7 L68.0,1289.7 L71.0,1288.8 L74.0,1288.1 L77.0,1287.6 L80.0,1287.2 L83.0,1287.0 L86.0,1287.0 L89.0,1287.1 L92.0,1287.5 L95.0,1287.9 L98.0,1288.6 L101.0,1289.4 L104.0,1290.3 L107.0,1291.5 L110.0,1292.7 L113.0,1294.2 L116.0,1295.7 L119.0,1297.5 L122.0,1299.3 L125.0,1301.3 L128.0,1303.4 L131.0,1305.6 L134.0,1308.0 L137.0,1310.4 L140.0,1313.0 L143.0,1315.6 L146.0,1318.3 L149.0,1321.1 L152.0,1324.0 L155.0,1326.9 L158.0,1329.8 L161.0,1332.8 L164.0,1335.9 L167.0,1338.9 L170.0,1342.0 L173.0,1345.0 L176.0,1348.1 L179.0,1351.2 L182.0,1354.2 L185.0,1357.2 L188.0,1360.1 L191.0,1363.0 L194.0,1365.8 L197.0,1368.6 L200.0,1370.9 L203.0,1373.1 L206.0,1375.1 L209.0,1377.0 L212.0,1378.7 L215.0,1380.2 L218.0,1381.6 L221.0,1382.8 L224.0,1383.8 L227.0,1384.7 L230.0,1385.4 L233.0,1385.9 L236.0,1386.3 L239.0,1386.5 L242.0,1386.6 L245.0,1386.5 L248.0,1386.2 L251.0,1385.8 L254.0,1385.3 L257.0,1384.7 L260.0,1383.9 L263.0,1383.0 L266.0,1382.5 L269.0,1382.0 L272.0,1381.5 L275.0,1380.9 L278.0,1380.1 L281.0,1379.2 L284.0,1378.2 L287.0,1377.1 L290.0,1376.0 L293.0,1374.7 L296.0,1373.3 L299.0,1371.8 L302.0,1370.2 L305.0,1368.6 L308.0,1366.9 L311.0,1365.1 L314.0,1363.2 L317.0,1361.3 L320.0,1359.3 L323.0,1357.3 L326.0,1355.2 L329.0,1353.1 L332.0,1351.0 L335.0,1348.8 L338.0,1346.6 L341.0,1344.5 L344.0,1342.3 L347.0,1340.1 L350.0,1337.9 L353.0,1335.7 L356.0,1333.6 L359.0,1331.5 L362.0,1329.4 L365.0,1327.4 L368.0,1325.4 L371.0,1323.4 L374.0,1321.5 L377.0,1319.7 L380.0,1318.0 L383.0,1316.3 L386.0,1314.7 L389.0,1313.2 L392.0,1311.8 L395.0,1310.5 L398.0,1309.2 L401.0,1308.1 L404.0,1307.1 L407.0,1306.2 L410.0,1305.4 L413.0,1304.7 L416.0,1304.1 L419.0,1303.7 L422.0,1303.3 L425.0,1303.1 L428.0,1303.0 L431.0,1303.0 L434.0,1303.2 L437.0,1303.4 L440.0,1303.8 L443.0,1304.3 L446.0,1304.9 L449.0,1305.6 L452.0,1306.5 L455.0,1307.4 L458.0,1308.5 L461.0,1309.6 L464.0,1310.9 L467.0,1312.3 L470.0,1313.7 L473.0,1315.2 L476.0,1316.9 L479.0,1318.6 L482.0,1320.3 L485.0,1322.2 L488.0,1324.1 L491.0,1326.0 L494.0,1328.0 L497.0,1330.1 L500.0,1332.2 L503.0,1334.3 L506.0,1336.5 L509.0,1338.6 L512.0,1340.8 L515.0,1343.0 L518.0,1345.2 L521.0,1347.4 L524.0,1349.5 L527.0,1351.7 L530.0,1353.6 L533.0,1355.4 L536.0,1357.1 L539.0,1358.7 L542.0,1360.2 L545.0,1361.7 L548.0,1363.1 L551.0,1364.3 L554.0,1365.5 L557.0,1366.6 L560.0,1367.6 L563.0,1368.5 L566.0,1369.3 L569.0,1370.0 L572.0,1370.5 L575.0,1371.0 L578.0,1371.3 L581.0,1371.6 L584.0,1371.7 L587.0,1371.7 L590.0,1371.7 L593.0,1371.6 L596.0,1371.9 L599.0,1372.0 L602.0,1372.0 L605.0,1371.9 L608.0,1371.7 L611.0,1371.4 L614.0,1371.0 L617.0,1370.6 L620.0,1370.0 L623.0,1369.3 L626.0,1368.5 L629.0,1367.6 L632.0,1366.7 L635.0,1365.7 L638.0,1364.5 L641.0,1363.3 L644.0,1362.0 L647.0,1360.7 L650.0,1359.3 L653.0,1357.8 L656.0,1356.2 L659.0,1354.6 L662.0,1353.0 L665.0,1351.3 L668.0,1349.6 L671.0,1347.8 L674.0,1346.0 L677.0,1344.2 L680.0,1342.3 L683.0,1340.5 L686.0,1338.6 L689.0,1336.8 L692.0,1334.9 L695.0,1333.0 L698.0,1331.2 L701.0,1329.4 L704.0,1327.6 L707.0,1325.9 L710.0,1324.1 L713.0,1322.5 L716.0,1320.8 L719.0,1319.2 L722.0,1317.7 L725.0,1316.3 L728.0,1314.9 L731.0,1313.5 L734.0,1312.3 L737.0,1311.1 L740.0,1310.0 L743.0,1309.0 L746.0,1308.1 L749.0,1307.2 L752.0,1306.5 L755.0,1305.8 L758.0,1305.3 L761.0,1304.8 L764.0,1304.5 L767.0,1304.2 L770.0,1304.1 L773.0,1304.0 L776.0,1304.1 L779.0,1304.2 L782.0,1304.5 L785.0,1304.8 L788.0,1305.3 L791.0,1305.8 L794.0,1306.5 L797.0,1307.2 L800.0,1308.1 L803.0,1309.0 L806.0,1310.0 L809.0,1311.1 L812.0,1312.3 L815.0,1313.5 L818.0,1314.9 L821.0,1316.3 L824.0,1317.7 L827.0,1319.2 L830.0,1320.8 L833.0,1322.5 L836.0,1324.1 L839.0,1325.9 L842.0,1327.6 L845.0,1329.4 L848.0,1331.2 L851.0,1333.0 L854.0,1334.9 L857.0,1336.8 L860.0,1338.6 L863.0,1340.4 L866.0,1342.2 L869.0,1343.8 L872.0,1345.5 L875.0,1347.0 L878.0,1348.5 L881.0,1349.9 L884.0,1351.2 L887.0,1352.4 L890.0,1353.6 L893.0,1354.6 L896.0,1355.6 L899.0,1356.5 L902.0,1357.3 L905.0,1358.0 L908.0,1358.6 L911.0,1359.1 L914.0,1359.5 L917.0,1359.8 L920.0,1360.1 L923.0,1360.2 L926.0,1360.6 L929.0,1361.0 L932.0,1361.3 L935.0,1361.6 L938.0,1361.8 L941.0,1361.9 L944.0,1362.0 L947.0,1362.0 L950.0,1361.9 L953.0,1361.7 L956.0,1361.5 L959.0,1361.2 L962.0,1360.9 L965.0,1360.4 L968.0,1359.9 L971.0,1359.3 L974.0,1358.7 L977.0,1358.0 L980.0,1357.3 L983.0,1356.4 L986.0,1355.6 L989.0,1354.7 L992.0,1353.7 L995.0,1352.7 L998.0,1351.6 L1001.0,1350.5 L1004.0,1349.4 L1007.0,1348.2 L1010.0,1347.0 L1013.0,1345.7 L1016.0,1344.5 L1019.0,1343.2 L1022.0,1341.9 L1025.0,1340.6 L1028.0,1339.3 L1031.0,1338.0 L1034.0,1336.7 L1037.0,1335.4 L1040.0,1334.1 L1043.0,1332.8 L1046.0,1331.5 L1049.0,1330.3 L1052.0,1329.0 L1055.0,1327.8 L1058.0,1326.6 L1061.0,1325.5 L1064.0,1324.4 L1067.0,1323.3 L1070.0,1322.3 L1073.0,1321.3 L1076.0,1320.4 L1079.0,1319.6 L1082.0,1318.7 L1085.0,1318.0 L1088.0,1317.3 L1091.0,1316.7 L1094.0,1316.1 L1097.0,1315.6 L1100.0,1315.1 L1103.0,1314.8 L1106.0,1314.5 L1109.0,1314.3 L1112.0,1314.1 L1115.0,1314.0 L1118.0,1314.0 L1121.0,1314.1 L1124.0,1314.2 L1127.0,1314.4 L1130.0,1314.7 L1133.0,1315.0 L1136.0,1315.4 L1139.0,1315.9 L1142.0,1316.5 L1145.0,1317.1 L1148.0,1317.7 L1151.0,1318.5 L1154.0,1319.3 L1157.0,1320.1 L1160.0,1321.0 L1163.0,1322.0 L1166.0,1323.0 L1169.0,1324.0 L1172.0,1325.1 L1175.0,1326.3 L1178.0,1327.4 L1181.0,1328.6 L1184.0,1329.8 L1187.0,1331.1 L1190.0,1332.4 L1193.0,1333.6 L1196.0,1334.9 L1199.0,1336.2 L1202.0,1337.6 L1205.0,1338.9 L1208.0,1340.2 L1211.0,1341.5 L1214.0,1342.8" fill="none" stroke="#eef0f4" stroke-opacity="0.6" stroke-width="7.9"/>
<path d="M8.0,1333.8 L11.0,1330.8 L14.0,1327.8 L17.0,1324.9 L20.0,1322.0 L23.0,1319.2 L26.0,1316.5 L29.0,1313.8 L32.0,1311.3 L35.0,1308.8 L38.0,1306.4 L41.0,1304.1 L44.0,1302.0 L47.0,1300.0 L50.0,1298.1 L53.0,1296.3 L56.0,1294.7 L59.0,1293.2 L62.0,1291.9 L65.0,1290.7 L68.0,1289.7 L71.0,1288.8 L74.0,1288.1 L77.0,1287.6 L80.0,1287.2 L83.0,1287.0 L86.0,1287.0 L89.0,1287.1 L92.0,1287.5 L95.0,1287.9 L98.0,1288.6 L101.0,1289.4 L104.0,1290.3 L107.0,1291.5 L110.0,1292.7 L113.0,1294.2 L116.0,1295.7 L119.0,1297.5 L122.0,1299.3 L125.0,1301.3 L128.0,1303.4 L131.0,1305.6 L134.0,1308.0 L137.0,1310.4 L140.0,1313.0 L143.0,1315.6 L146.0,1318.3 L149.0,1321.1 L152.0,1324.0 L155.0,1326.9 L158.0,1329.8 L161.0,1332.8 L164.0,1335.9 L167.0,1338.9 L170.0,1342.0 L173.0,1345.0 L176.0,1348.1 L179.0,1351.2 L182.0,1354.2 L185.0,1357.2 L188.0,1360.1 L191.0,1363.0 L194.0,1365.8 L197.0,1368.6 L200.0,1370.9 L203.0,1373.1 L206.0,1375.1 L209.0,1377.0 L212.0,1378.7 L215.0,1380.2 L218.0,1381.6 L221.0,1382.8 L224.0,1383.8 L227.0,1384.7 L230.0,1385.4 L233.0,1385.9 L236.0,1386.3 L239.0,1386.5 L242.0,1386.6 L245.0,1386.5 L248.0,1386.2 L251.0,1385.8 L254.0,1385.3 L257.0,1384.7 L260.0,1383.9 L263.0,1383.0 L266.0,1382.5 L269.0,1382.0 L272.0,1381.5 L275.0,1380.9 L278.0,1380.1 L281.0,1379.2 L284.0,1378.2 L287.0,1377.1 L290.0,1376.0 L293.0,1374.7 L296.0,1373.3 L299.0,1371.8 L302.0,1370.2 L305.0,1368.6 L308.0,1366.9 L311.0,1365.1 L314.0,1363.2 L317.0,1361.3 L320.0,1359.3 L323.0,1357.3 L326.0,1355.2 L329.0,1353.1 L332.0,1351.0 L335.0,1348.8 L338.0,1346.6 L341.0,1344.5 L344.0,1342.3 L347.0,1340.1 L350.0,1337.9 L353.0,1335.7 L356.0,1333.6 L359.0,1331.5 L362.0,1329.4 L365.0,1327.4 L368.0,1325.4 L371.0,1323.4 L374.0,1321.5 L377.0,1319.7 L380.0,1318.0 L383.0,1316.3 L386.0,1314.7 L389.0,1313.2 L392.0,1311.8 L395.0,1310.5 L398.0,1309.2 L401.0,1308.1 L404.0,1307.1 L407.0,1306.2 L410.0,1305.4 L413.0,1304.7 L416.0,1304.1 L419.0,1303.7 L422.0,1303.3 L425.0,1303.1 L428.0,1303.0 L431.0,1303.0 L434.0,1303.2 L437.0,1303.4 L440.0,1303.8 L443.0,1304.3 L446.0,1304.9 L449.0,1305.6 L452.0,1306.5 L455.0,1307.4 L458.0,1308.5 L461.0,1309.6 L464.0,1310.9 L467.0,1312.3 L470.0,1313.7 L473.0,1315.2 L476.0,1316.9 L479.0,1318.6 L482.0,1320.3 L485.0,1322.2 L488.0,1324.1 L491.0,1326.0 L494.0,1328.0 L497.0,1330.1 L500.0,1332.2 L503.0,1334.3 L506.0,1336.5 L509.0,1338.6 L512.0,1340.8 L515.0,1343.0 L518.0,1345.2 L521.0,1347.4 L524.0,1349.5 L527.0,1351.7 L530.0,1353.6 L533.0,1355.4 L536.0,1357.1 L539.0,1358.7 L542.0,1360.2 L545.0,1361.7 L548.0,1363.1 L551.0,1364.3 L554.0,1365.5 L557.0,1366.6 L560.0,1367.6 L563.0,1368.5 L566.0,1369.3 L569.0,1370.0 L572.0,1370.5 L575.0,1371.0 L578.0,1371.3 L581.0,1371.6 L584.0,1371.7 L587.0,1371.7 L590.0,1371.7 L593.0,1371.6 L596.0,1371.9 L599.0,1372.0 L602.0,1372.0 L605.0,1371.9 L608.0,1371.7 L611.0,1371.4 L614.0,1371.0 L617.0,1370.6 L620.0,1370.0 L623.0,1369.3 L626.0,1368.5 L629.0,1367.6 L632.0,1366.7 L635.0,1365.7 L638.0,1364.5 L641.0,1363.3 L644.0,1362.0 L647.0,1360.7 L650.0,1359.3 L653.0,1357.8 L656.0,1356.2 L659.0,1354.6 L662.0,1353.0 L665.0,1351.3 L668.0,1349.6 L671.0,1347.8 L674.0,1346.0 L677.0,1344.2 L680.0,1342.3 L683.0,1340.5 L686.0,1338.6 L689.0,1336.8 L692.0,1334.9 L695.0,1333.0 L698.0,1331.2 L701.0,1329.4 L704.0,1327.6 L707.0,1325.9 L710.0,1324.1 L713.0,1322.5 L716.0,1320.8 L719.0,1319.2 L722.0,1317.7 L725.0,1316.3 L728.0,1314.9 L731.0,1313.5 L734.0,1312.3 L737.0,1311.1 L740.0,1310.0 L743.0,1309.0 L746.0,1308.1 L749.0,1307.2 L752.0,1306.5 L755.0,1305.8 L758.0,1305.3 L761.0,1304.8 L764.0,1304.5 L767.0,1304.2 L770.0,1304.1 L773.0,1304.0 L776.0,1304.1 L779.0,1304.2 L782.0,1304.5 L785.0,1304.8 L788.0,1305.3 L791.0,1305.8 L794.0,1306.5 L797.0,1307.2 L800.0,1308.1 L803.0,1309.0 L806.0,1310.0 L809.0,1311.1 L812.0,1312.3 L815.0,1313.5 L818.0,1314.9 L821.0,1316.3 L824.0,1317.7 L827.0,1319.2 L830.0,1320.8 L833.0,1322.5 L836.0,1324.1 L839.0,1325.9 L842.0,1327.6 L845.0,1329.4 L848.0,1331.2 L851.0,1333.0 L854.0,1334.9 L857.0,1336.8 L860.0,1338.6 L863.0,1340.4 L866.0,1342.2 L869.0,1343.8 L872.0,1345.5 L875.0,1347.0 L878.0,1348.5 L881.0,1349.9 L884.0,1351.2 L887.0,1352.4 L890.0,1353.6 L893.0,1354.6 L896.0,1355.6 L899.0,1356.5 L902.0,1357.3 L905.0,1358.0 L908.0,1358.6 L911.0,1359.1 L914.0,1359.5 L917.0,1359.8 L920.0,1360.1 L923.0,1360.2 L926.0,1360.6 L929.0,1361.0 L932.0,1361.3 L935.0,1361.6 L938.0,1361.8 L941.0,1361.9 L944.0,1362.0 L947.0,1362.0 L950.0,1361.9 L953.0,1361.7 L956.0,1361.5 L959.0,1361.2 L962.0,1360.9 L965.0,1360.4 L968.0,1359.9 L971.0,1359.3 L974.0,1358.7 L977.0,1358.0 L980.0,1357.3 L983.0,1356.4 L986.0,1355.6 L989.0,1354.7 L992.0,1353.7 L995.0,1352.7 L998.0,1351.6 L1001.0,1350.5 L1004.0,1349.4 L1007.0,1348.2 L1010.0,1347.0 L1013.0,1345.7 L1016.0,1344.5 L1019.0,1343.2 L1022.0,1341.9 L1025.0,1340.6 L1028.0,1339.3 L1031.0,1338.0 L1034.0,1336.7 L1037.0,1335.4 L1040.0,1334.1 L1043.0,1332.8 L1046.0,1331.5 L1049.0,1330.3 L1052.0,1329.0 L1055.0,1327.8 L1058.0,1326.6 L1061.0,1325.5 L1064.0,1324.4 L1067.0,1323.3 L1070.0,1322.3 L1073.0,1321.3 L1076.0,1320.4 L1079.0,1319.6 L1082.0,1318.7 L1085.0,1318.0 L1088.0,1317.3 L1091.0,1316.7 L1094.0,1316.1 L1097.0,1315.6 L1100.0,1315.1 L1103.0,1314.8 L1106.0,1314.5 L1109.0,1314.3 L1112.0,1314.1 L1115.0,1314.0 L1118.0,1314.0 L1121.0,1314.1 L1124.0,1314.2 L1127.0,1314.4 L1130.0,1314.7 L1133.0,1315.0 L1136.0,1315.4 L1139.0,1315.9 L1142.0,1316.5 L1145.0,1317.1 L1148.0,1317.7 L1151.0,1318.5 L1154.0,1319.3 L1157.0,1320.1 L1160.0,1321.0 L1163.0,1322.0 L1166.0,1323.0 L1169.0,1324.0 L1172.0,1325.1 L1175.0,1326.3 L1178.0,1327.4 L1181.0,1328.6 L1184.0,1329.8 L1187.0,1331.1 L1190.0,1332.4 L1193.0,1333.6 L1196.0,1334.9 L1199.0,1336.2 L1202.0,1337.6 L1205.0,1338.9 L1208.0,1340.2 L1211.0,1341.5 L1214.0,1342.8" fill="none" stroke="#22ee22" stroke-width="2.9" stroke-dasharray="8 5"/>
<g><circle cx="26.0" cy="1368.7" r="10.5" fill="url(#gGreen)"/><ellipse cx="23.9" cy="1364.3" rx="6.3" ry="4.2" fill="url(#shine)"/><circle cx="26.0" cy="1368.7" r="10.5" fill="none" stroke="#000" stroke-width="2"/></g>
<g><circle cx="76.3" cy="1329.0" r="10.5" fill="url(#gGreen)"/><ellipse cx="74.2" cy="1324.6" rx="6.3" ry="4.2" fill="url(#shine)"/><circle cx="76.3" cy="1329.0" r="10.5" fill="none" stroke="#000" stroke-width="2"/></g>
<g><circle cx="143.0" cy="1304.4" r="10.5" fill="url(#gGreen)"/><ellipse cx="140.9" cy="1300.0" rx="6.3" ry="4.2" fill="url(#shine)"/><circle cx="143.0" cy="1304.4" r="10.5" fill="none" stroke="#000" stroke-width="2"/></g>
<g><circle cx="365.6" cy="1364.0" r="10.5" fill="url(#gGreen)"/><ellipse cx="363.5" cy="1359.6" rx="6.3" ry="4.2" fill="url(#shine)"/><circle cx="365.6" cy="1364.0" r="10.5" fill="none" stroke="#000" stroke-width="2"/></g>
<g><circle cx="412.4" cy="1335.0" r="10.5" fill="url(#gGreen)"/><ellipse cx="410.3" cy="1330.6" rx="6.3" ry="4.2" fill="url(#shine)"/><circle cx="412.4" cy="1335.0" r="10.5" fill="none" stroke="#000" stroke-width="2"/></g>
<g><circle cx="471.0" cy="1311.9" r="10.5" fill="url(#gGreen)"/><ellipse cx="468.9" cy="1307.5" rx="6.3" ry="4.2" fill="url(#shine)"/><circle cx="471.0" cy="1311.9" r="10.5" fill="none" stroke="#000" stroke-width="2"/></g>
<g><circle cx="705.5" cy="1355.0" r="10.5" fill="url(#gGreen)"/><ellipse cx="703.4" cy="1350.6" rx="6.3" ry="4.2" fill="url(#shine)"/><circle cx="705.5" cy="1355.0" r="10.5" fill="none" stroke="#000" stroke-width="2"/></g>
<g><circle cx="743.5" cy="1334.8" r="10.5" fill="url(#gGreen)"/><ellipse cx="741.4" cy="1330.4" rx="6.3" ry="4.2" fill="url(#shine)"/><circle cx="743.5" cy="1334.8" r="10.5" fill="none" stroke="#000" stroke-width="2"/></g>
<g><circle cx="783.0" cy="1316.5" r="10.5" fill="url(#gGreen)"/><ellipse cx="780.9" cy="1312.1" rx="6.3" ry="4.2" fill="url(#shine)"/><circle cx="783.0" cy="1316.5" r="10.5" fill="none" stroke="#000" stroke-width="2"/></g>
<g><circle cx="1045.9" cy="1352.4" r="10.5" fill="url(#gGreen)"/><ellipse cx="1043.8" cy="1348.0" rx="6.3" ry="4.2" fill="url(#shine)"/><circle cx="1045.9" cy="1352.4" r="10.5" fill="none" stroke="#000" stroke-width="2"/></g>
<g><circle cx="1080.4" cy="1337.8" r="10.5" fill="url(#gGreen)"/><ellipse cx="1078.3" cy="1333.4" rx="6.3" ry="4.2" fill="url(#shine)"/><circle cx="1080.4" cy="1337.8" r="10.5" fill="none" stroke="#000" stroke-width="2"/></g>
<g><circle cx="1113.9" cy="1323.3" r="10.5" fill="url(#gGreen)"/><ellipse cx="1111.8" cy="1318.9" rx="6.3" ry="4.2" fill="url(#shine)"/><circle cx="1113.9" cy="1323.3" r="10.5" fill="none" stroke="#000" stroke-width="2"/></g>
<circle cx="229.2" cy="1372" r="32.7" fill="none" stroke="#000" stroke-width="4"/>
<line x1="197.5" y1="1366.0" x2="79.0" y2="1592.0" stroke="#000" stroke-width="2.2" />
<line x1="260.8" y1="1368.7" x2="420.0" y2="1591.6" stroke="#000" stroke-width="2.2" />
<text x="190.77" y="1206.80" font-size="22" font-weight="bold" fill="#000" textLength="92.94" lengthAdjust="spacingAndGlyphs" >Absorber</text>
<line x1="233.2" y1="1212.0" x2="233.2" y2="1286.0" stroke="#000" stroke-width="4" />
<text x="516.47" y="1206.80" font-size="22" font-weight="bold" fill="#000" textLength="93.64" lengthAdjust="spacingAndGlyphs" >Absorber</text>
<line x1="560.4" y1="1212.0" x2="560.4" y2="1286.0" stroke="#000" stroke-width="4" />
<text x="844.16" y="1206.80" font-size="22" font-weight="bold" fill="#000" textLength="94.25" lengthAdjust="spacingAndGlyphs" >Absorber</text>
<line x1="887.5" y1="1212.0" x2="887.5" y2="1286.0" stroke="#000" stroke-width="4" />
<text x="355.82" y="1206.50" font-size="22" font-weight="bold" fill="#fff" textLength="79.20" lengthAdjust="spacingAndGlyphs" >Magnet</text>
<text x="685.54" y="1206.50" font-size="22" font-weight="bold" fill="#fff" textLength="78.18" lengthAdjust="spacingAndGlyphs" >Magnet</text>
<text x="1016.42" y="1206.50" font-size="22" font-weight="bold" fill="#fff" textLength="78.79" lengthAdjust="spacingAndGlyphs" >Magnet</text>
<text x="473.01" y="1499.50" font-size="22" font-weight="bold" fill="#000" textLength="168.20" lengthAdjust="spacingAndGlyphs" >Radio-frequency</text>
<text x="473.62" y="1526.50" font-size="22" font-weight="bold" fill="#000" textLength="62.50" lengthAdjust="spacingAndGlyphs" >cavity</text>
<line x1="491.6" y1="1454.0" x2="491.6" y2="1478.0" stroke="#000" stroke-width="4" />
<text x="801.01" y="1499.50" font-size="22" font-weight="bold" fill="#000" textLength="168.20" lengthAdjust="spacingAndGlyphs" >Radio-frequency</text>
<text x="801.62" y="1526.50" font-size="22" font-weight="bold" fill="#000" textLength="62.50" lengthAdjust="spacingAndGlyphs" >cavity</text>
<line x1="818.5" y1="1454.0" x2="818.5" y2="1478.0" stroke="#000" stroke-width="4" />
<text x="209.28" y="1490.70" font-size="75" font-weight="bold" fill="#ff0000" textLength="40.16" lengthAdjust="spacingAndGlyphs" stroke="#fff" stroke-width="5" paint-order="stroke" stroke-linejoin="round">4</text>
<text x="372.60" y="1300.00" font-size="79" font-weight="bold" fill="#ff0000" textLength="44.49" lengthAdjust="spacingAndGlyphs" stroke="#fff" stroke-width="5" paint-order="stroke" stroke-linejoin="round">5</text>
<defs><clipPath id="c2clip"><circle cx="253.5" cy="1721" r="215"/></clipPath></defs>
<circle cx="253.5" cy="1721" r="215" fill="url(#circ2G)"/>
<g clip-path="url(#c2clip)">
<circle cx="101.2" cy="1618.7" r="45.0" fill="#c8f8fc" fill-opacity="0.45" stroke="#78c8f4" stroke-width="2" stroke-opacity="0.8"/>
<circle cx="95.4" cy="1614.3" r="27.5" fill="#b8eef4" stroke="#6aa8b0" stroke-width="2" stroke-opacity="0.8"/>
<circle cx="108.4" cy="1624.5" r="29.0" fill="url(#gPink)" stroke="#6f8f8f" stroke-width="2.5"/>
<circle cx="219.8" cy="1635.0" r="45.0" fill="#c8f8fc" fill-opacity="0.45" stroke="#78c8f4" stroke-width="2" stroke-opacity="0.8"/>
<circle cx="213.9" cy="1630.6" r="27.5" fill="#b8eef4" stroke="#6aa8b0" stroke-width="2" stroke-opacity="0.8"/>
<circle cx="227.0" cy="1640.8" r="29.0" fill="url(#gPink)" stroke="#6f8f8f" stroke-width="2.5"/>
<circle cx="392.8" cy="1574.2" r="45.0" fill="#c8f8fc" fill-opacity="0.45" stroke="#78c8f4" stroke-width="2" stroke-opacity="0.8"/>
<circle cx="386.9" cy="1569.8" r="27.5" fill="#b8eef4" stroke="#6aa8b0" stroke-width="2" stroke-opacity="0.8"/>
<circle cx="400.0" cy="1580.0" r="29.0" fill="url(#gPink)" stroke="#6f8f8f" stroke-width="2.5"/>
<circle cx="143.8" cy="1827.8" r="45.0" fill="#c8f8fc" fill-opacity="0.45" stroke="#78c8f4" stroke-width="2" stroke-opacity="0.8"/>
<circle cx="137.9" cy="1823.4" r="27.5" fill="#b8eef4" stroke="#6aa8b0" stroke-width="2" stroke-opacity="0.8"/>
<circle cx="151.0" cy="1833.6" r="29.0" fill="url(#gPink)" stroke="#6f8f8f" stroke-width="2.5"/>
<circle cx="352.8" cy="1899.2" r="45.0" fill="#c8f8fc" fill-opacity="0.45" stroke="#78c8f4" stroke-width="2" stroke-opacity="0.8"/>
<circle cx="346.9" cy="1894.8" r="27.5" fill="#b8eef4" stroke="#6aa8b0" stroke-width="2" stroke-opacity="0.8"/>
<circle cx="360.0" cy="1905.0" r="29.0" fill="url(#gPink)" stroke="#6f8f8f" stroke-width="2.5"/>
<g opacity="0.6">
<circle cx="302.2" cy="1646.7" r="29.4" fill="#c8f8fc" fill-opacity="0.45" stroke="#78c8f4" stroke-width="2" stroke-opacity="0.8"/>
<circle cx="298.4" cy="1643.8" r="18.1" fill="#b8eef4" stroke="#6aa8b0" stroke-width="2" stroke-opacity="0.8"/>
<circle cx="307.0" cy="1650.5" r="19.0" fill="url(#gPink)" stroke="#6f8f8f" stroke-width="2.5"/>
<circle cx="294.2" cy="1545.2" r="29.4" fill="#c8f8fc" fill-opacity="0.45" stroke="#78c8f4" stroke-width="2" stroke-opacity="0.8"/>
<circle cx="290.4" cy="1542.3" r="18.1" fill="#b8eef4" stroke="#6aa8b0" stroke-width="2" stroke-opacity="0.8"/>
<circle cx="299.0" cy="1549.0" r="19.0" fill="url(#gPink)" stroke="#6f8f8f" stroke-width="2.5"/>
<circle cx="62.8" cy="1796.7" r="31.0" fill="#c8f8fc" fill-opacity="0.45" stroke="#78c8f4" stroke-width="2" stroke-opacity="0.8"/>
<circle cx="58.8" cy="1793.7" r="19.0" fill="#b8eef4" stroke="#6aa8b0" stroke-width="2" stroke-opacity="0.8"/>
<circle cx="67.8" cy="1800.7" r="20.0" fill="url(#gPink)" stroke="#6f8f8f" stroke-width="2.5"/>
</g>
<circle cx="263.0" cy="1617.6" r="8.0" fill="#d8f8fc" stroke="#405a5e" stroke-width="2"/>
<circle cx="96.8" cy="1666.0" r="8.0" fill="#d8f8fc" stroke="#405a5e" stroke-width="2"/>
<circle cx="360.0" cy="1558.7" r="8.0" fill="#d8f8fc" stroke="#405a5e" stroke-width="2"/>
<circle cx="288.4" cy="1575.0" r="5.0" fill="#d8f8fc" stroke="#405a5e" stroke-width="2"/>
<circle cx="85.0" cy="1782.5" r="5.0" fill="#d8f8fc" stroke="#405a5e" stroke-width="2"/>
<circle cx="164.5" cy="1791.0" r="8.0" fill="#d8f8fc" stroke="#405a5e" stroke-width="2"/>
<circle cx="308.6" cy="1891.7" r="8.0" fill="#d8f8fc" stroke="#405a5e" stroke-width="2"/>
</g>
<circle cx="50.0" cy="1727.0" r="31.0" fill="#50ff70" fill-opacity="0.050" stroke="#fff" stroke-opacity="0.00" stroke-width="0.9"/>
<circle cx="59.5" cy="1727.0" r="31.0" fill="#50ff70" fill-opacity="0.060" stroke="#fff" stroke-opacity="0.03" stroke-width="0.9"/>
<circle cx="69.1" cy="1727.0" r="31.0" fill="#50ff70" fill-opacity="0.070" stroke="#fff" stroke-opacity="0.05" stroke-width="0.9"/>
<circle cx="78.6" cy="1727.0" r="31.0" fill="#50ff70" fill-opacity="0.080" stroke="#fff" stroke-opacity="0.08" stroke-width="0.9"/>
<circle cx="88.1" cy="1727.0" r="31.0" fill="#50ff70" fill-opacity="0.090" stroke="#fff" stroke-opacity="0.11" stroke-width="0.9"/>
<circle cx="97.6" cy="1727.0" r="31.0" fill="#50ff70" fill-opacity="0.100" stroke="#fff" stroke-opacity="0.13" stroke-width="0.9"/>
<circle cx="107.2" cy="1727.0" r="31.0" fill="#50ff70" fill-opacity="0.110" stroke="#fff" stroke-opacity="0.16" stroke-width="0.9"/>
<circle cx="116.7" cy="1727.0" r="31.0" fill="#50ff70" fill-opacity="0.120" stroke="#fff" stroke-opacity="0.19" stroke-width="0.9"/>
<circle cx="126.2" cy="1727.0" r="31.0" fill="#50ff70" fill-opacity="0.130" stroke="#fff" stroke-opacity="0.21" stroke-width="0.9"/>
<circle cx="135.8" cy="1727.0" r="31.0" fill="#50ff70" fill-opacity="0.140" stroke="#fff" stroke-opacity="0.24" stroke-width="0.9"/>
<circle cx="145.3" cy="1727.0" r="31.0" fill="#50ff70" fill-opacity="0.150" stroke="#fff" stroke-opacity="0.26" stroke-width="0.9"/>
<circle cx="154.8" cy="1727.0" r="31.0" fill="#50ff70" fill-opacity="0.160" stroke="#fff" stroke-opacity="0.29" stroke-width="0.9"/>
<circle cx="164.4" cy="1727.0" r="31.0" fill="#50ff70" fill-opacity="0.170" stroke="#fff" stroke-opacity="0.32" stroke-width="0.9"/>
<circle cx="173.9" cy="1727.0" r="31.0" fill="#50ff70" fill-opacity="0.180" stroke="#fff" stroke-opacity="0.34" stroke-width="0.9"/>
<circle cx="183.4" cy="1727.0" r="31.0" fill="#50ff70" fill-opacity="0.190" stroke="#fff" stroke-opacity="0.37" stroke-width="0.9"/>
<circle cx="192.9" cy="1727.0" r="31.0" fill="#50ff70" fill-opacity="0.200" stroke="#fff" stroke-opacity="0.40" stroke-width="0.9"/>
<circle cx="202.5" cy="1727.0" r="31.0" fill="#50ff70" fill-opacity="0.210" stroke="#fff" stroke-opacity="0.42" stroke-width="0.9"/>
<circle cx="212.0" cy="1727.0" r="31.0" fill="#50ff70" fill-opacity="0.220" stroke="#fff" stroke-opacity="0.45" stroke-width="0.9"/>
<circle cx="318.0" cy="1698.0" r="33.0" fill="#50ff70" fill-opacity="0.050" stroke="#fff" stroke-opacity="0.00" stroke-width="0.9"/>
<circle cx="326.6" cy="1695.3" r="33.0" fill="#50ff70" fill-opacity="0.069" stroke="#fff" stroke-opacity="0.05" stroke-width="0.9"/>
<circle cx="335.1" cy="1692.7" r="33.0" fill="#50ff70" fill-opacity="0.088" stroke="#fff" stroke-opacity="0.10" stroke-width="0.9"/>
<circle cx="343.7" cy="1690.0" r="33.0" fill="#50ff70" fill-opacity="0.107" stroke="#fff" stroke-opacity="0.15" stroke-width="0.9"/>
<circle cx="352.2" cy="1687.3" r="33.0" fill="#50ff70" fill-opacity="0.126" stroke="#fff" stroke-opacity="0.20" stroke-width="0.9"/>
<circle cx="360.8" cy="1684.7" r="33.0" fill="#50ff70" fill-opacity="0.144" stroke="#fff" stroke-opacity="0.25" stroke-width="0.9"/>
<circle cx="369.3" cy="1682.0" r="33.0" fill="#50ff70" fill-opacity="0.163" stroke="#fff" stroke-opacity="0.30" stroke-width="0.9"/>
<circle cx="377.9" cy="1679.3" r="33.0" fill="#50ff70" fill-opacity="0.182" stroke="#fff" stroke-opacity="0.35" stroke-width="0.9"/>
<circle cx="386.4" cy="1676.7" r="33.0" fill="#50ff70" fill-opacity="0.201" stroke="#fff" stroke-opacity="0.40" stroke-width="0.9"/>
<circle cx="395.0" cy="1674.0" r="33.0" fill="#50ff70" fill-opacity="0.220" stroke="#fff" stroke-opacity="0.45" stroke-width="0.9"/>
<defs><linearGradient id="gArr" x1="0" x2="1"><stop offset="0" stop-color="#2ef02e" stop-opacity="0"/><stop offset="0.35" stop-color="#2ef02e" stop-opacity="0.9"/><stop offset="1" stop-color="#2ef02e"/></linearGradient></defs>
<polygon points="15,1717.4 143,1717.4 143,1702 182,1727 143,1752 143,1736.8 15,1736.8" fill="url(#gArr)"/>
<polygon points="250,1712 327,1690 322,1674 368,1682 336,1716 332,1701 256,1731" fill="#2ef02e"/>
<g><circle cx="242.0" cy="1777.5" r="38.7" fill="url(#gCyan)"/><ellipse cx="234.3" cy="1761.2" rx="23.2" ry="15.5" fill="url(#shine)"/><circle cx="242.0" cy="1777.5" r="38.7" fill="none" stroke="#000" stroke-width="3"/></g>
<g><circle cx="219.5" cy="1727.0" r="33.0" fill="url(#gGreen)"/><ellipse cx="212.9" cy="1713.1" rx="19.8" ry="13.2" fill="url(#shine)"/><circle cx="219.5" cy="1727.0" r="33.0" fill="none" stroke="#000" stroke-width="3"/></g>
<g><circle cx="271.0" cy="1791.0" r="41.8" fill="url(#gRed)"/><ellipse cx="262.6" cy="1773.4" rx="25.1" ry="16.7" fill="url(#shine)"/><circle cx="271.0" cy="1791.0" r="41.8" fill="none" stroke="#000" stroke-width="3"/></g>
<polygon points="240,1762 330,1822 336,1812 374,1853 322,1840 326,1832 234,1774" fill="#fff" fill-opacity="0.6"/>
<g><circle cx="401.5" cy="1672.0" r="33.0" fill="url(#gGreen)"/><ellipse cx="394.9" cy="1658.1" rx="19.8" ry="13.2" fill="url(#shine)"/><circle cx="401.5" cy="1672.0" r="33.0" fill="none" stroke="#000" stroke-width="3"/></g>
<circle cx="333.0" cy="1824.0" r="11.6" fill="#d8f8fc" stroke="#405a5e" stroke-width="2"/>
<circle cx="253.5" cy="1721" r="215" fill="none" stroke="#000" stroke-width="4"/>
<text x="157.18" y="1556.80" font-size="21" font-weight="bold" fill="#000" textLength="101.45" lengthAdjust="spacingAndGlyphs" >Hydrogen</text>
<text x="181.32" y="1578.80" font-size="21" font-weight="bold" fill="#000" textLength="54.01" lengthAdjust="spacingAndGlyphs" >atom</text>
<line x1="212.0" y1="1584.0" x2="212.0" y2="1604.0" stroke="#000" stroke-width="3.5" />
<text x="370.81" y="1747.60" font-size="21" font-weight="bold" fill="#000" textLength="60.36" lengthAdjust="spacingAndGlyphs" >Muon</text>
<line x1="404.6" y1="1705.0" x2="404.6" y2="1731.0" stroke="#000" stroke-width="3.5" />
<text x="352.69" y="1798.00" font-size="21" font-weight="bold" fill="#000" textLength="86.12" lengthAdjust="spacingAndGlyphs" >Electron</text>
<path d="M333,1812 V1791 H350" fill="none" stroke="#000" stroke-width="3.5"/>
<text x="206.46" y="1870.40" font-size="21" font-weight="bold" fill="#000" textLength="75.64" lengthAdjust="spacingAndGlyphs" >Ionized</text>
<text x="195.19" y="1892.40" font-size="21" font-weight="bold" fill="#000" textLength="98.53" lengthAdjust="spacingAndGlyphs" >hydrogen</text>
<line x1="231.0" y1="1814.0" x2="231.0" y2="1853.0" stroke="#000" stroke-width="3.5" />
<text x="471.11" y="1605.20" font-size="50" font-weight="bold" fill="#000" textLength="27.39" lengthAdjust="spacingAndGlyphs" >4</text>
<text x="508.56" y="1587.10" font-size="20.5" font-weight="normal" fill="#000" textLength="243.08" lengthAdjust="spacingAndGlyphs" stroke="#000" stroke-width="0.25">The muons pass through</text>
<text x="508.10" y="1614.62" font-size="20.5" font-weight="normal" fill="#000" textLength="206.16" lengthAdjust="spacingAndGlyphs" stroke="#000" stroke-width="0.25">an absorber material</text>
<text x="507.41" y="1642.14" font-size="20.5" font-weight="normal" fill="#000" textLength="248.85" lengthAdjust="spacingAndGlyphs" stroke="#000" stroke-width="0.25">made of liquid hydrogen.</text>
<text x="508.54" y="1669.66" font-size="20.5" font-weight="normal" fill="#000" textLength="232.58" lengthAdjust="spacingAndGlyphs" stroke="#000" stroke-width="0.25">The muons collide with</text>
<text x="508.78" y="1697.18" font-size="20.5" font-weight="normal" fill="#000" textLength="241.66" lengthAdjust="spacingAndGlyphs" stroke="#000" stroke-width="0.25">the hydrogen atoms and</text>
<text x="507.37" y="1724.70" font-size="20.5" font-weight="normal" fill="#000" textLength="199.84" lengthAdjust="spacingAndGlyphs" stroke="#000" stroke-width="0.25">knock off electrons,</text>
<text x="507.41" y="1752.22" font-size="20.5" font-weight="normal" fill="#000" textLength="202.58" lengthAdjust="spacingAndGlyphs" stroke="#000" stroke-width="0.25">losing energy to this</text>
<text x="507.38" y="1779.74" font-size="20.5" font-weight="normal" fill="#000" textLength="238.45" lengthAdjust="spacingAndGlyphs" stroke="#000" stroke-width="0.25">ionization of the atoms.</text>
<text x="508.56" y="1807.26" font-size="20.5" font-weight="normal" fill="#000" textLength="248.97" lengthAdjust="spacingAndGlyphs" stroke="#000" stroke-width="0.25">This causes the muons to</text>
<text x="508.30" y="1834.78" font-size="20.5" font-weight="normal" fill="#000" textLength="115.01" lengthAdjust="spacingAndGlyphs" stroke="#000" stroke-width="0.25">slow down.</text>
<text x="789.28" y="1602.90" font-size="50" font-weight="bold" fill="#000" textLength="26.25" lengthAdjust="spacingAndGlyphs" >5</text>
<text x="823.58" y="1587.60" font-size="20.5" font-weight="normal" fill="#000" textLength="252.17" lengthAdjust="spacingAndGlyphs" stroke="#000" stroke-width="0.25">Magnetic fields guide the</text>
<text x="824.02" y="1615.03" font-size="20.5" font-weight="normal" fill="#000" textLength="295.56" lengthAdjust="spacingAndGlyphs" stroke="#000" stroke-width="0.25">particles into radio-frequency</text>
<text x="824.50" y="1642.46" font-size="20.5" font-weight="normal" fill="#000" textLength="309.37" lengthAdjust="spacingAndGlyphs" stroke="#000" stroke-width="0.25">cavities. These cavities contain</text>
<text x="824.48" y="1669.89" font-size="20.5" font-weight="normal" fill="#000" textLength="316.74" lengthAdjust="spacingAndGlyphs" stroke="#000" stroke-width="0.25">electromagnetic fields that give</text>
<text x="825.17" y="1697.32" font-size="20.5" font-weight="normal" fill="#000" textLength="325.65" lengthAdjust="spacingAndGlyphs" stroke="#000" stroke-width="0.25">the muons back their lost energy</text>
<text x="824.03" y="1724.75" font-size="20.5" font-weight="normal" fill="#000" textLength="324.05" lengthAdjust="spacingAndGlyphs" stroke="#000" stroke-width="0.25">by replacing the momentum lost</text>
<text x="823.79" y="1752.18" font-size="20.5" font-weight="normal" fill="#000" textLength="284.69" lengthAdjust="spacingAndGlyphs" stroke="#000" stroke-width="0.25">in the direction of the beam.</text>
<text x="823.36" y="1779.61" font-size="20.5" font-weight="normal" fill="#000" textLength="271.80" lengthAdjust="spacingAndGlyphs" stroke="#000" stroke-width="0.25">In this way, the muons lose</text>
<text x="824.49" y="1807.04" font-size="20.5" font-weight="normal" fill="#000" textLength="285.52" lengthAdjust="spacingAndGlyphs" stroke="#000" stroke-width="0.25">energy and momentum in all</text>
<text x="824.50" y="1834.47" font-size="20.5" font-weight="normal" fill="#000" textLength="301.79" lengthAdjust="spacingAndGlyphs" stroke="#000" stroke-width="0.25">directions and are accelerated</text>
<text x="823.78" y="1861.90" font-size="20.5" font-weight="normal" fill="#000" textLength="212.75" lengthAdjust="spacingAndGlyphs" stroke="#000" stroke-width="0.25">in only one direction.</text>
<text x="508.56" y="1936.00" font-size="20.5" font-weight="normal" fill="#000" textLength="544.04" lengthAdjust="spacingAndGlyphs" stroke="#000" stroke-width="0.25">This process is repeated until the muon beam is almost</text>
<text x="507.39" y="1964.50" font-size="20.5" font-weight="normal" fill="#000" textLength="548.64" lengthAdjust="spacingAndGlyphs" stroke="#000" stroke-width="0.25">laser-like, ready for injection into the main accelerator.</text>
<text x="80.44" y="1970.00" font-size="21" font-weight="normal" font-style="italic" fill="#000" textLength="307.99" lengthAdjust="spacingAndGlyphs" stroke="#000" stroke-width="0.25">Infographic: STFC, Ben Gilliland</text>
</svg></body></html>
